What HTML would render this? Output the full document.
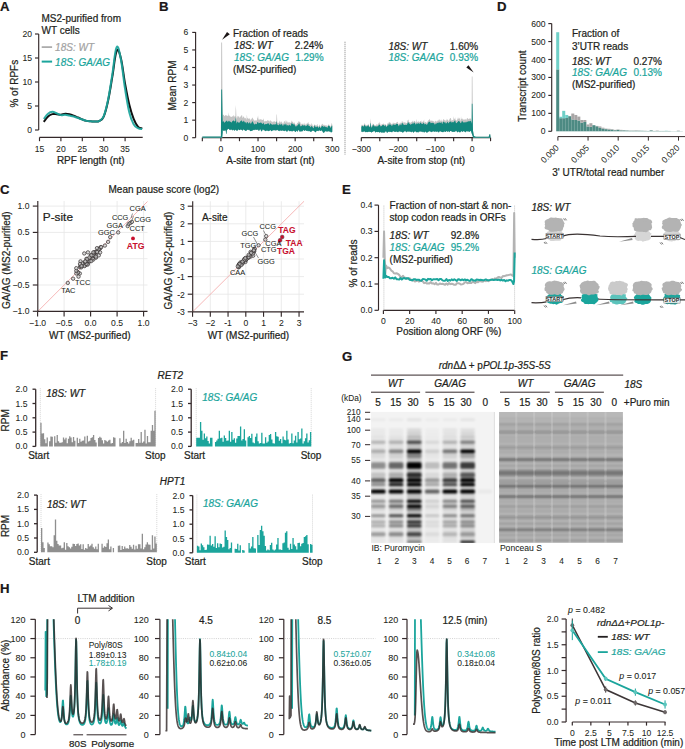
<!DOCTYPE html>
<html><head><meta charset="utf-8"><style>
html,body{margin:0;padding:0;background:#fff;}
svg{display:block;font-family:"Liberation Sans", sans-serif;}
</style></head><body>
<svg width="685" height="749" viewBox="0 0 685 749">
<rect width="685" height="749" fill="#fff"/>
<text x="0" y="10.6" font-size="13.2" fill="#1a1617" stroke="#1a1617" stroke-width="0.22" font-weight="bold">A</text>
<text x="41.5" y="21.8" font-size="10" fill="#231f20" stroke="#231f20" stroke-width="0.22">MS2-purified from</text>
<text x="41.5" y="33.6" font-size="10" fill="#231f20" stroke="#231f20" stroke-width="0.22">WT cells</text>
<line x1="38.7" y1="34" x2="38.7" y2="130" stroke="#34292a" stroke-width="1.15" />
<line x1="35" y1="34" x2="38.7" y2="34" stroke="#34292a" stroke-width="1.15" />
<text x="32" y="37" font-size="8.6" fill="#231f20" stroke="#231f20" stroke-width="0.06" text-anchor="end">20</text>
<line x1="35" y1="58" x2="38.7" y2="58" stroke="#34292a" stroke-width="1.15" />
<text x="32" y="61" font-size="8.6" fill="#231f20" stroke="#231f20" stroke-width="0.06" text-anchor="end">15</text>
<line x1="35" y1="82" x2="38.7" y2="82" stroke="#34292a" stroke-width="1.15" />
<text x="32" y="85" font-size="8.6" fill="#231f20" stroke="#231f20" stroke-width="0.06" text-anchor="end">10</text>
<line x1="35" y1="106" x2="38.7" y2="106" stroke="#34292a" stroke-width="1.15" />
<text x="32" y="109" font-size="8.6" fill="#231f20" stroke="#231f20" stroke-width="0.06" text-anchor="end">5</text>
<line x1="35" y1="130" x2="38.7" y2="130" stroke="#34292a" stroke-width="1.15" />
<text x="32" y="133" font-size="8.6" fill="#231f20" stroke="#231f20" stroke-width="0.06" text-anchor="end">0</text>
<text transform="translate(18.4,83.7) rotate(-90)" font-size="10" fill="#231f20" stroke="#231f20" stroke-width="0.22" text-anchor="middle">% of RPFs</text>
<line x1="39.5" y1="137.4" x2="142.7" y2="137.4" stroke="#34292a" stroke-width="1.15" />
<line x1="39.5" y1="137.4" x2="39.5" y2="141.2" stroke="#34292a" stroke-width="1.15" />
<text x="39.5" y="151.7" font-size="8.6" fill="#231f20" stroke="#231f20" stroke-width="0.06" text-anchor="middle">15</text>
<line x1="60.9" y1="137.4" x2="60.9" y2="141.2" stroke="#34292a" stroke-width="1.15" />
<text x="60.9" y="151.7" font-size="8.6" fill="#231f20" stroke="#231f20" stroke-width="0.06" text-anchor="middle">20</text>
<line x1="82.3" y1="137.4" x2="82.3" y2="141.2" stroke="#34292a" stroke-width="1.15" />
<text x="82.3" y="151.7" font-size="8.6" fill="#231f20" stroke="#231f20" stroke-width="0.06" text-anchor="middle">25</text>
<line x1="103.7" y1="137.4" x2="103.7" y2="141.2" stroke="#34292a" stroke-width="1.15" />
<text x="103.7" y="151.7" font-size="8.6" fill="#231f20" stroke="#231f20" stroke-width="0.06" text-anchor="middle">30</text>
<line x1="125.1" y1="137.4" x2="125.1" y2="141.2" stroke="#34292a" stroke-width="1.15" />
<text x="125.1" y="151.7" font-size="8.6" fill="#231f20" stroke="#231f20" stroke-width="0.06" text-anchor="middle">35</text>
<text x="90.8" y="163.7" font-size="10" fill="#231f20" stroke="#231f20" stroke-width="0.22" text-anchor="middle">RPF length (nt)</text>
<line x1="41.7" y1="47.1" x2="52.1" y2="47.1" stroke="#a3a3a3" stroke-width="1.6" />
<text x="55.1" y="50.8" font-size="10" fill="#a3a3a3" stroke="#a3a3a3" stroke-width="0.22" font-style="italic">18S: WT</text>
<line x1="41.7" y1="61.6" x2="52.1" y2="61.6" stroke="#1ba59c" stroke-width="2" />
<text x="55.1" y="65.5" font-size="10" fill="#1ba59c" stroke="#1ba59c" stroke-width="0.22" font-style="italic">18S: GA/AG</text>
<path d="M43.78,121.84 C44.64,120.78 46.35,118.1 48.06,116.56 C49.77,115.02 50.63,114.64 52.34,114.16 C54.05,113.68 54.91,114.06 56.62,114.16 C58.33,114.26 59.19,114.74 60.9,114.64 C62.61,114.54 63.47,113.78 65.18,113.68 C66.89,113.58 67.75,113.78 69.46,114.16 C71.17,114.54 72.03,114.93 73.74,115.6 C75.45,116.27 76.31,116.75 78.02,117.52 C79.73,118.29 80.59,118.77 82.3,119.44 C84.01,120.11 84.87,120.5 86.58,120.88 C88.29,121.26 89.15,121.22 90.86,121.36 C92.57,121.5 93.43,121.7 95.14,121.6 C96.85,121.5 97.71,121.89 99.42,120.88 C101.13,119.87 101.99,120.5 103.7,116.56 C105.41,112.62 106.27,109.07 107.98,101.2 C109.69,93.33 110.55,87.18 112.26,77.2 C113.97,67.22 114.83,55.12 116.54,51.28 C118.25,47.44 119.11,51.47 120.82,58 C122.53,64.53 123.39,74.51 125.1,83.92 C126.81,93.33 127.67,98.03 129.38,105.04 C131.09,112.05 131.95,114.64 133.66,118.96 C135.37,123.28 136.23,124.72 137.94,126.64 C139.65,128.56 141.36,128.18 142.22,128.56" stroke="#111" stroke-width="2" fill="none" stroke-linejoin="round"/>
<path d="M43.78,118.96 C44.64,117.9 46.35,115.12 48.06,113.68 C49.77,112.24 50.63,111.86 52.34,111.76 C54.05,111.66 54.91,112.53 56.62,113.2 C58.33,113.87 59.19,114.83 60.9,115.12 C62.61,115.41 63.47,114.54 65.18,114.64 C66.89,114.74 67.75,115.22 69.46,115.6 C71.17,115.98 72.03,116.08 73.74,116.56 C75.45,117.04 76.31,117.42 78.02,118 C79.73,118.58 80.59,118.86 82.3,119.44 C84.01,120.02 84.87,120.5 86.58,120.88 C88.29,121.26 89.15,121.22 90.86,121.36 C92.57,121.5 93.43,121.7 95.14,121.6 C96.85,121.5 97.71,121.98 99.42,120.88 C101.13,119.78 101.99,120.21 103.7,116.08 C105.41,111.95 106.27,108.5 107.98,100.24 C109.69,91.98 110.55,85.36 112.26,74.8 C113.97,64.24 114.83,50.61 116.54,47.44 C118.25,44.27 119.11,50.61 120.82,58.96 C122.53,67.31 123.39,78.45 125.1,89.2 C126.81,99.95 127.67,105.71 129.38,112.72 C131.09,119.73 131.95,121.17 133.66,124.24 C135.37,127.31 136.23,127.12 137.94,128.08 C139.65,129.04 141.36,128.85 142.22,129.04" stroke="#1ba59c" stroke-width="2" fill="none" stroke-linejoin="round" opacity="0.92"/>
<text x="159" y="10.6" font-size="13.2" fill="#1a1617" stroke="#1a1617" stroke-width="0.22" font-weight="bold">B</text>
<line x1="195.6" y1="32" x2="195.6" y2="137.7" stroke="#34292a" stroke-width="1.15" />
<line x1="192.2" y1="32.4" x2="195.6" y2="32.4" stroke="#34292a" stroke-width="1.15" />
<text x="188.3" y="35.4" font-size="8.6" fill="#231f20" stroke="#231f20" stroke-width="0.06" text-anchor="end">6</text>
<line x1="192.2" y1="49.95" x2="195.6" y2="49.95" stroke="#34292a" stroke-width="1.15" />
<text x="188.3" y="52.95" font-size="8.6" fill="#231f20" stroke="#231f20" stroke-width="0.06" text-anchor="end">5</text>
<line x1="192.2" y1="67.5" x2="195.6" y2="67.5" stroke="#34292a" stroke-width="1.15" />
<text x="188.3" y="70.5" font-size="8.6" fill="#231f20" stroke="#231f20" stroke-width="0.06" text-anchor="end">4</text>
<line x1="192.2" y1="85.05" x2="195.6" y2="85.05" stroke="#34292a" stroke-width="1.15" />
<text x="188.3" y="88.05" font-size="8.6" fill="#231f20" stroke="#231f20" stroke-width="0.06" text-anchor="end">3</text>
<line x1="192.2" y1="102.6" x2="195.6" y2="102.6" stroke="#34292a" stroke-width="1.15" />
<text x="188.3" y="105.6" font-size="8.6" fill="#231f20" stroke="#231f20" stroke-width="0.06" text-anchor="end">2</text>
<line x1="192.2" y1="120.15" x2="195.6" y2="120.15" stroke="#34292a" stroke-width="1.15" />
<text x="188.3" y="123.15" font-size="8.6" fill="#231f20" stroke="#231f20" stroke-width="0.06" text-anchor="end">1</text>
<line x1="192.2" y1="137.7" x2="195.6" y2="137.7" stroke="#34292a" stroke-width="1.15" />
<text x="188.3" y="140.7" font-size="8.6" fill="#231f20" stroke="#231f20" stroke-width="0.06" text-anchor="end">0</text>
<text transform="translate(176.3,85.5) rotate(-90)" font-size="10" fill="#231f20" stroke="#231f20" stroke-width="0.22" text-anchor="middle">Mean RPM</text>
<line x1="202.34" y1="137.6" x2="332.29" y2="137.6" stroke="#34292a" stroke-width="1.15" />
<line x1="202.34" y1="137.6" x2="202.34" y2="141.2" stroke="#34292a" stroke-width="1.15" />
<line x1="220.9" y1="137.6" x2="220.9" y2="141.2" stroke="#34292a" stroke-width="1.15" />
<text x="220.9" y="151.5" font-size="8.6" fill="#231f20" stroke="#231f20" stroke-width="0.06" text-anchor="middle">0</text>
<line x1="239.47" y1="137.6" x2="239.47" y2="141.2" stroke="#34292a" stroke-width="1.15" />
<line x1="258.03" y1="137.6" x2="258.03" y2="141.2" stroke="#34292a" stroke-width="1.15" />
<text x="258.03" y="151.5" font-size="8.6" fill="#231f20" stroke="#231f20" stroke-width="0.06" text-anchor="middle">100</text>
<line x1="276.6" y1="137.6" x2="276.6" y2="141.2" stroke="#34292a" stroke-width="1.15" />
<line x1="295.16" y1="137.6" x2="295.16" y2="141.2" stroke="#34292a" stroke-width="1.15" />
<text x="295.16" y="151.5" font-size="8.6" fill="#231f20" stroke="#231f20" stroke-width="0.06" text-anchor="middle">200</text>
<line x1="313.73" y1="137.6" x2="313.73" y2="141.2" stroke="#34292a" stroke-width="1.15" />
<line x1="332.29" y1="137.6" x2="332.29" y2="141.2" stroke="#34292a" stroke-width="1.15" />
<text x="332.29" y="151.5" font-size="8.6" fill="#231f20" stroke="#231f20" stroke-width="0.06" text-anchor="middle">300</text>
<text x="270.5" y="163.7" font-size="10" fill="#231f20" stroke="#231f20" stroke-width="0.22" text-anchor="middle">A-site from start (nt)</text>
<line x1="361.31" y1="137.6" x2="490.56" y2="137.6" stroke="#34292a" stroke-width="1.15" />
<line x1="361.31" y1="137.6" x2="361.31" y2="141.2" stroke="#34292a" stroke-width="1.15" />
<text x="361.31" y="151.5" font-size="8.6" fill="#231f20" stroke="#231f20" stroke-width="0.06" text-anchor="middle">−300</text>
<line x1="379.78" y1="137.6" x2="379.78" y2="141.2" stroke="#34292a" stroke-width="1.15" />
<line x1="398.24" y1="137.6" x2="398.24" y2="141.2" stroke="#34292a" stroke-width="1.15" />
<text x="398.24" y="151.5" font-size="8.6" fill="#231f20" stroke="#231f20" stroke-width="0.06" text-anchor="middle">−200</text>
<line x1="416.71" y1="137.6" x2="416.71" y2="141.2" stroke="#34292a" stroke-width="1.15" />
<line x1="435.17" y1="137.6" x2="435.17" y2="141.2" stroke="#34292a" stroke-width="1.15" />
<text x="435.17" y="151.5" font-size="8.6" fill="#231f20" stroke="#231f20" stroke-width="0.06" text-anchor="middle">−100</text>
<line x1="453.64" y1="137.6" x2="453.64" y2="141.2" stroke="#34292a" stroke-width="1.15" />
<line x1="472.1" y1="137.6" x2="472.1" y2="141.2" stroke="#34292a" stroke-width="1.15" />
<text x="472.1" y="151.5" font-size="8.6" fill="#231f20" stroke="#231f20" stroke-width="0.06" text-anchor="middle">0</text>
<line x1="490.56" y1="137.6" x2="490.56" y2="141.2" stroke="#34292a" stroke-width="1.15" />
<text x="421.3" y="163.7" font-size="10" fill="#231f20" stroke="#231f20" stroke-width="0.22" text-anchor="middle">A-site from stop (nt)</text>
<line x1="345" y1="41.8" x2="345" y2="154.5" stroke="#8a8a8a" stroke-width="1.1" stroke-dasharray="1,1"/>
<path d="M202.34,136.65 L220.9,136.65 L221.2,42.58 L222.09,42.58 L222.57,113.13 L222.76,115.67 L223.13,115.03 L223.5,114.7 L223.87,114.76 L224.24,115.8 L224.61,116.27 L224.98,115.91 L225.36,115.33 L225.73,115.04 L226.1,115.32 L226.47,115.3 L226.84,115.75 L227.21,115.5 L227.58,116.19 L227.95,115.92 L228.33,112.14 L228.7,115.65 L229.07,115.63 L229.44,115.18 L229.81,115.91 L230.18,116.81 L230.55,116.78 L230.93,116.35 L231.3,116.66 L231.67,116.89 L232.04,116.9 L232.41,116.04 L232.78,116.51 L233.15,115.04 L233.52,115.56 L233.9,116.73 L234.27,115.5 L234.64,117.21 L235.01,116.28 L235.38,116.06 L235.75,105.04 L236.12,110.03 L236.49,119.31 L236.87,117.05 L237.24,117.73 L237.61,115.72 L237.98,116.04 L238.35,116.25 L238.72,116.71 L239.09,116.6 L239.47,117.33 L239.84,118.13 L240.21,116.99 L240.58,116.33 L240.95,116.51 L241.32,115.62 L241.69,115.23 L242.06,114.93 L242.44,117.44 L242.81,117.99 L243.18,116.97 L243.55,116.1 L243.92,117 L244.29,117.41 L244.66,118.46 L245.03,118.1 L245.41,118.54 L245.78,117.59 L246.15,119.88 L246.52,118.86 L246.89,114.48 L247.26,117.88 L247.63,118.34 L248,118.25 L248.38,118.5 L248.75,119.07 L249.12,119.31 L249.49,118.37 L249.86,118.34 L250.23,119.34 L250.6,120.89 L250.98,119.76 L251.35,119.35 L251.72,118.39 L252.09,118.55 L252.46,117.4 L252.83,117.8 L253.2,119.17 L253.57,119.28 L253.95,120.54 L254.32,120.27 L254.69,120.63 L255.06,121.08 L255.43,119.89 L255.8,120.62 L256.17,120.51 L256.54,120.39 L256.92,120.33 L257.29,117.75 L257.66,117.69 L258.03,115.31 L258.4,118.79 L258.77,119.7 L259.14,119.49 L259.52,119.97 L259.89,118.83 L260.26,119.02 L260.63,119.47 L261,119.65 L261.37,119.86 L261.74,119.28 L262.11,119.73 L262.49,120.12 L262.86,119.95 L263.23,119.45 L263.6,118.24 L263.97,120.58 L264.34,121.7 L264.71,121.45 L265.08,120.78 L265.46,121.12 L265.83,121.42 L266.2,121.11 L266.57,121.05 L266.94,121.42 L267.31,120.34 L267.68,120.22 L268.06,120.27 L268.43,120.91 L268.8,120.51 L269.17,120.87 L269.54,122.09 L269.91,120.43 L270.28,120.05 L270.65,120.69 L271.03,121.5 L271.4,121 L271.77,121.59 L272.14,122.55 L272.51,121.37 L272.88,122.21 L273.25,122.02 L273.62,121.33 L274,121.19 L274.37,121.25 L274.74,121.46 L275.11,121.83 L275.48,121.75 L275.85,121.97 L276.22,122.28 L276.6,113.78 L276.97,115.32 L277.34,123.18 L277.71,122.53 L278.08,122.32 L278.45,122.65 L278.82,123.3 L279.19,121.9 L279.57,121.33 L279.94,120.47 L280.31,121.98 L280.68,122.6 L281.05,122.86 L281.42,121.53 L281.79,121.59 L282.16,122.59 L282.54,123.41 L282.91,123.76 L283.28,123.65 L283.65,122.39 L284.02,121.25 L284.39,121.1 L284.76,121.57 L285.13,123.09 L285.51,122.12 L285.88,120.07 L286.25,120.78 L286.62,121.87 L286.99,122.68 L287.36,122.71 L287.73,121.08 L288.11,122.75 L288.48,122.8 L288.85,121.68 L289.22,122.39 L289.59,121.79 L289.96,123.18 L290.33,123.03 L290.7,122.78 L291.08,121.79 L291.45,120.27 L291.82,122.1 L292.19,121.68 L292.56,121.45 L292.93,122.03 L293.3,123 L293.67,123.16 L294.05,122.02 L294.42,122.82 L294.79,123.16 L295.16,124.39 L295.53,124.24 L295.9,125.36 L296.27,124.45 L296.65,124.47 L297.02,123.11 L297.39,123.3 L297.76,122.5 L298.13,122.68 L298.5,120.99 L298.87,121.62 L299.24,121.96 L299.62,121.19 L299.99,122.34 L300.36,122.34 L300.73,124.06 L301.1,124.69 L301.47,123.9 L301.84,123.49 L302.21,123.94 L302.59,123.79 L302.96,123.6 L303.33,123.45 L303.7,125.06 L304.07,124.5 L304.44,124.24 L304.81,122.5 L305.19,123.66 L305.56,124.73 L305.93,125.18 L306.3,123.94 L306.67,123.82 L307.04,122.95 L307.41,123.69 L307.78,122.71 L308.16,121.87 L308.53,122.88 L308.9,124.23 L309.27,124.89 L309.64,123.74 L310.01,124.34 L310.38,124.5 L310.75,125.32 L311.13,125.09 L311.5,123.14 L311.87,123.42 L312.24,124.41 L312.61,125.21 L312.98,126.52 L313.35,125.93 L313.73,126.37 L314.1,124.46 L314.47,124.45 L314.84,124.63 L315.21,125.47 L315.58,125.13 L315.95,124.79 L316.32,125.69 L316.7,125.44 L317.07,124.19 L317.44,123.89 L317.81,125.41 L318.18,126.14 L318.55,126.48 L318.92,126.18 L319.29,124.92 L319.67,124.39 L320.04,125.62 L320.41,126.94 L320.78,126.4 L321.15,124.64 L321.52,124.26 L321.89,125.31 L322.26,123.5 L322.64,124.09 L323.01,124.42 L323.38,125.13 L323.75,124.78 L324.12,124.45 L324.49,125.26 L324.86,125.45 L325.24,125.27 L325.61,125.2 L325.98,125.76 L326.35,125.57 L326.72,125.27 L327.09,125.94 L327.46,126.85 L327.83,125.35 L328.21,124.81 L328.58,124.74 L328.95,123.89 L329.32,125.24 L329.69,125.45 L330.06,125.46 L330.43,127.04 L330.8,126.08 L331.18,125.25 L331.55,123.1 L331.92,123.56 L332.29,124.92 L332.29,131.68 L331.92,131.96 L331.55,132.11 L331.18,132.74 L330.8,132.29 L330.43,131.7 L330.06,131.53 L329.69,131.78 L329.32,131.56 L328.95,130.96 L328.58,131.16 L328.21,131.51 L327.83,131.67 L327.46,131.34 L327.09,131.44 L326.72,131.56 L326.35,131.6 L325.98,131.33 L325.61,131.27 L325.24,131.18 L324.86,131.6 L324.49,132.15 L324.12,132.62 L323.75,132.74 L323.38,132.84 L323.01,132.38 L322.64,131.57 L322.26,131.2 L321.89,130.77 L321.52,130.56 L321.15,130.14 L320.78,130.72 L320.41,130.93 L320.04,131.03 L319.67,130.36 L319.29,130.51 L318.92,130.35 L318.55,131.23 L318.18,131.12 L317.81,131.1 L317.44,130.88 L317.07,130.61 L316.7,130.98 L316.32,131.25 L315.95,132.03 L315.58,132.22 L315.21,132.25 L314.84,131.8 L314.47,131.31 L314.1,131.21 L313.73,130.9 L313.35,130.71 L312.98,130.22 L312.61,130.72 L312.24,131.06 L311.87,131.13 L311.5,131.58 L311.13,131.7 L310.75,132.04 L310.38,131.56 L310.01,131.56 L309.64,131.22 L309.27,130.99 L308.9,130.71 L308.53,131.25 L308.16,131.17 L307.78,131.36 L307.41,130.81 L307.04,130.65 L306.67,130.99 L306.3,130.75 L305.93,130.62 L305.56,130.23 L305.19,130.34 L304.81,130.81 L304.44,131.09 L304.07,130.67 L303.7,130.29 L303.33,129.81 L302.96,130.84 L302.59,130.95 L302.21,131.57 L301.84,131.37 L301.47,131.6 L301.1,131.28 L300.73,131.29 L300.36,131.47 L299.99,131.9 L299.62,131.44 L299.24,131.04 L298.87,130.28 L298.5,130.11 L298.13,130.48 L297.76,131.17 L297.39,131.79 L297.02,131.44 L296.65,130.77 L296.27,130.85 L295.9,131.55 L295.53,132.11 L295.16,132.11 L294.79,131.26 L294.42,131.16 L294.05,130.42 L293.67,130.75 L293.3,130.69 L292.93,131.18 L292.56,131.38 L292.19,130.96 L291.82,131.05 L291.45,130.88 L291.08,131.69 L290.7,130.98 L290.33,131.11 L289.96,130.85 L289.59,131.43 L289.22,131.02 L288.85,130.7 L288.48,130.25 L288.11,130.27 L287.73,130.8 L287.36,131.44 L286.99,131.89 L286.62,131.45 L286.25,130.91 L285.88,130.63 L285.51,130.47 L285.13,130.38 L284.76,130.63 L284.39,131.13 L284.02,130.89 L283.65,131.12 L283.28,130.54 L282.91,130.58 L282.54,130.51 L282.16,130.53 L281.79,130.8 L281.42,130.79 L281.05,130.86 L280.68,130.81 L280.31,130.2 L279.94,130.44 L279.57,130.64 L279.19,131.31 L278.82,131.1 L278.45,130.89 L278.08,129.94 L277.71,129.69 L277.34,130.14 L276.97,130.31 L276.6,130.41 L276.22,129.94 L275.85,130.51 L275.48,130.39 L275.11,130.28 L274.74,130.18 L274.37,129.97 L274,130.72 L273.62,130.12 L273.25,130.17 L272.88,130.15 L272.51,130.41 L272.14,131.1 L271.77,131.08 L271.4,131.21 L271.03,131.08 L270.65,130.13 L270.28,130.08 L269.91,130.28 L269.54,130.8 L269.17,130.96 L268.8,130.81 L268.43,131.35 L268.06,131.07 L267.68,130.79 L267.31,130.39 L266.94,130.82 L266.57,130.52 L266.2,130.81 L265.83,131.04 L265.46,131.15 L265.08,130.77 L264.71,130.51 L264.34,130.35 L263.97,130.54 L263.6,129.87 L263.23,129.87 L262.86,129.36 L262.49,130.16 L262.11,130.83 L261.74,131.4 L261.37,131.33 L261,130.66 L260.63,129.79 L260.26,129.29 L259.89,129.44 L259.52,130.25 L259.14,130.74 L258.77,131.02 L258.4,130.2 L258.03,129.62 L257.66,129.69 L257.29,129.8 L256.92,129.81 L256.54,129.72 L256.17,130.05 L255.8,129.93 L255.43,129.52 L255.06,129.62 L254.69,129.86 L254.32,130.26 L253.95,129.66 L253.57,130.17 L253.2,129.83 L252.83,130.58 L252.46,130.33 L252.09,131 L251.72,130.92 L251.35,130.78 L250.98,130.94 L250.6,131.12 L250.23,131.36 L249.86,130.72 L249.49,130 L249.12,129.83 L248.75,129.69 L248.38,130.31 L248,129.7 L247.63,129.71 L247.26,129.77 L246.89,130.48 L246.52,130.6 L246.15,130.63 L245.78,130.67 L245.41,131.12 L245.03,130.53 L244.66,130.32 L244.29,129.95 L243.92,129.72 L243.55,129.37 L243.18,129.84 L242.81,130.69 L242.44,130.52 L242.06,129.9 L241.69,129.52 L241.32,129.94 L240.95,129.9 L240.58,129.59 L240.21,129.38 L239.84,129.96 L239.47,129.96 L239.09,130.27 L238.72,129.35 L238.35,129.62 L237.98,129.98 L237.61,130.6 L237.24,130.76 L236.87,130.4 L236.49,130.46 L236.12,130.4 L235.75,129.99 L235.38,129.71 L235.01,129.86 L234.64,130.5 L234.27,130.92 L233.9,130.26 L233.52,129.82 L233.15,129.73 L232.78,130.58 L232.41,130.16 L232.04,129.68 L231.67,129.62 L231.3,129.86 L230.93,130.12 L230.55,129.37 L230.18,130.13 L229.81,129.8 L229.44,130.01 L229.07,128.97 L228.7,128.92 L228.33,128.81 L227.95,128.93 L227.58,129.72 L227.21,129.53 L226.84,130.44 L226.47,133.88 L226.1,133.83 L225.73,130.23 L225.36,130.33 L224.98,131.26 L224.61,130.49 L224.24,130.43 L223.87,130.47 L223.5,130.67 L223.13,130.71 L222.76,130.08 L222.57,128.92 L222.2,137.7 L202.34,137.7 Z" stroke="none" stroke-width="1" fill="#c4c4c4" />
<path d="M202.34,136.47 L220.9,136.47 L221.27,89.44 L222.09,89.44 L222.57,116.64 L222.76,121.96 L223.13,121.37 L223.5,121.25 L223.87,121.78 L224.24,122.8 L224.61,122.46 L224.98,122.15 L225.36,121.8 L225.73,121.55 L226.1,121.22 L226.47,120.22 L226.84,121.12 L227.21,120.85 L227.58,122.03 L227.95,121.78 L228.33,121.41 L228.7,120.81 L229.07,120.65 L229.44,121 L229.81,121.79 L230.18,121.78 L230.55,121.94 L230.93,121.56 L231.3,122.8 L231.67,122.36 L232.04,122.09 L232.41,120.95 L232.78,120.95 L233.15,120.56 L233.52,120.24 L233.9,121.07 L234.27,120.95 L234.64,121.77 L235.01,120.88 L235.38,120.77 L235.75,116.98 L236.12,120.11 L236.49,123.87 L236.87,122.43 L237.24,121.94 L237.61,121.27 L237.98,122.41 L238.35,122.31 L238.72,122.74 L239.09,122.67 L239.47,122.56 L239.84,122.25 L240.21,121.33 L240.58,121.19 L240.95,120.63 L241.32,120.73 L241.69,120.23 L242.06,120.68 L242.44,121.87 L242.81,122.11 L243.18,121.64 L243.55,120.41 L243.92,120.92 L244.29,121.36 L244.66,122.55 L245.03,122.12 L245.41,122.38 L245.78,122.28 L246.15,123.59 L246.52,123.14 L246.89,121.97 L247.26,121.95 L247.63,122.06 L248,123.05 L248.38,122.97 L248.75,123.84 L249.12,123.26 L249.49,122.06 L249.86,122.5 L250.23,122.78 L250.6,124.19 L250.98,123.08 L251.35,123.57 L251.72,122.18 L252.09,121.76 L252.46,121.49 L252.83,121.31 L253.2,122.46 L253.57,123.2 L253.95,123.89 L254.32,124.38 L254.69,124.2 L255.06,124.54 L255.43,123.58 L255.8,123.67 L256.17,124.31 L256.54,123.9 L256.92,123.65 L257.29,122.13 L257.66,122.1 L258.03,122.01 L258.4,122.87 L258.77,123.52 L259.14,123.09 L259.52,122.88 L259.89,122.84 L260.26,122.9 L260.63,122.34 L261,122.44 L261.37,122.78 L261.74,123.17 L262.11,123.65 L262.49,123.89 L262.86,123.47 L263.23,123.01 L263.6,122.62 L263.97,124.26 L264.34,124.46 L264.71,124.43 L265.08,124.43 L265.46,124.11 L265.83,124.05 L266.2,124 L266.57,124 L266.94,124.3 L267.31,123.27 L267.68,123.76 L268.06,123.37 L268.43,123.29 L268.8,123.87 L269.17,124.98 L269.54,125.1 L269.91,123.53 L270.28,123.23 L270.65,123.62 L271.03,124.27 L271.4,124.17 L271.77,124.35 L272.14,124.84 L272.51,124.77 L272.88,124.4 L273.25,124.44 L273.62,124.45 L274,124.17 L274.37,124.65 L274.74,124.35 L275.11,124.43 L275.48,123.97 L275.85,124.58 L276.22,124.48 L276.6,121.11 L276.97,122.07 L277.34,125.34 L277.71,124.59 L278.08,124.75 L278.45,124.96 L278.82,125.59 L279.19,124.38 L279.57,124.2 L279.94,123.34 L280.31,124.48 L280.68,124.67 L281.05,125.04 L281.42,123.85 L281.79,123.68 L282.16,124.42 L282.54,125.72 L282.91,125.61 L283.28,125.69 L283.65,124.55 L284.02,124.05 L284.39,124.08 L284.76,124.99 L285.13,125.07 L285.51,124.31 L285.88,123.44 L286.25,124.24 L286.62,125.12 L286.99,126.01 L287.36,125.27 L287.73,125.06 L288.11,124.98 L288.48,125.64 L288.85,125.41 L289.22,125.32 L289.59,124.49 L289.96,124.96 L290.33,125.66 L290.7,125.64 L291.08,124.44 L291.45,122.8 L291.82,123.68 L292.19,123.58 L292.56,123.7 L292.93,124.08 L293.3,124.44 L293.67,124.62 L294.05,123.89 L294.42,124.29 L294.79,125.24 L295.16,125.8 L295.53,126.31 L295.9,126.7 L296.27,126.3 L296.65,126.22 L297.02,124.99 L297.39,125.93 L297.76,124.91 L298.13,125.12 L298.5,123.66 L298.87,123.69 L299.24,123.37 L299.62,123.97 L299.99,125.48 L300.36,125.76 L300.73,126.46 L301.1,126 L301.47,126.16 L301.84,125.58 L302.21,125.41 L302.59,124.96 L302.96,124.84 L303.33,124.98 L303.7,126.15 L304.07,125.75 L304.44,125.54 L304.81,124.67 L305.19,125.55 L305.56,126.04 L305.93,126.48 L306.3,125.71 L306.67,125.78 L307.04,125.36 L307.41,125.21 L307.78,124.16 L308.16,124.12 L308.53,125.68 L308.9,126 L309.27,125.96 L309.64,125.9 L310.01,126.52 L310.38,127.55 L310.75,126.76 L311.13,126.52 L311.5,126.2 L311.87,125.8 L312.24,126.53 L312.61,127.25 L312.98,127.59 L313.35,128.07 L313.73,128.18 L314.1,126.77 L314.47,125.56 L314.84,125.55 L315.21,126.36 L315.58,127.29 L315.95,126.93 L316.32,127.2 L316.7,126.66 L317.07,126.22 L317.44,126.23 L317.81,127.01 L318.18,127.47 L318.55,127.89 L318.92,127.29 L319.29,126.66 L319.67,126.25 L320.04,127.07 L320.41,127.99 L320.78,128.02 L321.15,127.16 L321.52,126.16 L321.89,126.17 L322.26,125.86 L322.64,126.15 L323.01,126.08 L323.38,126.82 L323.75,127.06 L324.12,126.62 L324.49,126.56 L324.86,126.24 L325.24,126.67 L325.61,126.99 L325.98,127.27 L326.35,126.9 L326.72,127.21 L327.09,127.41 L327.46,127.89 L327.83,126.55 L328.21,125.7 L328.58,125.81 L328.95,125.8 L329.32,126.06 L329.69,126.27 L330.06,127.02 L330.43,128.17 L330.8,127.26 L331.18,126.94 L331.55,125.68 L331.92,125.73 L332.29,125.74 L332.29,131.68 L331.92,131.96 L331.55,132.11 L331.18,132.74 L330.8,132.29 L330.43,131.7 L330.06,131.53 L329.69,131.78 L329.32,131.56 L328.95,130.96 L328.58,131.16 L328.21,131.51 L327.83,131.67 L327.46,131.34 L327.09,131.44 L326.72,131.56 L326.35,131.6 L325.98,131.33 L325.61,131.27 L325.24,131.18 L324.86,131.6 L324.49,132.15 L324.12,132.62 L323.75,132.74 L323.38,132.84 L323.01,132.38 L322.64,131.57 L322.26,131.2 L321.89,130.77 L321.52,130.56 L321.15,130.14 L320.78,130.72 L320.41,130.93 L320.04,131.03 L319.67,130.36 L319.29,130.51 L318.92,130.35 L318.55,131.23 L318.18,131.12 L317.81,131.1 L317.44,130.88 L317.07,130.61 L316.7,130.98 L316.32,131.25 L315.95,132.03 L315.58,132.22 L315.21,132.25 L314.84,131.8 L314.47,131.31 L314.1,131.21 L313.73,130.9 L313.35,130.71 L312.98,130.22 L312.61,130.72 L312.24,131.06 L311.87,131.13 L311.5,131.58 L311.13,131.7 L310.75,132.04 L310.38,131.56 L310.01,131.56 L309.64,131.22 L309.27,130.99 L308.9,130.71 L308.53,131.25 L308.16,131.17 L307.78,131.36 L307.41,130.81 L307.04,130.65 L306.67,130.99 L306.3,130.75 L305.93,130.62 L305.56,130.23 L305.19,130.34 L304.81,130.81 L304.44,131.09 L304.07,130.67 L303.7,130.29 L303.33,129.81 L302.96,130.84 L302.59,130.95 L302.21,131.57 L301.84,131.37 L301.47,131.6 L301.1,131.28 L300.73,131.29 L300.36,131.47 L299.99,131.9 L299.62,131.44 L299.24,131.04 L298.87,130.28 L298.5,130.11 L298.13,130.48 L297.76,131.17 L297.39,131.79 L297.02,131.44 L296.65,130.77 L296.27,130.85 L295.9,131.55 L295.53,132.11 L295.16,132.11 L294.79,131.26 L294.42,131.16 L294.05,130.42 L293.67,130.75 L293.3,130.69 L292.93,131.18 L292.56,131.38 L292.19,130.96 L291.82,131.05 L291.45,130.88 L291.08,131.69 L290.7,130.98 L290.33,131.11 L289.96,130.85 L289.59,131.43 L289.22,131.02 L288.85,130.7 L288.48,130.25 L288.11,130.27 L287.73,130.8 L287.36,131.44 L286.99,131.89 L286.62,131.45 L286.25,130.91 L285.88,130.63 L285.51,130.47 L285.13,130.38 L284.76,130.63 L284.39,131.13 L284.02,130.89 L283.65,131.12 L283.28,130.54 L282.91,130.58 L282.54,130.51 L282.16,130.53 L281.79,130.8 L281.42,130.79 L281.05,130.86 L280.68,130.81 L280.31,130.2 L279.94,130.44 L279.57,130.64 L279.19,131.31 L278.82,131.1 L278.45,130.89 L278.08,129.94 L277.71,129.69 L277.34,130.14 L276.97,130.31 L276.6,130.41 L276.22,129.94 L275.85,130.51 L275.48,130.39 L275.11,130.28 L274.74,130.18 L274.37,129.97 L274,130.72 L273.62,130.12 L273.25,130.17 L272.88,130.15 L272.51,130.41 L272.14,131.1 L271.77,131.08 L271.4,131.21 L271.03,131.08 L270.65,130.13 L270.28,130.08 L269.91,130.28 L269.54,130.8 L269.17,130.96 L268.8,130.81 L268.43,131.35 L268.06,131.07 L267.68,130.79 L267.31,130.39 L266.94,130.82 L266.57,130.52 L266.2,130.81 L265.83,131.04 L265.46,131.15 L265.08,130.77 L264.71,130.51 L264.34,130.35 L263.97,130.54 L263.6,129.87 L263.23,129.87 L262.86,129.36 L262.49,130.16 L262.11,130.83 L261.74,131.4 L261.37,131.33 L261,130.66 L260.63,129.79 L260.26,129.29 L259.89,129.44 L259.52,130.25 L259.14,130.74 L258.77,131.02 L258.4,130.2 L258.03,129.62 L257.66,129.69 L257.29,129.8 L256.92,129.81 L256.54,129.72 L256.17,130.05 L255.8,129.93 L255.43,129.52 L255.06,129.62 L254.69,129.86 L254.32,130.26 L253.95,129.66 L253.57,130.17 L253.2,129.83 L252.83,130.58 L252.46,130.33 L252.09,131 L251.72,130.92 L251.35,130.78 L250.98,130.94 L250.6,131.12 L250.23,131.36 L249.86,130.72 L249.49,130 L249.12,129.83 L248.75,129.69 L248.38,130.31 L248,129.7 L247.63,129.71 L247.26,129.77 L246.89,130.48 L246.52,130.6 L246.15,130.63 L245.78,130.67 L245.41,131.12 L245.03,130.53 L244.66,130.32 L244.29,129.95 L243.92,129.72 L243.55,129.37 L243.18,129.84 L242.81,130.69 L242.44,130.52 L242.06,129.9 L241.69,129.52 L241.32,129.94 L240.95,129.9 L240.58,129.59 L240.21,129.38 L239.84,129.96 L239.47,129.96 L239.09,130.27 L238.72,129.35 L238.35,129.62 L237.98,129.98 L237.61,130.6 L237.24,130.76 L236.87,130.4 L236.49,130.46 L236.12,130.4 L235.75,129.99 L235.38,129.71 L235.01,129.86 L234.64,130.5 L234.27,130.92 L233.9,130.26 L233.52,129.82 L233.15,129.73 L232.78,130.58 L232.41,130.16 L232.04,129.68 L231.67,129.62 L231.3,129.86 L230.93,130.12 L230.55,129.37 L230.18,130.13 L229.81,129.8 L229.44,130.01 L229.07,128.97 L228.7,128.92 L228.33,128.81 L227.95,128.93 L227.58,129.72 L227.21,129.53 L226.84,130.44 L226.47,133.88 L226.1,133.83 L225.73,130.23 L225.36,130.33 L224.98,131.26 L224.61,130.49 L224.24,130.43 L223.87,130.47 L223.5,130.67 L223.13,130.71 L222.76,130.08 L222.76,132.44 L222.2,137.7 L202.34,137.7 Z" stroke="none" stroke-width="1" fill="#12877e" />
<path d="M361.31,124.55 L361.68,125.28 L362.05,124.53 L362.42,124.89 L362.79,124.96 L363.16,126.02 L363.53,125.3 L363.9,124.69 L364.26,123.39 L364.63,123.24 L365,124.05 L365.37,125.11 L365.74,124.75 L366.11,125.03 L366.48,125.56 L366.85,125.29 L367.22,125.06 L367.59,125.05 L367.96,124.18 L368.33,123.83 L368.7,124.67 L369.07,125.73 L369.43,126.09 L369.8,126.24 L370.17,125.22 L370.54,118.24 L370.91,122.5 L371.28,126.22 L371.65,126.4 L372.02,126.01 L372.39,125.15 L372.76,123.31 L373.13,123.93 L373.5,123.79 L373.87,124.1 L374.24,124.92 L374.6,125.06 L374.97,125.22 L375.34,125.17 L375.71,125.47 L376.08,125.38 L376.45,124.3 L376.82,124.25 L377.19,124.3 L377.56,124.95 L377.93,124.46 L378.3,122.52 L378.67,123.79 L379.04,123.57 L379.41,123.36 L379.78,121.5 L380.14,123.37 L380.51,125.45 L380.88,124.8 L381.25,123.97 L381.62,124.93 L381.99,124.57 L382.36,123.85 L382.73,124.1 L383.1,123.77 L383.47,123.5 L383.84,123.74 L384.21,124.49 L384.58,124.66 L384.95,124.1 L385.31,123.93 L385.68,124.23 L386.05,125.53 L386.42,125.75 L386.79,125.53 L387.16,123.56 L387.53,123.59 L387.9,123.47 L388.27,124.53 L388.64,122.78 L389.01,121.79 L389.38,122 L389.75,122.59 L390.12,122.83 L390.48,122.78 L390.85,122.67 L391.22,123.63 L391.59,123.92 L391.96,124.55 L392.33,124.38 L392.7,123 L393.07,122.22 L393.44,123.07 L393.81,123.5 L394.18,122.77 L394.55,123.19 L394.92,123.26 L395.29,123.29 L395.65,123.31 L396.02,122.96 L396.39,121.97 L396.76,122.8 L397.13,122.26 L397.5,121.71 L397.87,121.98 L398.24,123.17 L398.61,124.77 L398.98,124.84 L399.35,123.74 L399.72,123.32 L400.09,122.09 L400.46,122.98 L400.83,123.79 L401.19,123.41 L401.56,122.55 L401.93,121.07 L402.3,121.42 L402.67,121.66 L403.04,121.59 L403.41,123.33 L403.78,122.26 L404.15,122.22 L404.52,121.9 L404.89,122.98 L405.26,123.62 L405.63,121.75 L406,123.12 L406.36,123.21 L406.73,123.01 L407.1,122.59 L407.47,120.75 L407.84,119.97 L408.21,119.43 L408.58,120.3 L408.95,122.15 L409.32,121.93 L409.69,122.13 L410.06,122.36 L410.43,122.96 L410.8,122.53 L411.17,122.22 L411.53,121.6 L411.9,122.15 L412.27,121.27 L412.64,121.55 L413.01,119.93 L413.38,122.65 L413.75,121.77 L414.12,120.69 L414.49,120.97 L414.86,120.99 L415.23,121.42 L415.6,122.16 L415.97,123 L416.34,121.78 L416.71,118.7 L417.07,121.81 L417.44,121.74 L417.81,122.23 L418.18,120.39 L418.55,121.86 L418.92,122.06 L419.29,122.34 L419.66,121.81 L420.03,121.41 L420.4,121.11 L420.77,121.15 L421.14,120.15 L421.51,121.65 L421.88,122.41 L422.24,121.29 L422.61,122.08 L422.98,122.14 L423.35,121.07 L423.72,120.84 L424.09,119.53 L424.46,122.71 L424.83,122.84 L425.2,122.22 L425.57,121.87 L425.94,122.34 L426.31,122.73 L426.68,122.72 L427.05,122.73 L427.41,121.61 L427.78,121.41 L428.15,120.29 L428.52,120.21 L428.89,120.61 L429.26,119.17 L429.63,118.76 L430,119.9 L430.37,120.5 L430.74,121.32 L431.11,120.57 L431.48,120.86 L431.85,120.74 L432.22,120.77 L432.58,120.65 L432.95,121.3 L433.32,121.5 L433.69,121.2 L434.06,120.83 L434.43,122.49 L434.8,122.4 L435.17,120.52 L435.54,121.08 L435.91,121.54 L436.28,121.4 L436.65,121.43 L437.02,121.46 L437.39,121.19 L437.76,120.54 L438.12,119.43 L438.49,119.94 L438.86,121.18 L439.23,120.48 L439.6,119.51 L439.97,118.94 L440.34,121.15 L440.71,121.12 L441.08,119.19 L441.45,120.16 L441.82,121.51 L442.19,121.89 L442.56,120.76 L442.93,120.35 L443.29,119.25 L443.66,119.09 L444.03,119.85 L444.4,120.72 L444.77,119.61 L445.14,120.29 L445.51,120.3 L445.88,121.86 L446.25,118.24 L446.62,121.05 L446.99,119.86 L447.36,120.24 L447.73,118.87 L448.1,120.17 L448.46,120.62 L448.83,121.46 L449.2,119.97 L449.57,118.96 L449.94,118.46 L450.31,117.97 L450.68,117.9 L451.05,118.73 L451.42,120.43 L451.79,120.73 L452.16,120.36 L452.53,120.37 L452.9,119.98 L453.27,120.44 L453.64,115.97 L454,119.07 L454.37,119.13 L454.74,118.44 L455.11,117.34 L455.48,119.46 L455.85,120.14 L456.22,120.08 L456.59,120.96 L456.96,120.3 L457.33,117.17 L457.7,119.79 L458.07,119.02 L458.44,118.69 L458.81,117.5 L459.17,117.68 L459.54,118.8 L459.91,118.57 L460.28,120.28 L460.65,121.27 L461.02,116.17 L461.39,119.23 L461.76,118.73 L462.13,118.17 L462.5,119.07 L462.87,119.53 L463.24,119.79 L463.61,119.56 L463.98,119.33 L464.34,119.55 L464.71,119.83 L465.08,119.26 L465.45,118.75 L465.82,120.02 L466.19,120.45 L466.56,119.08 L466.93,118.55 L467.3,117.76 L467.67,118.53 L468.04,118.45 L468.41,119.19 L468.78,119.15 L469.15,118.32 L469.51,118.83 L469.88,118.85 L470.25,118.88 L470.62,118.29 L470.99,118.53 L471.66,123.66 L471.8,76.45 L472.47,76.45 L473.02,130.68 L473.95,135.94 L475.79,136.82 L488.72,136.82 L489.46,134.19 L490.2,134.19 L490.56,136.82 L490.56,137.7 L473.21,137.7 L471.36,132.44 L470.99,131.08 L470.62,130.66 L470.25,131.15 L469.88,131.63 L469.51,131.84 L469.15,131.74 L468.78,131.57 L468.41,131.53 L468.04,131.29 L467.67,131.55 L467.3,131.32 L466.93,131.43 L466.56,130.97 L466.19,131.47 L465.82,131.86 L465.45,132.22 L465.08,132.15 L464.71,131.69 L464.34,131.56 L463.98,131.11 L463.61,131.11 L463.24,131.41 L462.87,131.71 L462.5,132.08 L462.13,131.59 L461.76,131.17 L461.39,131.25 L461.02,131.32 L460.65,131.98 L460.28,132.13 L459.91,132.43 L459.54,132.37 L459.17,131.9 L458.81,131.52 L458.44,131.53 L458.07,132.04 L457.7,132.28 L457.33,132.32 L456.96,131.93 L456.59,131.35 L456.22,130.84 L455.85,130.68 L455.48,131.25 L455.11,131.71 L454.74,131.87 L454.37,131.97 L454,131.52 L453.64,131.68 L453.27,131.9 L452.9,132.03 L452.53,131.88 L452.16,131.54 L451.79,131.58 L451.42,131.36 L451.05,131.33 L450.68,130.99 L450.31,131.03 L449.94,131.36 L449.57,132.22 L449.2,131.96 L448.83,131.54 L448.46,130.92 L448.1,131.75 L447.73,131.64 L447.36,131.8 L446.99,131.16 L446.62,131.25 L446.25,131.03 L445.88,131.68 L445.51,132 L445.14,131.79 L444.77,131.83 L444.4,131.11 L444.03,131.93 L443.66,131.39 L443.29,132.17 L442.93,131.97 L442.56,132.28 L442.19,131.96 L441.82,131.97 L441.45,131.62 L441.08,132.02 L440.71,131.46 L440.34,131.28 L439.97,130.66 L439.6,131.51 L439.23,131.88 L438.86,132.53 L438.49,132.15 L438.12,131.73 L437.76,131.52 L437.39,131.46 L437.02,131.86 L436.65,131.98 L436.28,131.49 L435.91,131.62 L435.54,131.58 L435.17,131.58 L434.8,131.81 L434.43,131.56 L434.06,131.91 L433.69,131.49 L433.32,131.03 L432.95,131.53 L432.58,131.6 L432.22,131.73 L431.85,131.77 L431.48,131.95 L431.11,132.3 L430.74,131.87 L430.37,131.47 L430,131.25 L429.63,131.18 L429.26,131.16 L428.89,131.53 L428.52,131.57 L428.15,132.1 L427.78,132.03 L427.41,132.54 L427.05,132.7 L426.68,132.75 L426.31,132.22 L425.94,131.73 L425.57,131.47 L425.2,131.74 L424.83,132.16 L424.46,132.31 L424.09,132.39 L423.72,132.16 L423.35,131.8 L422.98,131.6 L422.61,131.71 L422.24,132.16 L421.88,131.96 L421.51,131.76 L421.14,131.31 L420.77,131.57 L420.4,131.24 L420.03,131.9 L419.66,131.36 L419.29,131.81 L418.92,131.42 L418.55,132.3 L418.18,132.45 L417.81,132.28 L417.44,132.05 L417.07,132.21 L416.71,132.21 L416.34,132.23 L415.97,131.66 L415.6,131.39 L415.23,131.22 L414.86,131.42 L414.49,131.62 L414.12,131.97 L413.75,132.33 L413.38,132.94 L413.01,132.19 L412.64,131.62 L412.27,131.62 L411.9,132.3 L411.53,132.32 L411.17,131.83 L410.8,131.47 L410.43,131.9 L410.06,131.84 L409.69,131.89 L409.32,131.34 L408.95,131.12 L408.58,131.43 L408.21,131.93 L407.84,131.99 L407.47,131.44 L407.1,131.11 L406.73,131.94 L406.36,132.29 L406,132.13 L405.63,131.38 L405.26,130.84 L404.89,131.05 L404.52,131.14 L404.15,131.83 L403.78,131.71 L403.41,132.26 L403.04,132.42 L402.67,132.66 L402.3,132.27 L401.93,131.81 L401.56,131.93 L401.19,131.73 L400.83,131.84 L400.46,131.44 L400.09,131.73 L399.72,131.43 L399.35,131.26 L398.98,131.39 L398.61,131.61 L398.24,132.18 L397.87,131.9 L397.5,132.23 L397.13,131.77 L396.76,132.09 L396.39,131.33 L396.02,131.62 L395.65,131.72 L395.29,131.93 L394.92,131.7 L394.55,131.82 L394.18,131.68 L393.81,131.66 L393.44,131.01 L393.07,130.94 L392.7,131.42 L392.33,131.97 L391.96,132.42 L391.59,132.1 L391.22,132.11 L390.85,131.69 L390.48,131.98 L390.12,131.75 L389.75,132.21 L389.38,131.57 L389.01,131.87 L388.64,131.44 L388.27,132.03 L387.9,131.88 L387.53,132.71 L387.16,132.63 L386.79,132.41 L386.42,131.66 L386.05,131.17 L385.68,131.15 L385.31,131.87 L384.95,132.58 L384.58,132.62 L384.21,132.52 L383.84,132.23 L383.47,132.66 L383.1,132.75 L382.73,132.66 L382.36,132.33 L381.99,132.25 L381.62,132.42 L381.25,132.65 L380.88,132.15 L380.51,132.23 L380.14,131.87 L379.78,132.45 L379.41,132.39 L379.04,132.38 L378.67,131.84 L378.3,131.97 L377.93,131.96 L377.56,132.17 L377.19,132.08 L376.82,131.92 L376.45,131.74 L376.08,132.06 L375.71,132.48 L375.34,132.42 L374.97,131.65 L374.6,131 L374.24,131.19 L373.87,131.15 L373.5,131.24 L373.13,131.47 L372.76,131.78 L372.39,131.9 L372.02,132.1 L371.65,132.43 L371.28,132.38 L370.91,131.92 L370.54,131.65 L370.17,132.01 L369.8,131.75 L369.43,131.71 L369.07,131.68 L368.7,131.69 L368.33,131.71 L367.96,132.05 L367.59,132.31 L367.22,132.12 L366.85,131.9 L366.48,131.78 L366.11,132.3 L365.74,132.17 L365.37,131.91 L365,131.76 L364.63,131.29 L364.26,131.46 L363.9,131.58 L363.53,131.86 L363.16,131.79 L362.79,131.74 L362.42,131.85 L362.05,132.23 L361.68,131.68 L361.31,131.49 Z" stroke="none" stroke-width="1" fill="#c4c4c4" />
<path d="M361.31,126.74 L361.68,126.49 L362.05,125.83 L362.42,126.08 L362.79,126.12 L363.16,126.92 L363.53,126.28 L363.9,125.92 L364.26,125.02 L364.63,124.81 L365,125.84 L365.37,125.89 L365.74,126.56 L366.11,126.26 L366.48,126.38 L366.85,126.16 L367.22,126.31 L367.59,126.11 L367.96,125.15 L368.33,125.07 L368.7,125.88 L369.07,126.86 L369.43,127.12 L369.8,127.31 L370.17,126.25 L370.54,122.8 L370.91,123.69 L371.28,127.48 L371.65,127.46 L372.02,127 L372.39,126.16 L372.76,125.01 L373.13,124.84 L373.5,124.71 L373.87,125.94 L374.24,126.44 L374.6,126.21 L374.97,126.09 L375.34,126.1 L375.71,126.8 L376.08,126.48 L376.45,126.05 L376.82,126.68 L377.19,126.71 L377.56,126.08 L377.93,125.92 L378.3,124.9 L378.67,126.05 L379.04,124.76 L379.41,125.09 L379.78,124.37 L380.14,125.62 L380.51,126.53 L380.88,126.35 L381.25,126.28 L381.62,126.06 L381.99,125.95 L382.36,124.88 L382.73,125.07 L383.1,124.85 L383.47,125.34 L383.84,124.82 L384.21,126.09 L384.58,126.28 L384.95,125.36 L385.31,125.08 L385.68,125.45 L386.05,126.7 L386.42,126.91 L386.79,126.56 L387.16,125.39 L387.53,125.45 L387.9,125.67 L388.27,125.62 L388.64,124.22 L389.01,123.02 L389.38,124.04 L389.75,124.99 L390.12,125.01 L390.48,124.64 L390.85,124.1 L391.22,125.03 L391.59,125.71 L391.96,126.23 L392.33,125.56 L392.7,124.4 L393.07,124.05 L393.44,124.46 L393.81,124.81 L394.18,124.98 L394.55,124.86 L394.92,124.4 L395.29,124.74 L395.65,124.63 L396.02,124.47 L396.39,123.48 L396.76,124.08 L397.13,124.02 L397.5,124.01 L397.87,124.01 L398.24,125.04 L398.61,125.98 L398.98,126.13 L399.35,125.05 L399.72,124.72 L400.09,123.47 L400.46,124.75 L400.83,125.32 L401.19,125.31 L401.56,124.28 L401.93,122.79 L402.3,123.05 L402.67,123.44 L403.04,123.76 L403.41,124.63 L403.78,124.59 L404.15,125.06 L404.52,124.96 L404.89,124.85 L405.26,125.01 L405.63,124.45 L406,124.77 L406.36,124.76 L406.73,124.97 L407.1,124.61 L407.47,123.6 L407.84,122.72 L408.21,122.31 L408.58,122.51 L408.95,123.46 L409.32,123.27 L409.69,124.1 L410.06,124.33 L410.43,125.03 L410.8,124.32 L411.17,123.97 L411.53,123.74 L411.9,124.39 L412.27,123.44 L412.64,123.71 L413.01,121.64 L413.38,124.03 L413.75,123.38 L414.12,122.6 L414.49,122.59 L414.86,123.22 L415.23,123.76 L415.6,124.43 L415.97,124.43 L416.34,124.07 L416.71,122.99 L417.07,123.52 L417.44,123.5 L417.81,124.07 L418.18,122.67 L418.55,123.38 L418.92,123.62 L419.29,124.25 L419.66,123.46 L420.03,123.11 L420.4,122.62 L420.77,122.86 L421.14,122.95 L421.51,123.78 L421.88,124.07 L422.24,123.99 L422.61,123.87 L422.98,123.63 L423.35,122.9 L423.72,122.57 L424.09,123.31 L424.46,124.27 L424.83,124.57 L425.2,123.85 L425.57,123.96 L425.94,124.37 L426.31,124.79 L426.68,124.56 L427.05,124.62 L427.41,124.28 L427.78,123.3 L428.15,122.53 L428.52,122.21 L428.89,122.34 L429.26,121.86 L429.63,121.58 L430,122.15 L430.37,122.36 L430.74,123.53 L431.11,122.85 L431.48,123.29 L431.85,122.74 L432.22,122.71 L432.58,122.83 L432.95,123.24 L433.32,123.32 L433.69,122.84 L434.06,122.98 L434.43,124.15 L434.8,124.5 L435.17,124.6 L435.54,123.38 L435.91,123.61 L436.28,123.2 L436.65,123.84 L437.02,123.33 L437.39,123.08 L437.76,122.7 L438.12,122.46 L438.49,122.44 L438.86,123.22 L439.23,122.72 L439.6,122.32 L439.97,122.32 L440.34,123.11 L440.71,123 L441.08,121.62 L441.45,122.17 L441.82,123.26 L442.19,124.01 L442.56,123.46 L442.93,122.12 L443.29,121.58 L443.66,121.7 L444.03,122.4 L444.4,122.74 L444.77,121.9 L445.14,122.2 L445.51,122.47 L445.88,123.65 L446.25,122.97 L446.62,123.5 L446.99,122.21 L447.36,122.37 L447.73,121.54 L448.1,122.79 L448.46,123.21 L448.83,123.35 L449.2,122.18 L449.57,121.7 L449.94,121.96 L450.31,121.75 L450.68,121.55 L451.05,121.17 L451.42,122.32 L451.79,122.84 L452.16,122.27 L452.53,122.36 L452.9,121.99 L453.27,122.39 L453.64,122.04 L454,121.67 L454.37,121.22 L454.74,120.45 L455.11,120.47 L455.48,121.51 L455.85,122.69 L456.22,123.13 L456.59,122.95 L456.96,122.73 L457.33,122.06 L457.7,122.18 L458.07,121.22 L458.44,121.11 L458.81,121.23 L459.17,121.08 L459.54,121.87 L459.91,121.72 L460.28,122.79 L460.65,123.31 L461.02,122.86 L461.39,122.55 L461.76,121.31 L462.13,120.79 L462.5,121.27 L462.87,121.92 L463.24,122.57 L463.61,122.37 L463.98,122.58 L464.34,122.75 L464.71,121.96 L465.08,121.81 L465.45,122.02 L465.82,122.71 L466.19,122.54 L466.56,121.84 L466.93,121.79 L467.3,121.38 L467.67,121.89 L468.04,121.23 L468.41,121.35 L468.78,121.39 L469.15,121.25 L469.51,121.56 L469.88,121 L470.25,121.21 L470.62,120.84 L470.99,120.97 L471.66,123.66 L471.8,103.83 L472.47,103.83 L473.02,130.68 L473.95,135.94 L475.79,136.82 L488.72,136.82 L489.46,134.19 L490.2,134.19 L490.56,136.82 L490.56,137.7 L473.21,137.7 L471.36,132.44 L470.99,131.08 L470.62,130.66 L470.25,131.15 L469.88,131.63 L469.51,131.84 L469.15,131.74 L468.78,131.57 L468.41,131.53 L468.04,131.29 L467.67,131.55 L467.3,131.32 L466.93,131.43 L466.56,130.97 L466.19,131.47 L465.82,131.86 L465.45,132.22 L465.08,132.15 L464.71,131.69 L464.34,131.56 L463.98,131.11 L463.61,131.11 L463.24,131.41 L462.87,131.71 L462.5,132.08 L462.13,131.59 L461.76,131.17 L461.39,131.25 L461.02,131.32 L460.65,131.98 L460.28,132.13 L459.91,132.43 L459.54,132.37 L459.17,131.9 L458.81,131.52 L458.44,131.53 L458.07,132.04 L457.7,132.28 L457.33,132.32 L456.96,131.93 L456.59,131.35 L456.22,130.84 L455.85,130.68 L455.48,131.25 L455.11,131.71 L454.74,131.87 L454.37,131.97 L454,131.52 L453.64,131.68 L453.27,131.9 L452.9,132.03 L452.53,131.88 L452.16,131.54 L451.79,131.58 L451.42,131.36 L451.05,131.33 L450.68,130.99 L450.31,131.03 L449.94,131.36 L449.57,132.22 L449.2,131.96 L448.83,131.54 L448.46,130.92 L448.1,131.75 L447.73,131.64 L447.36,131.8 L446.99,131.16 L446.62,131.25 L446.25,131.03 L445.88,131.68 L445.51,132 L445.14,131.79 L444.77,131.83 L444.4,131.11 L444.03,131.93 L443.66,131.39 L443.29,132.17 L442.93,131.97 L442.56,132.28 L442.19,131.96 L441.82,131.97 L441.45,131.62 L441.08,132.02 L440.71,131.46 L440.34,131.28 L439.97,130.66 L439.6,131.51 L439.23,131.88 L438.86,132.53 L438.49,132.15 L438.12,131.73 L437.76,131.52 L437.39,131.46 L437.02,131.86 L436.65,131.98 L436.28,131.49 L435.91,131.62 L435.54,131.58 L435.17,131.58 L434.8,131.81 L434.43,131.56 L434.06,131.91 L433.69,131.49 L433.32,131.03 L432.95,131.53 L432.58,131.6 L432.22,131.73 L431.85,131.77 L431.48,131.95 L431.11,132.3 L430.74,131.87 L430.37,131.47 L430,131.25 L429.63,131.18 L429.26,131.16 L428.89,131.53 L428.52,131.57 L428.15,132.1 L427.78,132.03 L427.41,132.54 L427.05,132.7 L426.68,132.75 L426.31,132.22 L425.94,131.73 L425.57,131.47 L425.2,131.74 L424.83,132.16 L424.46,132.31 L424.09,132.39 L423.72,132.16 L423.35,131.8 L422.98,131.6 L422.61,131.71 L422.24,132.16 L421.88,131.96 L421.51,131.76 L421.14,131.31 L420.77,131.57 L420.4,131.24 L420.03,131.9 L419.66,131.36 L419.29,131.81 L418.92,131.42 L418.55,132.3 L418.18,132.45 L417.81,132.28 L417.44,132.05 L417.07,132.21 L416.71,132.21 L416.34,132.23 L415.97,131.66 L415.6,131.39 L415.23,131.22 L414.86,131.42 L414.49,131.62 L414.12,131.97 L413.75,132.33 L413.38,132.94 L413.01,132.19 L412.64,131.62 L412.27,131.62 L411.9,132.3 L411.53,132.32 L411.17,131.83 L410.8,131.47 L410.43,131.9 L410.06,131.84 L409.69,131.89 L409.32,131.34 L408.95,131.12 L408.58,131.43 L408.21,131.93 L407.84,131.99 L407.47,131.44 L407.1,131.11 L406.73,131.94 L406.36,132.29 L406,132.13 L405.63,131.38 L405.26,130.84 L404.89,131.05 L404.52,131.14 L404.15,131.83 L403.78,131.71 L403.41,132.26 L403.04,132.42 L402.67,132.66 L402.3,132.27 L401.93,131.81 L401.56,131.93 L401.19,131.73 L400.83,131.84 L400.46,131.44 L400.09,131.73 L399.72,131.43 L399.35,131.26 L398.98,131.39 L398.61,131.61 L398.24,132.18 L397.87,131.9 L397.5,132.23 L397.13,131.77 L396.76,132.09 L396.39,131.33 L396.02,131.62 L395.65,131.72 L395.29,131.93 L394.92,131.7 L394.55,131.82 L394.18,131.68 L393.81,131.66 L393.44,131.01 L393.07,130.94 L392.7,131.42 L392.33,131.97 L391.96,132.42 L391.59,132.1 L391.22,132.11 L390.85,131.69 L390.48,131.98 L390.12,131.75 L389.75,132.21 L389.38,131.57 L389.01,131.87 L388.64,131.44 L388.27,132.03 L387.9,131.88 L387.53,132.71 L387.16,132.63 L386.79,132.41 L386.42,131.66 L386.05,131.17 L385.68,131.15 L385.31,131.87 L384.95,132.58 L384.58,132.62 L384.21,132.52 L383.84,132.23 L383.47,132.66 L383.1,132.75 L382.73,132.66 L382.36,132.33 L381.99,132.25 L381.62,132.42 L381.25,132.65 L380.88,132.15 L380.51,132.23 L380.14,131.87 L379.78,132.45 L379.41,132.39 L379.04,132.38 L378.67,131.84 L378.3,131.97 L377.93,131.96 L377.56,132.17 L377.19,132.08 L376.82,131.92 L376.45,131.74 L376.08,132.06 L375.71,132.48 L375.34,132.42 L374.97,131.65 L374.6,131 L374.24,131.19 L373.87,131.15 L373.5,131.24 L373.13,131.47 L372.76,131.78 L372.39,131.9 L372.02,132.1 L371.65,132.43 L371.28,132.38 L370.91,131.92 L370.54,131.65 L370.17,132.01 L369.8,131.75 L369.43,131.71 L369.07,131.68 L368.7,131.69 L368.33,131.71 L367.96,132.05 L367.59,132.31 L367.22,132.12 L366.85,131.9 L366.48,131.78 L366.11,132.3 L365.74,132.17 L365.37,131.91 L365,131.76 L364.63,131.29 L364.26,131.46 L363.9,131.58 L363.53,131.86 L363.16,131.79 L362.79,131.74 L362.42,131.85 L362.05,132.23 L361.68,131.68 L361.31,131.49 Z" stroke="none" stroke-width="1" fill="#12877e" />
<text x="233" y="36.6" font-size="10" fill="#231f20" stroke="#231f20" stroke-width="0.22">Fraction of reads</text>
<text x="233.9" y="49.4" font-size="10" fill="#231f20" stroke="#231f20" stroke-width="0.22" font-style="italic">18S: WT</text>
<text x="294.8" y="49.4" font-size="10" fill="#231f20" stroke="#231f20" stroke-width="0.22">2.24%</text>
<text x="233.9" y="61.1" font-size="10" fill="#1ba59c" stroke="#1ba59c" stroke-width="0.22" font-style="italic">18S: GA/AG</text>
<text x="295.2" y="61.1" font-size="10" fill="#1ba59c" stroke="#1ba59c" stroke-width="0.22">1.29%</text>
<text x="233" y="72.6" font-size="10" fill="#231f20" stroke="#231f20" stroke-width="0.22">(MS2-purified)</text>
<text x="388.4" y="49.9" font-size="10" fill="#231f20" stroke="#231f20" stroke-width="0.22" font-style="italic">18S: WT</text>
<text x="449.8" y="49.9" font-size="10" fill="#231f20" stroke="#231f20" stroke-width="0.22">1.60%</text>
<text x="388.4" y="61.1" font-size="10" fill="#1ba59c" stroke="#1ba59c" stroke-width="0.22" font-style="italic">18S: GA/AG</text>
<text x="449.8" y="61.1" font-size="10" fill="#1ba59c" stroke="#1ba59c" stroke-width="0.22">0.93%</text>
<path d="M227,31.9 L229.8,34.3 L222.1,39.8 Z" stroke="none" stroke-width="1" fill="#1a1415" />
<path d="M466.3,67.4 L468.5,65.3 L473.7,72.6 Z" stroke="none" stroke-width="1" fill="#1a1415" />
<text x="496.9" y="10.6" font-size="13.2" fill="#1a1617" stroke="#1a1617" stroke-width="0.22" font-weight="bold">D</text>
<line x1="551.7" y1="23.6" x2="551.7" y2="131.3" stroke="#34292a" stroke-width="1.15" />
<line x1="548.3" y1="23.6" x2="551.7" y2="23.6" stroke="#34292a" stroke-width="1.15" />
<text x="545.6" y="26.6" font-size="8.6" fill="#231f20" stroke="#231f20" stroke-width="0.06" text-anchor="end">600</text>
<line x1="548.3" y1="41.55" x2="551.7" y2="41.55" stroke="#34292a" stroke-width="1.15" />
<text x="545.6" y="44.55" font-size="8.6" fill="#231f20" stroke="#231f20" stroke-width="0.06" text-anchor="end">500</text>
<line x1="548.3" y1="59.5" x2="551.7" y2="59.5" stroke="#34292a" stroke-width="1.15" />
<text x="545.6" y="62.5" font-size="8.6" fill="#231f20" stroke="#231f20" stroke-width="0.06" text-anchor="end">400</text>
<line x1="548.3" y1="77.45" x2="551.7" y2="77.45" stroke="#34292a" stroke-width="1.15" />
<text x="545.6" y="80.45" font-size="8.6" fill="#231f20" stroke="#231f20" stroke-width="0.06" text-anchor="end">300</text>
<line x1="548.3" y1="95.4" x2="551.7" y2="95.4" stroke="#34292a" stroke-width="1.15" />
<text x="545.6" y="98.4" font-size="8.6" fill="#231f20" stroke="#231f20" stroke-width="0.06" text-anchor="end">200</text>
<line x1="548.3" y1="113.35" x2="551.7" y2="113.35" stroke="#34292a" stroke-width="1.15" />
<text x="545.6" y="116.35" font-size="8.6" fill="#231f20" stroke="#231f20" stroke-width="0.06" text-anchor="end">100</text>
<line x1="548.3" y1="131.3" x2="551.7" y2="131.3" stroke="#34292a" stroke-width="1.15" />
<text x="545.6" y="134.3" font-size="8.6" fill="#231f20" stroke="#231f20" stroke-width="0.06" text-anchor="end">0</text>
<text transform="translate(526.4,86.2) rotate(-90)" font-size="10" fill="#231f20" stroke="#231f20" stroke-width="0.22" text-anchor="middle">Transcript count</text>
<line x1="557.9" y1="136.6" x2="685" y2="136.6" stroke="#34292a" stroke-width="1" />
<line x1="557.9" y1="136.6" x2="557.9" y2="140.6" stroke="#34292a" stroke-width="1" />
<text transform="translate(559.5,148.4) rotate(-45)" font-size="8.6" fill="#231f20" text-anchor="end">0.000</text>
<line x1="588.05" y1="136.6" x2="588.05" y2="140.6" stroke="#34292a" stroke-width="1" />
<text transform="translate(589.65,148.4) rotate(-45)" font-size="8.6" fill="#231f20" text-anchor="end">0.005</text>
<line x1="618.2" y1="136.6" x2="618.2" y2="140.6" stroke="#34292a" stroke-width="1" />
<text transform="translate(619.8,148.4) rotate(-45)" font-size="8.6" fill="#231f20" text-anchor="end">0.010</text>
<line x1="648.35" y1="136.6" x2="648.35" y2="140.6" stroke="#34292a" stroke-width="1" />
<text transform="translate(649.95,148.4) rotate(-45)" font-size="8.6" fill="#231f20" text-anchor="end">0.015</text>
<line x1="678.5" y1="136.6" x2="678.5" y2="140.6" stroke="#34292a" stroke-width="1" />
<text transform="translate(680.1,148.4) rotate(-45)" font-size="8.6" fill="#231f20" text-anchor="end">0.020</text>
<text x="552.3" y="176" font-size="10" fill="#231f20" stroke="#231f20" stroke-width="0.22">3' UTR/total read number</text>
<rect x="556.2" y="69.37" width="3.02" height="61.93" fill="#4d8a83"/>
<rect x="556.2" y="32.22" width="3.02" height="37.16" fill="#6fcfc7"/>
<rect x="559.22" y="118.2" width="3.02" height="13.1" fill="#4d8a83"/>
<rect x="559.22" y="116.76" width="3.02" height="1.44" fill="#6fcfc7"/>
<rect x="562.23" y="118.2" width="3.02" height="13.1" fill="#4d8a83"/>
<rect x="562.23" y="110.84" width="3.02" height="7.36" fill="#6fcfc7"/>
<rect x="565.25" y="118.02" width="3.02" height="13.28" fill="#4d8a83"/>
<rect x="565.25" y="114.97" width="3.02" height="3.05" fill="#6fcfc7"/>
<rect x="568.26" y="116.22" width="3.02" height="15.08" fill="#4d8a83"/>
<rect x="571.28" y="119.45" width="3.02" height="11.85" fill="#4d8a83"/>
<rect x="571.28" y="113.53" width="3.02" height="5.92" fill="#a9a6a6"/>
<rect x="574.29" y="119.99" width="3.02" height="11.31" fill="#4d8a83"/>
<rect x="574.29" y="114.97" width="3.02" height="5.03" fill="#a9a6a6"/>
<rect x="577.31" y="120.53" width="3.02" height="10.77" fill="#4d8a83"/>
<rect x="577.31" y="116.58" width="3.02" height="3.95" fill="#a9a6a6"/>
<rect x="580.32" y="122.68" width="3.02" height="8.62" fill="#4d8a83"/>
<rect x="580.32" y="119.99" width="3.02" height="2.69" fill="#a9a6a6"/>
<rect x="583.34" y="121.97" width="3.02" height="9.33" fill="#4d8a83"/>
<rect x="583.34" y="119.99" width="3.02" height="1.97" fill="#a9a6a6"/>
<rect x="586.35" y="126.45" width="3.02" height="4.85" fill="#4d8a83"/>
<rect x="586.35" y="124.48" width="3.02" height="1.97" fill="#a9a6a6"/>
<rect x="589.37" y="126.81" width="3.02" height="4.49" fill="#4d8a83"/>
<rect x="589.37" y="123.22" width="3.02" height="3.59" fill="#a9a6a6"/>
<rect x="592.38" y="125.2" width="3.02" height="6.1" fill="#4d8a83"/>
<rect x="595.4" y="126.27" width="3.02" height="5.03" fill="#4d8a83"/>
<rect x="595.4" y="125.92" width="3.02" height="0.36" fill="#a9a6a6"/>
<rect x="598.41" y="127.71" width="3.02" height="3.59" fill="#4d8a83"/>
<rect x="598.41" y="126.45" width="3.02" height="1.26" fill="#a9a6a6"/>
<rect x="601.43" y="128.61" width="3.02" height="2.69" fill="#4d8a83"/>
<rect x="601.43" y="127.71" width="3.02" height="0.9" fill="#a9a6a6"/>
<rect x="604.44" y="129.15" width="3.02" height="2.15" fill="#4d8a83"/>
<rect x="604.44" y="128.61" width="3.02" height="0.54" fill="#a9a6a6"/>
<rect x="607.46" y="129.51" width="3.02" height="1.79" fill="#4d8a83"/>
<rect x="607.46" y="128.79" width="3.02" height="0.72" fill="#a9a6a6"/>
<rect x="610.47" y="129.68" width="3.02" height="1.62" fill="#4d8a83"/>
<rect x="610.47" y="129.15" width="3.02" height="0.54" fill="#a9a6a6"/>
<rect x="613.49" y="130.22" width="3.02" height="1.08" fill="#4d8a83"/>
<rect x="613.49" y="129.86" width="3.02" height="0.36" fill="#a9a6a6"/>
<rect x="616.5" y="129.86" width="3.02" height="1.44" fill="#4d8a83"/>
<rect x="616.5" y="129.51" width="3.02" height="0.36" fill="#a9a6a6"/>
<rect x="619.52" y="130.4" width="3.02" height="0.9" fill="#4d8a83"/>
<rect x="619.52" y="129.86" width="3.02" height="0.54" fill="#a9a6a6"/>
<rect x="622.53" y="130.4" width="3.02" height="0.9" fill="#4d8a83"/>
<rect x="622.53" y="130.22" width="3.02" height="0.18" fill="#a9a6a6"/>
<rect x="625.55" y="130.58" width="3.02" height="0.72" fill="#4d8a83"/>
<rect x="625.55" y="130.4" width="3.02" height="0.18" fill="#a9a6a6"/>
<rect x="628.56" y="130.76" width="3.02" height="0.54" fill="#4d8a83"/>
<rect x="628.56" y="130.58" width="3.02" height="0.18" fill="#a9a6a6"/>
<rect x="631.58" y="130.76" width="3.02" height="0.54" fill="#4d8a83"/>
<rect x="631.58" y="130.58" width="3.02" height="0.18" fill="#a9a6a6"/>
<rect x="634.59" y="130.76" width="3.02" height="0.54" fill="#4d8a83"/>
<rect x="634.59" y="130.4" width="3.02" height="0.36" fill="#a9a6a6"/>
<rect x="637.61" y="130.76" width="3.02" height="0.54" fill="#4d8a83"/>
<rect x="637.61" y="130.58" width="3.02" height="0.18" fill="#a9a6a6"/>
<rect x="640.62" y="130.76" width="3.02" height="0.54" fill="#4d8a83"/>
<rect x="643.63" y="130.94" width="3.02" height="0.36" fill="#4d8a83"/>
<rect x="643.63" y="130.76" width="3.02" height="0.18" fill="#a9a6a6"/>
<rect x="646.65" y="130.94" width="3.02" height="0.36" fill="#4d8a83"/>
<rect x="649.67" y="130.4" width="3.02" height="0.9" fill="#4d8a83"/>
<rect x="649.67" y="130.22" width="3.02" height="0.18" fill="#a9a6a6"/>
<rect x="652.68" y="130.94" width="3.02" height="0.36" fill="#4d8a83"/>
<rect x="655.7" y="130.94" width="3.02" height="0.36" fill="#4d8a83"/>
<rect x="655.7" y="130.58" width="3.02" height="0.36" fill="#a9a6a6"/>
<rect x="658.71" y="130.94" width="3.02" height="0.36" fill="#4d8a83"/>
<rect x="661.73" y="130.94" width="3.02" height="0.36" fill="#4d8a83"/>
<rect x="664.74" y="130.94" width="3.02" height="0.36" fill="#4d8a83"/>
<rect x="664.74" y="130.76" width="3.02" height="0.18" fill="#6fcfc7"/>
<rect x="667.76" y="130.94" width="3.02" height="0.36" fill="#4d8a83"/>
<rect x="670.77" y="131.12" width="3.02" height="0.18" fill="#4d8a83"/>
<rect x="673.79" y="131.12" width="3.02" height="0.18" fill="#4d8a83"/>
<rect x="676.8" y="130.94" width="3.02" height="0.36" fill="#4d8a83"/>
<rect x="676.8" y="130.58" width="3.02" height="0.36" fill="#a9a6a6"/>
<rect x="679.82" y="131.12" width="3.02" height="0.18" fill="#4d8a83"/>
<text x="572" y="37.4" font-size="10" fill="#231f20" stroke="#231f20" stroke-width="0.22">Fraction of</text>
<text x="572" y="49.5" font-size="10" fill="#231f20" stroke="#231f20" stroke-width="0.22">3’UTR reads</text>
<text x="572" y="64.9" font-size="10" fill="#231f20" stroke="#231f20" stroke-width="0.22" font-style="italic">18S: WT</text>
<text x="633.5" y="64.9" font-size="10" fill="#231f20" stroke="#231f20" stroke-width="0.22">0.27%</text>
<text x="572" y="76.4" font-size="10" fill="#1ba59c" stroke="#1ba59c" stroke-width="0.22" font-style="italic">18S: GA/AG</text>
<text x="633.5" y="76.4" font-size="10" fill="#1ba59c" stroke="#1ba59c" stroke-width="0.22">0.13%</text>
<text x="572" y="88.3" font-size="10" fill="#231f20" stroke="#231f20" stroke-width="0.22">(MS2-purified)</text>
<text x="0" y="194.2" font-size="13.2" fill="#1a1617" stroke="#1a1617" stroke-width="0.22" font-weight="bold">C</text>
<text x="163.8" y="193" font-size="10" fill="#231f20" stroke="#231f20" stroke-width="0.22" text-anchor="middle">Mean pause score (log2)</text>
<line x1="64.1" y1="201" x2="64.1" y2="311.4" stroke="#e6e6e6" stroke-width="0.8" />
<line x1="90.6" y1="201" x2="90.6" y2="311.4" stroke="#e6e6e6" stroke-width="0.8" />
<line x1="117.1" y1="201" x2="117.1" y2="311.4" stroke="#e6e6e6" stroke-width="0.8" />
<line x1="143.6" y1="201" x2="143.6" y2="311.4" stroke="#e6e6e6" stroke-width="0.8" />
<line x1="37.8" y1="285" x2="147.5" y2="285" stroke="#e6e6e6" stroke-width="0.8" />
<line x1="37.8" y1="258.7" x2="147.5" y2="258.7" stroke="#e6e6e6" stroke-width="0.8" />
<line x1="37.8" y1="232.4" x2="147.5" y2="232.4" stroke="#e6e6e6" stroke-width="0.8" />
<line x1="37.8" y1="206.1" x2="147.5" y2="206.1" stroke="#e6e6e6" stroke-width="0.8" />
<line x1="37.8" y1="311.4" x2="147.5" y2="201.5" stroke="#f4a6a6" stroke-width="0.8" />
<line x1="37.8" y1="201" x2="37.8" y2="311.4" stroke="#34292a" stroke-width="1.15" />
<line x1="32.8" y1="206.1" x2="37.8" y2="206.1" stroke="#34292a" stroke-width="1.15" />
<text x="29.5" y="209.1" font-size="8.6" fill="#231f20" stroke="#231f20" stroke-width="0.06" text-anchor="end">1.0</text>
<line x1="32.8" y1="232.4" x2="37.8" y2="232.4" stroke="#34292a" stroke-width="1.15" />
<text x="29.5" y="235.4" font-size="8.6" fill="#231f20" stroke="#231f20" stroke-width="0.06" text-anchor="end">0.5</text>
<line x1="32.8" y1="258.7" x2="37.8" y2="258.7" stroke="#34292a" stroke-width="1.15" />
<text x="29.5" y="261.7" font-size="8.6" fill="#231f20" stroke="#231f20" stroke-width="0.06" text-anchor="end">0.0</text>
<line x1="32.8" y1="285" x2="37.8" y2="285" stroke="#34292a" stroke-width="1.15" />
<text x="29.5" y="288" font-size="8.6" fill="#231f20" stroke="#231f20" stroke-width="0.06" text-anchor="end">−0.5</text>
<line x1="32.8" y1="311.3" x2="37.8" y2="311.3" stroke="#34292a" stroke-width="1.15" />
<text x="29.5" y="314.3" font-size="8.6" fill="#231f20" stroke="#231f20" stroke-width="0.06" text-anchor="end">−1.0</text>
<line x1="37.8" y1="311.4" x2="147.5" y2="311.4" stroke="#34292a" stroke-width="1.15" />
<line x1="37.6" y1="311.4" x2="37.6" y2="316.4" stroke="#34292a" stroke-width="1.15" />
<text x="37.6" y="326.3" font-size="8.6" fill="#231f20" stroke="#231f20" stroke-width="0.06" text-anchor="middle">−1.0</text>
<line x1="64.1" y1="311.4" x2="64.1" y2="316.4" stroke="#34292a" stroke-width="1.15" />
<text x="64.1" y="326.3" font-size="8.6" fill="#231f20" stroke="#231f20" stroke-width="0.06" text-anchor="middle">−0.5</text>
<line x1="90.6" y1="311.4" x2="90.6" y2="316.4" stroke="#34292a" stroke-width="1.15" />
<text x="90.6" y="326.3" font-size="8.6" fill="#231f20" stroke="#231f20" stroke-width="0.06" text-anchor="middle">0.0</text>
<line x1="117.1" y1="311.4" x2="117.1" y2="316.4" stroke="#34292a" stroke-width="1.15" />
<text x="117.1" y="326.3" font-size="8.6" fill="#231f20" stroke="#231f20" stroke-width="0.06" text-anchor="middle">0.5</text>
<line x1="143.6" y1="311.4" x2="143.6" y2="316.4" stroke="#34292a" stroke-width="1.15" />
<text x="143.6" y="326.3" font-size="8.6" fill="#231f20" stroke="#231f20" stroke-width="0.06" text-anchor="middle">1.0</text>
<text transform="translate(9.5,260.2) rotate(-90)" font-size="10" fill="#231f20" stroke="#231f20" stroke-width="0.22" text-anchor="middle">GA/AG (MS2-purified)</text>
<text x="89.8" y="339.3" font-size="10" fill="#231f20" stroke="#231f20" stroke-width="0.22" text-anchor="middle">WT (MS2-purified)</text>
<text x="42.8" y="221.1" font-size="11.8" fill="#231f20" stroke="#231f20" stroke-width="0.22">P-site</text>
<circle cx="88.97" cy="259.1" r="1.7" fill="#c8c8c8" stroke="#3d3838" stroke-width="0.75" fill-opacity="0.7"/>
<circle cx="89.16" cy="260.87" r="1.7" fill="#c8c8c8" stroke="#3d3838" stroke-width="0.75" fill-opacity="0.7"/>
<circle cx="84.69" cy="265.08" r="1.7" fill="#c8c8c8" stroke="#3d3838" stroke-width="0.75" fill-opacity="0.7"/>
<circle cx="97.67" cy="250.68" r="1.7" fill="#c8c8c8" stroke="#3d3838" stroke-width="0.75" fill-opacity="0.7"/>
<circle cx="97.19" cy="251.57" r="1.7" fill="#c8c8c8" stroke="#3d3838" stroke-width="0.75" fill-opacity="0.7"/>
<circle cx="93.11" cy="255.77" r="1.7" fill="#c8c8c8" stroke="#3d3838" stroke-width="0.75" fill-opacity="0.7"/>
<circle cx="80" cy="267.19" r="1.7" fill="#c8c8c8" stroke="#3d3838" stroke-width="0.75" fill-opacity="0.7"/>
<circle cx="93.82" cy="254.32" r="1.7" fill="#c8c8c8" stroke="#3d3838" stroke-width="0.75" fill-opacity="0.7"/>
<circle cx="79.84" cy="273.5" r="1.7" fill="#c8c8c8" stroke="#3d3838" stroke-width="0.75" fill-opacity="0.7"/>
<circle cx="84.94" cy="265.42" r="1.7" fill="#c8c8c8" stroke="#3d3838" stroke-width="0.75" fill-opacity="0.7"/>
<circle cx="92.54" cy="256.88" r="1.7" fill="#c8c8c8" stroke="#3d3838" stroke-width="0.75" fill-opacity="0.7"/>
<circle cx="93.91" cy="256.93" r="1.7" fill="#c8c8c8" stroke="#3d3838" stroke-width="0.75" fill-opacity="0.7"/>
<circle cx="92.56" cy="255.82" r="1.7" fill="#c8c8c8" stroke="#3d3838" stroke-width="0.75" fill-opacity="0.7"/>
<circle cx="86.4" cy="258.81" r="1.7" fill="#c8c8c8" stroke="#3d3838" stroke-width="0.75" fill-opacity="0.7"/>
<circle cx="94.14" cy="252.35" r="1.7" fill="#c8c8c8" stroke="#3d3838" stroke-width="0.75" fill-opacity="0.7"/>
<circle cx="86.65" cy="264.37" r="1.7" fill="#c8c8c8" stroke="#3d3838" stroke-width="0.75" fill-opacity="0.7"/>
<circle cx="88.41" cy="261.12" r="1.7" fill="#c8c8c8" stroke="#3d3838" stroke-width="0.75" fill-opacity="0.7"/>
<circle cx="94.62" cy="254.12" r="1.7" fill="#c8c8c8" stroke="#3d3838" stroke-width="0.75" fill-opacity="0.7"/>
<circle cx="87.75" cy="263.79" r="1.7" fill="#c8c8c8" stroke="#3d3838" stroke-width="0.75" fill-opacity="0.7"/>
<circle cx="87.29" cy="259.1" r="1.7" fill="#c8c8c8" stroke="#3d3838" stroke-width="0.75" fill-opacity="0.7"/>
<circle cx="85.46" cy="263.22" r="1.7" fill="#c8c8c8" stroke="#3d3838" stroke-width="0.75" fill-opacity="0.7"/>
<circle cx="93.31" cy="259.53" r="1.7" fill="#c8c8c8" stroke="#3d3838" stroke-width="0.75" fill-opacity="0.7"/>
<circle cx="90.91" cy="255.3" r="1.7" fill="#c8c8c8" stroke="#3d3838" stroke-width="0.75" fill-opacity="0.7"/>
<circle cx="77.79" cy="272.18" r="1.7" fill="#c8c8c8" stroke="#3d3838" stroke-width="0.75" fill-opacity="0.7"/>
<circle cx="89.92" cy="261.3" r="1.7" fill="#c8c8c8" stroke="#3d3838" stroke-width="0.75" fill-opacity="0.7"/>
<circle cx="93.76" cy="255.71" r="1.7" fill="#c8c8c8" stroke="#3d3838" stroke-width="0.75" fill-opacity="0.7"/>
<circle cx="81.28" cy="265.99" r="1.7" fill="#c8c8c8" stroke="#3d3838" stroke-width="0.75" fill-opacity="0.7"/>
<circle cx="94.86" cy="252.24" r="1.7" fill="#c8c8c8" stroke="#3d3838" stroke-width="0.75" fill-opacity="0.7"/>
<circle cx="99.76" cy="248.75" r="1.7" fill="#c8c8c8" stroke="#3d3838" stroke-width="0.75" fill-opacity="0.7"/>
<circle cx="91.36" cy="261.02" r="1.7" fill="#c8c8c8" stroke="#3d3838" stroke-width="0.75" fill-opacity="0.7"/>
<circle cx="94.51" cy="256.26" r="1.7" fill="#c8c8c8" stroke="#3d3838" stroke-width="0.75" fill-opacity="0.7"/>
<circle cx="87.72" cy="264.55" r="1.7" fill="#c8c8c8" stroke="#3d3838" stroke-width="0.75" fill-opacity="0.7"/>
<circle cx="84.45" cy="266.06" r="1.7" fill="#c8c8c8" stroke="#3d3838" stroke-width="0.75" fill-opacity="0.7"/>
<circle cx="98.8" cy="255.37" r="1.7" fill="#c8c8c8" stroke="#3d3838" stroke-width="0.75" fill-opacity="0.7"/>
<circle cx="81.33" cy="267.33" r="1.7" fill="#c8c8c8" stroke="#3d3838" stroke-width="0.75" fill-opacity="0.7"/>
<circle cx="99.78" cy="248.22" r="1.7" fill="#c8c8c8" stroke="#3d3838" stroke-width="0.75" fill-opacity="0.7"/>
<circle cx="78.52" cy="276.65" r="1.7" fill="#c8c8c8" stroke="#3d3838" stroke-width="0.75" fill-opacity="0.7"/>
<circle cx="92.87" cy="258.19" r="1.7" fill="#c8c8c8" stroke="#3d3838" stroke-width="0.75" fill-opacity="0.7"/>
<circle cx="83.48" cy="263.45" r="1.7" fill="#c8c8c8" stroke="#3d3838" stroke-width="0.75" fill-opacity="0.7"/>
<circle cx="97.61" cy="251.37" r="1.7" fill="#c8c8c8" stroke="#3d3838" stroke-width="0.75" fill-opacity="0.7"/>
<circle cx="92.16" cy="256.12" r="1.7" fill="#c8c8c8" stroke="#3d3838" stroke-width="0.75" fill-opacity="0.7"/>
<circle cx="100.74" cy="247.17" r="1.7" fill="#c8c8c8" stroke="#3d3838" stroke-width="0.75" fill-opacity="0.7"/>
<circle cx="93.9" cy="254.13" r="1.7" fill="#c8c8c8" stroke="#3d3838" stroke-width="0.75" fill-opacity="0.7"/>
<circle cx="80.63" cy="265.57" r="1.7" fill="#c8c8c8" stroke="#3d3838" stroke-width="0.75" fill-opacity="0.7"/>
<circle cx="96.67" cy="251.42" r="1.7" fill="#c8c8c8" stroke="#3d3838" stroke-width="0.75" fill-opacity="0.7"/>
<circle cx="78.05" cy="272.66" r="1.7" fill="#c8c8c8" stroke="#3d3838" stroke-width="0.75" fill-opacity="0.7"/>
<circle cx="95.96" cy="257.67" r="1.7" fill="#c8c8c8" stroke="#3d3838" stroke-width="0.75" fill-opacity="0.7"/>
<circle cx="89.43" cy="257.45" r="1.7" fill="#c8c8c8" stroke="#3d3838" stroke-width="0.75" fill-opacity="0.7"/>
<circle cx="82.26" cy="263.17" r="1.7" fill="#c8c8c8" stroke="#3d3838" stroke-width="0.75" fill-opacity="0.7"/>
<circle cx="94.11" cy="255.57" r="1.7" fill="#c8c8c8" stroke="#3d3838" stroke-width="0.75" fill-opacity="0.7"/>
<circle cx="92.67" cy="255.11" r="1.7" fill="#c8c8c8" stroke="#3d3838" stroke-width="0.75" fill-opacity="0.7"/>
<circle cx="91.37" cy="255.23" r="1.7" fill="#c8c8c8" stroke="#3d3838" stroke-width="0.75" fill-opacity="0.7"/>
<circle cx="86.39" cy="263.86" r="1.7" fill="#c8c8c8" stroke="#3d3838" stroke-width="0.75" fill-opacity="0.7"/>
<circle cx="97.23" cy="252.06" r="1.7" fill="#c8c8c8" stroke="#3d3838" stroke-width="0.75" fill-opacity="0.7"/>
<circle cx="85" cy="262.02" r="1.7" fill="#c8c8c8" stroke="#3d3838" stroke-width="0.75" fill-opacity="0.7"/>
<circle cx="80.53" cy="261.33" r="1.7" fill="#c8c8c8" stroke="#3d3838" stroke-width="0.75" fill-opacity="0.7"/>
<circle cx="87.95" cy="252.39" r="1.7" fill="#c8c8c8" stroke="#3d3838" stroke-width="0.75" fill-opacity="0.7"/>
<circle cx="84.24" cy="253.44" r="1.7" fill="#c8c8c8" stroke="#3d3838" stroke-width="0.75" fill-opacity="0.7"/>
<circle cx="67.81" cy="282.9" r="1.7" fill="#c8c8c8" stroke="#3d3838" stroke-width="0.75" fill-opacity="0.7"/>
<circle cx="73.11" cy="278.69" r="1.7" fill="#c8c8c8" stroke="#3d3838" stroke-width="0.75" fill-opacity="0.7"/>
<circle cx="76.29" cy="273.43" r="1.7" fill="#c8c8c8" stroke="#3d3838" stroke-width="0.75" fill-opacity="0.7"/>
<circle cx="76.29" cy="270.8" r="1.7" fill="#c8c8c8" stroke="#3d3838" stroke-width="0.75" fill-opacity="0.7"/>
<circle cx="76.29" cy="268.17" r="1.7" fill="#c8c8c8" stroke="#3d3838" stroke-width="0.75" fill-opacity="0.7"/>
<circle cx="104.91" cy="245.55" r="1.7" fill="#c8c8c8" stroke="#3d3838" stroke-width="0.75" fill-opacity="0.7"/>
<circle cx="108.09" cy="241.87" r="1.7" fill="#c8c8c8" stroke="#3d3838" stroke-width="0.75" fill-opacity="0.7"/>
<circle cx="110.21" cy="237.13" r="1.7" fill="#c8c8c8" stroke="#3d3838" stroke-width="0.75" fill-opacity="0.7"/>
<circle cx="101.2" cy="247.13" r="1.7" fill="#c8c8c8" stroke="#3d3838" stroke-width="0.75" fill-opacity="0.7"/>
<circle cx="98.55" cy="249.23" r="1.7" fill="#c8c8c8" stroke="#3d3838" stroke-width="0.75" fill-opacity="0.7"/>
<circle cx="96.96" cy="248.18" r="1.7" fill="#c8c8c8" stroke="#3d3838" stroke-width="0.75" fill-opacity="0.7"/>
<circle cx="118.16" cy="232.4" r="1.7" fill="#c8c8c8" stroke="#3d3838" stroke-width="0.75" fill-opacity="0.7"/>
<circle cx="127.7" cy="226.09" r="1.7" fill="#c8c8c8" stroke="#3d3838" stroke-width="0.75" fill-opacity="0.7"/>
<circle cx="128.76" cy="223.98" r="1.7" fill="#c8c8c8" stroke="#3d3838" stroke-width="0.75" fill-opacity="0.7"/>
<circle cx="130.35" cy="222.93" r="1.7" fill="#c8c8c8" stroke="#3d3838" stroke-width="0.75" fill-opacity="0.7"/>
<circle cx="131.94" cy="221.88" r="1.7" fill="#c8c8c8" stroke="#3d3838" stroke-width="0.75" fill-opacity="0.7"/>
<circle cx="95.9" cy="256.6" r="1.7" fill="#c8c8c8" stroke="#3d3838" stroke-width="0.75" fill-opacity="0.7"/>
<circle cx="85.3" cy="261.33" r="1.7" fill="#c8c8c8" stroke="#3d3838" stroke-width="0.75" fill-opacity="0.7"/>
<circle cx="80" cy="263.96" r="1.7" fill="#c8c8c8" stroke="#3d3838" stroke-width="0.75" fill-opacity="0.7"/>
<circle cx="81.59" cy="266.06" r="1.7" fill="#c8c8c8" stroke="#3d3838" stroke-width="0.75" fill-opacity="0.7"/>
<circle cx="93.25" cy="252.39" r="1.7" fill="#c8c8c8" stroke="#3d3838" stroke-width="0.75" fill-opacity="0.7"/>
<circle cx="100.14" cy="252.39" r="1.7" fill="#c8c8c8" stroke="#3d3838" stroke-width="0.75" fill-opacity="0.7"/>
<circle cx="133" cy="238.4" r="1.9" fill="#c8102e"/>
<text x="129.6" y="210.5" font-size="7.4" fill="#231f20" stroke="#231f20" stroke-width="0.06">CGA</text>
<text x="111.9" y="220" font-size="7.4" fill="#231f20" stroke="#231f20" stroke-width="0.06">CCG</text>
<text x="134.2" y="221.8" font-size="7.4" fill="#231f20" stroke="#231f20" stroke-width="0.06">CGG</text>
<text x="106.6" y="228" font-size="7.4" fill="#231f20" stroke="#231f20" stroke-width="0.06">GGA</text>
<text x="129.6" y="230.6" font-size="7.4" fill="#231f20" stroke="#231f20" stroke-width="0.06">CCT</text>
<text x="98.1" y="234.5" font-size="7.4" fill="#231f20" stroke="#231f20" stroke-width="0.06">GGC</text>
<text x="126.8" y="248.6" font-size="8.7" fill="#c8102e" stroke="#c8102e" stroke-width="0.06" font-weight="bold">ATG</text>
<text x="75.1" y="285.4" font-size="7.4" fill="#231f20" stroke="#231f20" stroke-width="0.06">TCC</text>
<text x="61.2" y="292.5" font-size="7.4" fill="#231f20" stroke="#231f20" stroke-width="0.06">TAC</text>
<line x1="132.5" y1="213.5" x2="131" y2="218" stroke="#444" stroke-width="0.6" />
<line x1="133.5" y1="216.2" x2="131" y2="222.5" stroke="#444" stroke-width="0.6" />
<line x1="210.3" y1="201.3" x2="210.3" y2="311.8" stroke="#e6e6e6" stroke-width="0.8" />
<line x1="192.7" y1="294.2" x2="304" y2="294.2" stroke="#e6e6e6" stroke-width="0.8" />
<line x1="228.05" y1="201.3" x2="228.05" y2="311.8" stroke="#e6e6e6" stroke-width="0.8" />
<line x1="192.7" y1="276.6" x2="304" y2="276.6" stroke="#e6e6e6" stroke-width="0.8" />
<line x1="245.8" y1="201.3" x2="245.8" y2="311.8" stroke="#e6e6e6" stroke-width="0.8" />
<line x1="192.7" y1="259" x2="304" y2="259" stroke="#e6e6e6" stroke-width="0.8" />
<line x1="263.55" y1="201.3" x2="263.55" y2="311.8" stroke="#e6e6e6" stroke-width="0.8" />
<line x1="192.7" y1="241.4" x2="304" y2="241.4" stroke="#e6e6e6" stroke-width="0.8" />
<line x1="281.3" y1="201.3" x2="281.3" y2="311.8" stroke="#e6e6e6" stroke-width="0.8" />
<line x1="192.7" y1="223.8" x2="304" y2="223.8" stroke="#e6e6e6" stroke-width="0.8" />
<line x1="299.05" y1="201.3" x2="299.05" y2="311.8" stroke="#e6e6e6" stroke-width="0.8" />
<line x1="192.7" y1="206.2" x2="304" y2="206.2" stroke="#e6e6e6" stroke-width="0.8" />
<line x1="192.7" y1="311.8" x2="304" y2="201.3" stroke="#f4a6a6" stroke-width="0.8" />
<line x1="192.7" y1="201.3" x2="192.7" y2="311.8" stroke="#34292a" stroke-width="1.15" />
<line x1="187.7" y1="206.2" x2="192.7" y2="206.2" stroke="#34292a" stroke-width="1.15" />
<text x="184.8" y="209.8" font-size="8.6" fill="#231f20" stroke="#231f20" stroke-width="0.06" text-anchor="end">3</text>
<line x1="187.7" y1="223.8" x2="192.7" y2="223.8" stroke="#34292a" stroke-width="1.15" />
<text x="184.8" y="227.4" font-size="8.6" fill="#231f20" stroke="#231f20" stroke-width="0.06" text-anchor="end">2</text>
<line x1="187.7" y1="241.4" x2="192.7" y2="241.4" stroke="#34292a" stroke-width="1.15" />
<text x="184.8" y="245" font-size="8.6" fill="#231f20" stroke="#231f20" stroke-width="0.06" text-anchor="end">1</text>
<line x1="187.7" y1="259" x2="192.7" y2="259" stroke="#34292a" stroke-width="1.15" />
<text x="184.8" y="262.6" font-size="8.6" fill="#231f20" stroke="#231f20" stroke-width="0.06" text-anchor="end">0</text>
<line x1="187.7" y1="276.6" x2="192.7" y2="276.6" stroke="#34292a" stroke-width="1.15" />
<text x="184.8" y="280.2" font-size="8.6" fill="#231f20" stroke="#231f20" stroke-width="0.06" text-anchor="end">-1</text>
<line x1="187.7" y1="294.2" x2="192.7" y2="294.2" stroke="#34292a" stroke-width="1.15" />
<text x="184.8" y="297.8" font-size="8.6" fill="#231f20" stroke="#231f20" stroke-width="0.06" text-anchor="end">-2</text>
<line x1="187.7" y1="311.8" x2="192.7" y2="311.8" stroke="#34292a" stroke-width="1.15" />
<text x="184.8" y="315.4" font-size="8.6" fill="#231f20" stroke="#231f20" stroke-width="0.06" text-anchor="end">-3</text>
<line x1="192.7" y1="311.8" x2="304" y2="311.8" stroke="#34292a" stroke-width="1.15" />
<line x1="192.55" y1="311.8" x2="192.55" y2="316.8" stroke="#34292a" stroke-width="1.15" />
<text x="192.55" y="326.3" font-size="8.6" fill="#231f20" stroke="#231f20" stroke-width="0.06" text-anchor="middle">−3</text>
<line x1="210.3" y1="311.8" x2="210.3" y2="316.8" stroke="#34292a" stroke-width="1.15" />
<text x="210.3" y="326.3" font-size="8.6" fill="#231f20" stroke="#231f20" stroke-width="0.06" text-anchor="middle">−2</text>
<line x1="228.05" y1="311.8" x2="228.05" y2="316.8" stroke="#34292a" stroke-width="1.15" />
<text x="228.05" y="326.3" font-size="8.6" fill="#231f20" stroke="#231f20" stroke-width="0.06" text-anchor="middle">-1</text>
<line x1="245.8" y1="311.8" x2="245.8" y2="316.8" stroke="#34292a" stroke-width="1.15" />
<text x="245.8" y="326.3" font-size="8.6" fill="#231f20" stroke="#231f20" stroke-width="0.06" text-anchor="middle">0</text>
<line x1="263.55" y1="311.8" x2="263.55" y2="316.8" stroke="#34292a" stroke-width="1.15" />
<text x="263.55" y="326.3" font-size="8.6" fill="#231f20" stroke="#231f20" stroke-width="0.06" text-anchor="middle">1</text>
<line x1="281.3" y1="311.8" x2="281.3" y2="316.8" stroke="#34292a" stroke-width="1.15" />
<text x="281.3" y="326.3" font-size="8.6" fill="#231f20" stroke="#231f20" stroke-width="0.06" text-anchor="middle">2</text>
<line x1="299.05" y1="311.8" x2="299.05" y2="316.8" stroke="#34292a" stroke-width="1.15" />
<text x="299.05" y="326.3" font-size="8.6" fill="#231f20" stroke="#231f20" stroke-width="0.06" text-anchor="middle">3</text>
<text transform="translate(172.1,260.5) rotate(-90)" font-size="10" fill="#231f20" stroke="#231f20" stroke-width="0.22" text-anchor="middle">GA/AG (MS2-purified)</text>
<text x="248.4" y="338.9" font-size="10" fill="#231f20" stroke="#231f20" stroke-width="0.22" text-anchor="middle">WT (MS2-purified)</text>
<text x="201.9" y="220.6" font-size="10" fill="#231f20" stroke="#231f20" stroke-width="0.22">A-site</text>
<circle cx="245.44" cy="261.93" r="1.7" fill="#c8c8c8" stroke="#3d3838" stroke-width="0.75" fill-opacity="0.7"/>
<circle cx="245.66" cy="260.15" r="1.7" fill="#c8c8c8" stroke="#3d3838" stroke-width="0.75" fill-opacity="0.7"/>
<circle cx="246.38" cy="259.15" r="1.7" fill="#c8c8c8" stroke="#3d3838" stroke-width="0.75" fill-opacity="0.7"/>
<circle cx="246.44" cy="258.82" r="1.7" fill="#c8c8c8" stroke="#3d3838" stroke-width="0.75" fill-opacity="0.7"/>
<circle cx="248.43" cy="256.45" r="1.7" fill="#c8c8c8" stroke="#3d3838" stroke-width="0.75" fill-opacity="0.7"/>
<circle cx="242.93" cy="262.15" r="1.7" fill="#c8c8c8" stroke="#3d3838" stroke-width="0.75" fill-opacity="0.7"/>
<circle cx="239.34" cy="264.2" r="1.7" fill="#c8c8c8" stroke="#3d3838" stroke-width="0.75" fill-opacity="0.7"/>
<circle cx="238.52" cy="267.41" r="1.7" fill="#c8c8c8" stroke="#3d3838" stroke-width="0.75" fill-opacity="0.7"/>
<circle cx="254.37" cy="249.43" r="1.7" fill="#c8c8c8" stroke="#3d3838" stroke-width="0.75" fill-opacity="0.7"/>
<circle cx="248.19" cy="257.21" r="1.7" fill="#c8c8c8" stroke="#3d3838" stroke-width="0.75" fill-opacity="0.7"/>
<circle cx="240.47" cy="262.36" r="1.7" fill="#c8c8c8" stroke="#3d3838" stroke-width="0.75" fill-opacity="0.7"/>
<circle cx="238.82" cy="265.23" r="1.7" fill="#c8c8c8" stroke="#3d3838" stroke-width="0.75" fill-opacity="0.7"/>
<circle cx="241.02" cy="263.35" r="1.7" fill="#c8c8c8" stroke="#3d3838" stroke-width="0.75" fill-opacity="0.7"/>
<circle cx="245.64" cy="258.85" r="1.7" fill="#c8c8c8" stroke="#3d3838" stroke-width="0.75" fill-opacity="0.7"/>
<circle cx="245.24" cy="258.69" r="1.7" fill="#c8c8c8" stroke="#3d3838" stroke-width="0.75" fill-opacity="0.7"/>
<circle cx="248.61" cy="257.68" r="1.7" fill="#c8c8c8" stroke="#3d3838" stroke-width="0.75" fill-opacity="0.7"/>
<circle cx="246.24" cy="259.31" r="1.7" fill="#c8c8c8" stroke="#3d3838" stroke-width="0.75" fill-opacity="0.7"/>
<circle cx="242.5" cy="263.17" r="1.7" fill="#c8c8c8" stroke="#3d3838" stroke-width="0.75" fill-opacity="0.7"/>
<circle cx="254.64" cy="248.58" r="1.7" fill="#c8c8c8" stroke="#3d3838" stroke-width="0.75" fill-opacity="0.7"/>
<circle cx="249.75" cy="255.46" r="1.7" fill="#c8c8c8" stroke="#3d3838" stroke-width="0.75" fill-opacity="0.7"/>
<circle cx="243.13" cy="261.31" r="1.7" fill="#c8c8c8" stroke="#3d3838" stroke-width="0.75" fill-opacity="0.7"/>
<circle cx="239" cy="264.2" r="1.7" fill="#c8c8c8" stroke="#3d3838" stroke-width="0.75" fill-opacity="0.7"/>
<circle cx="250.73" cy="256.43" r="1.7" fill="#c8c8c8" stroke="#3d3838" stroke-width="0.75" fill-opacity="0.7"/>
<circle cx="244.33" cy="258.94" r="1.7" fill="#c8c8c8" stroke="#3d3838" stroke-width="0.75" fill-opacity="0.7"/>
<circle cx="253.97" cy="251.53" r="1.7" fill="#c8c8c8" stroke="#3d3838" stroke-width="0.75" fill-opacity="0.7"/>
<circle cx="241.35" cy="263.09" r="1.7" fill="#c8c8c8" stroke="#3d3838" stroke-width="0.75" fill-opacity="0.7"/>
<circle cx="253.16" cy="255.68" r="1.7" fill="#c8c8c8" stroke="#3d3838" stroke-width="0.75" fill-opacity="0.7"/>
<circle cx="244.51" cy="259.53" r="1.7" fill="#c8c8c8" stroke="#3d3838" stroke-width="0.75" fill-opacity="0.7"/>
<circle cx="239.04" cy="266.63" r="1.7" fill="#c8c8c8" stroke="#3d3838" stroke-width="0.75" fill-opacity="0.7"/>
<circle cx="242.36" cy="263.69" r="1.7" fill="#c8c8c8" stroke="#3d3838" stroke-width="0.75" fill-opacity="0.7"/>
<circle cx="239.28" cy="266.52" r="1.7" fill="#c8c8c8" stroke="#3d3838" stroke-width="0.75" fill-opacity="0.7"/>
<circle cx="250.59" cy="251.87" r="1.7" fill="#c8c8c8" stroke="#3d3838" stroke-width="0.75" fill-opacity="0.7"/>
<circle cx="239.8" cy="264.46" r="1.7" fill="#c8c8c8" stroke="#3d3838" stroke-width="0.75" fill-opacity="0.7"/>
<circle cx="238.82" cy="264.8" r="1.7" fill="#c8c8c8" stroke="#3d3838" stroke-width="0.75" fill-opacity="0.7"/>
<circle cx="251.25" cy="253.33" r="1.7" fill="#c8c8c8" stroke="#3d3838" stroke-width="0.75" fill-opacity="0.7"/>
<circle cx="245.36" cy="257.99" r="1.7" fill="#c8c8c8" stroke="#3d3838" stroke-width="0.75" fill-opacity="0.7"/>
<circle cx="241.03" cy="263.43" r="1.7" fill="#c8c8c8" stroke="#3d3838" stroke-width="0.75" fill-opacity="0.7"/>
<circle cx="248.67" cy="257.03" r="1.7" fill="#c8c8c8" stroke="#3d3838" stroke-width="0.75" fill-opacity="0.7"/>
<circle cx="239.78" cy="265.24" r="1.7" fill="#c8c8c8" stroke="#3d3838" stroke-width="0.75" fill-opacity="0.7"/>
<circle cx="242.36" cy="261.73" r="1.7" fill="#c8c8c8" stroke="#3d3838" stroke-width="0.75" fill-opacity="0.7"/>
<circle cx="254.18" cy="251.01" r="1.7" fill="#c8c8c8" stroke="#3d3838" stroke-width="0.75" fill-opacity="0.7"/>
<circle cx="252.73" cy="253.67" r="1.7" fill="#c8c8c8" stroke="#3d3838" stroke-width="0.75" fill-opacity="0.7"/>
<circle cx="241.37" cy="264.95" r="1.7" fill="#c8c8c8" stroke="#3d3838" stroke-width="0.75" fill-opacity="0.7"/>
<circle cx="248.64" cy="254.92" r="1.7" fill="#c8c8c8" stroke="#3d3838" stroke-width="0.75" fill-opacity="0.7"/>
<circle cx="239.5" cy="263.89" r="1.7" fill="#c8c8c8" stroke="#3d3838" stroke-width="0.75" fill-opacity="0.7"/>
<circle cx="237.81" cy="266.39" r="1.7" fill="#c8c8c8" stroke="#3d3838" stroke-width="0.75" fill-opacity="0.7"/>
<circle cx="258.58" cy="245.27" r="1.7" fill="#c8c8c8" stroke="#3d3838" stroke-width="0.75" fill-opacity="0.7"/>
<circle cx="266.21" cy="236.12" r="1.7" fill="#c8c8c8" stroke="#3d3838" stroke-width="0.75" fill-opacity="0.7"/>
<circle cx="265.32" cy="239.64" r="1.7" fill="#c8c8c8" stroke="#3d3838" stroke-width="0.75" fill-opacity="0.7"/>
<circle cx="253.79" cy="250.2" r="1.7" fill="#c8c8c8" stroke="#3d3838" stroke-width="0.75" fill-opacity="0.7"/>
<circle cx="251.12" cy="252.84" r="1.7" fill="#c8c8c8" stroke="#3d3838" stroke-width="0.75" fill-opacity="0.7"/>
<circle cx="282.2" cy="237" r="1.9" fill="#c8102e" stroke="#555" stroke-width="0.5"/>
<circle cx="280.1" cy="240.2" r="1.9" fill="#c8102e" stroke="#555" stroke-width="0.5"/>
<circle cx="279.5" cy="241" r="1.6" fill="#c8102e"/>
<text x="259.5" y="229.3" font-size="7.4" fill="#231f20" stroke="#231f20" stroke-width="0.06">CCG</text>
<text x="241.4" y="235.5" font-size="7.4" fill="#231f20" stroke="#231f20" stroke-width="0.06">GCG</text>
<text x="240.2" y="247.8" font-size="7.4" fill="#231f20" stroke="#231f20" stroke-width="0.06">TGG</text>
<text x="265.3" y="245.7" font-size="7.4" fill="#231f20" stroke="#231f20" stroke-width="0.06">CGA</text>
<text x="261" y="251.9" font-size="7.4" fill="#231f20" stroke="#231f20" stroke-width="0.06">CTG</text>
<text x="257.5" y="263.5" font-size="7.4" fill="#231f20" stroke="#231f20" stroke-width="0.06">GGG</text>
<text x="229.9" y="274.7" font-size="7.4" fill="#231f20" stroke="#231f20" stroke-width="0.06">CAA</text>
<text x="278.2" y="233.4" font-size="8.5" fill="#c8102e" stroke="#c8102e" stroke-width="0.06" font-weight="bold">TAG</text>
<text x="285.7" y="245.5" font-size="8.5" fill="#c8102e" stroke="#c8102e" stroke-width="0.06" font-weight="bold">TAA</text>
<text x="277" y="253.5" font-size="8.5" fill="#c8102e" stroke="#c8102e" stroke-width="0.06" font-weight="bold">TGA</text>
<line x1="263.5" y1="230.5" x2="265.5" y2="234.5" stroke="#444" stroke-width="0.6" />
<line x1="253.5" y1="237" x2="257.5" y2="244.5" stroke="#444" stroke-width="0.6" />
<line x1="254.5" y1="251.5" x2="258.5" y2="258" stroke="#444" stroke-width="0.6" />
<line x1="279" y1="243" x2="281" y2="245" stroke="#444" stroke-width="0.6" />
<text x="342.1" y="193.9" font-size="13.2" fill="#1a1617" stroke="#1a1617" stroke-width="0.22" font-weight="bold">E</text>
<line x1="378.5" y1="205.1" x2="378.5" y2="310.3" stroke="#34292a" stroke-width="1.15" />
<line x1="374.5" y1="205.1" x2="378.5" y2="205.1" stroke="#34292a" stroke-width="1.15" />
<text x="372.5" y="208.1" font-size="8.6" fill="#231f20" stroke="#231f20" stroke-width="0.06" text-anchor="end">0.4</text>
<line x1="374.5" y1="231.4" x2="378.5" y2="231.4" stroke="#34292a" stroke-width="1.15" />
<text x="372.5" y="234.4" font-size="8.6" fill="#231f20" stroke="#231f20" stroke-width="0.06" text-anchor="end">0.3</text>
<line x1="374.5" y1="257.7" x2="378.5" y2="257.7" stroke="#34292a" stroke-width="1.15" />
<text x="372.5" y="260.7" font-size="8.6" fill="#231f20" stroke="#231f20" stroke-width="0.06" text-anchor="end">0.2</text>
<line x1="374.5" y1="284" x2="378.5" y2="284" stroke="#34292a" stroke-width="1.15" />
<text x="372.5" y="287" font-size="8.6" fill="#231f20" stroke="#231f20" stroke-width="0.06" text-anchor="end">0.1</text>
<line x1="374.5" y1="310.3" x2="378.5" y2="310.3" stroke="#34292a" stroke-width="1.15" />
<text x="372.5" y="313.3" font-size="8.6" fill="#231f20" stroke="#231f20" stroke-width="0.06" text-anchor="end">0.0</text>
<line x1="383.4" y1="310.3" x2="514.7" y2="310.3" stroke="#34292a" stroke-width="1.15" />
<line x1="383.4" y1="310.3" x2="383.4" y2="313.9" stroke="#34292a" stroke-width="1.15" />
<text x="383.4" y="324.1" font-size="8.6" fill="#231f20" stroke="#231f20" stroke-width="0.06" text-anchor="middle">0</text>
<line x1="409.66" y1="310.3" x2="409.66" y2="313.9" stroke="#34292a" stroke-width="1.15" />
<text x="409.66" y="324.1" font-size="8.6" fill="#231f20" stroke="#231f20" stroke-width="0.06" text-anchor="middle">20</text>
<line x1="435.92" y1="310.3" x2="435.92" y2="313.9" stroke="#34292a" stroke-width="1.15" />
<text x="435.92" y="324.1" font-size="8.6" fill="#231f20" stroke="#231f20" stroke-width="0.06" text-anchor="middle">40</text>
<line x1="462.18" y1="310.3" x2="462.18" y2="313.9" stroke="#34292a" stroke-width="1.15" />
<text x="462.18" y="324.1" font-size="8.6" fill="#231f20" stroke="#231f20" stroke-width="0.06" text-anchor="middle">60</text>
<line x1="488.44" y1="310.3" x2="488.44" y2="313.9" stroke="#34292a" stroke-width="1.15" />
<text x="488.44" y="324.1" font-size="8.6" fill="#231f20" stroke="#231f20" stroke-width="0.06" text-anchor="middle">80</text>
<line x1="514.7" y1="310.3" x2="514.7" y2="313.9" stroke="#34292a" stroke-width="1.15" />
<text x="514.7" y="324.1" font-size="8.6" fill="#231f20" stroke="#231f20" stroke-width="0.06" text-anchor="middle">100</text>
<text transform="translate(356.8,263.5) rotate(-90)" font-size="10" fill="#231f20" stroke="#231f20" stroke-width="0.22" text-anchor="middle">% of reads</text>
<text x="448.8" y="335" font-size="10" fill="#231f20" stroke="#231f20" stroke-width="0.22" text-anchor="middle">Position along ORF (%)</text>
<line x1="383.9" y1="205.6" x2="383.9" y2="311" stroke="#999" stroke-width="0.6" stroke-dasharray="1,1"/>
<line x1="514.6" y1="205.6" x2="514.6" y2="311" stroke="#999" stroke-width="0.6" stroke-dasharray="1,1"/>
<path d="M383.4,257.7 L384.06,231.4 L384.71,257.7 L385.37,273.48 L386.03,265.38 L387.34,268.16 L388.65,267.42 L389.96,268.6 L391.28,270.52 L392.59,271.29 L393.9,273.28 L395.22,273.52 L396.53,273.25 L397.84,273.88 L399.16,274.9 L400.47,276.81 L401.78,276.94 L403.09,275.84 L404.41,277.8 L405.72,277.74 L407.03,278.89 L408.35,278.28 L409.66,278.24 L410.97,279.73 L412.29,280.53 L413.6,280.53 L414.91,281.47 L416.22,281.06 L417.54,280.32 L418.85,281.64 L420.16,281.06 L421.48,280.73 L422.79,281.42 L424.1,283.16 L425.42,282.62 L426.73,283.55 L428.04,283.35 L429.35,283.48 L430.67,282.08 L431.98,283.44 L433.29,283.19 L434.61,284.18 L435.92,282.83 L437.23,284.52 L438.55,284.49 L439.86,283.47 L441.17,284.11 L442.48,283.73 L443.8,284.25 L445.11,284.79 L446.42,283.53 L447.74,284.66 L449.05,282.94 L450.36,284.16 L451.68,283.75 L452.99,284.03 L454.3,284.84 L455.62,284.85 L456.93,283.12 L458.24,283.29 L459.55,283.44 L460.87,284.47 L462.18,284.3 L463.49,283.91 L464.81,282.33 L466.12,282.28 L467.43,283.19 L468.75,283.09 L470.06,283.12 L471.37,283.04 L472.68,281.66 L474,282.48 L475.31,283.18 L476.62,281.55 L477.94,282.25 L479.25,281.19 L480.56,281.23 L481.88,281.65 L483.19,281.61 L484.5,280.36 L485.81,281.13 L487.13,280.14 L488.44,281.24 L489.75,280.48 L491.07,279.77 L492.38,279.11 L493.69,279.45 L495,278.34 L496.32,278.86 L497.63,277.46 L498.94,276.92 L500.26,277.56 L501.57,277.97 L502.88,276.01 L504.2,276.17 L505.51,275.73 L506.82,275.26 L508.13,275.13 L509.45,274.84 L510.76,274.42 L512.07,275.3 L513.39,276.11 L514.17,212.99 L514.7,257.7" stroke="#b3b3b3" stroke-width="2.0" fill="none" stroke-linejoin="round"/>
<path d="M383.4,278.74 L384.06,260.33 L384.71,270.85 L385.37,277.43 L386.03,275.71 L387.34,276.99 L388.65,276.9 L389.96,278.28 L391.28,278.23 L392.59,277.76 L393.9,278.7 L395.22,277.39 L396.53,279.14 L397.84,279.32 L399.16,279.47 L400.47,278.02 L401.78,279.5 L403.09,278.21 L404.41,278.1 L405.72,278.78 L407.03,278.29 L408.35,278.3 L409.66,279.76 L410.97,280.1 L412.29,280.36 L413.6,279.27 L414.91,279.15 L416.22,279.96 L417.54,279.64 L418.85,279.67 L420.16,280.59 L421.48,280.69 L422.79,278.99 L424.1,279.13 L425.42,279.6 L426.73,280.74 L428.04,278.84 L429.35,279.28 L430.67,278.91 L431.98,280.16 L433.29,279.29 L434.61,279.37 L435.92,279.15 L437.23,278.98 L438.55,280.27 L439.86,279.07 L441.17,279.07 L442.48,280.37 L443.8,280.67 L445.11,280.74 L446.42,278.97 L447.74,280.98 L449.05,279.97 L450.36,280.61 L451.68,279.38 L452.99,280.24 L454.3,279.21 L455.62,280.11 L456.93,280.89 L458.24,279.18 L459.55,279.53 L460.87,280.28 L462.18,279.43 L463.49,280.27 L464.81,279.44 L466.12,280.29 L467.43,279.72 L468.75,280.65 L470.06,280.96 L471.37,279.2 L472.68,279.98 L474,280.59 L475.31,280.74 L476.62,279.5 L477.94,279.68 L479.25,279.89 L480.56,279.76 L481.88,279.89 L483.19,280.36 L484.5,279.94 L485.81,279.41 L487.13,280.19 L488.44,280.27 L489.75,280.02 L491.07,279.72 L492.38,279.78 L493.69,280.11 L495,279.73 L496.32,279.71 L497.63,280.05 L498.94,279.49 L500.26,280.4 L501.57,279.77 L502.88,280.53 L504.2,280.03 L505.51,281.2 L506.82,280.35 L508.13,280.69 L509.45,279.96 L510.76,280.09 L512.07,281.28 L513.39,284 L514.04,281.37 L514.7,252.44" stroke="#1ba59c" stroke-width="2.0" fill="none" stroke-linejoin="round"/>
<text x="389.6" y="209.1" font-size="10" fill="#231f20" stroke="#231f20" stroke-width="0.22">Fraction of non-start &amp; non-</text>
<text x="389.6" y="221.2" font-size="10" fill="#231f20" stroke="#231f20" stroke-width="0.22">stop codon reads in ORFs</text>
<text x="389.6" y="239.3" font-size="10" fill="#231f20" stroke="#231f20" stroke-width="0.22" font-style="italic">18S: WT</text>
<text x="450.8" y="239.3" font-size="10" fill="#231f20" stroke="#231f20" stroke-width="0.22">92.8%</text>
<text x="389.6" y="251.2" font-size="10" fill="#1ba59c" stroke="#1ba59c" stroke-width="0.22" font-style="italic">18S: GA/AG</text>
<text x="450.8" y="251.2" font-size="10" fill="#1ba59c" stroke="#1ba59c" stroke-width="0.22">95.2%</text>
<text x="389.6" y="263.4" font-size="10" fill="#231f20" stroke="#231f20" stroke-width="0.22">(MS2-purified)</text>
<text x="531.4" y="211.4" font-size="10" fill="#231f20" stroke="#231f20" stroke-width="0.22" font-style="italic">18S: WT</text>
<path d="M562.92,235.4 C562.99,235.73 563.43,236.08 563.48,236.42 C563.53,236.76 563.43,237.14 563.23,237.44 C563.02,237.75 562.55,237.99 562.24,238.26 C561.93,238.53 561.57,238.73 561.36,239.07 C561.15,239.41 561.31,240.04 560.99,240.32 C560.66,240.59 559.93,240.62 559.39,240.7 C558.86,240.79 558.29,240.82 557.77,240.84 C557.24,240.85 556.73,240.84 556.23,240.82 C555.74,240.8 555.29,240.66 554.8,240.71 C554.31,240.76 553.8,241.07 553.29,241.11 C552.78,241.16 552.27,241.05 551.75,240.99 C551.23,240.93 550.58,240.95 550.16,240.75 C549.75,240.55 549.66,240.03 549.28,239.78 C548.91,239.53 548.27,239.49 547.92,239.25 C547.56,239.01 547.42,238.65 547.14,238.35 C546.86,238.05 546.35,237.8 546.24,237.48 C546.13,237.15 546.43,236.73 546.47,236.38 C546.5,236.03 546.37,235.72 546.43,235.4 C546.48,235.08 546.71,234.78 546.8,234.46 C546.89,234.14 546.95,233.85 546.95,233.49 C546.94,233.14 546.65,232.65 546.78,232.31 C546.91,231.97 547.29,231.65 547.72,231.44 C548.15,231.23 548.92,231.27 549.36,231.08 C549.8,230.88 549.95,230.47 550.36,230.27 C550.76,230.07 551.29,229.97 551.78,229.87 C552.27,229.76 552.77,229.67 553.27,229.63 C553.78,229.59 554.3,229.6 554.8,229.63 C555.3,229.65 555.8,229.72 556.29,229.78 C556.78,229.84 557.28,229.89 557.75,230.01 C558.21,230.12 558.55,230.37 559.08,230.46 C559.61,230.55 560.45,230.38 560.92,230.53 C561.4,230.69 561.66,231.1 561.92,231.41 C562.19,231.73 562.41,232.08 562.5,232.44 C562.59,232.79 562.36,233.21 562.46,233.54 C562.55,233.87 562.99,234.12 563.07,234.43 C563.14,234.74 562.86,235.07 562.92,235.4 Z" stroke="none" stroke-width="1" fill="#d6d6d6" />
<path d="M563.9,224.7 C563.82,225.12 564.21,225.53 564.16,225.92 C564.11,226.32 563.78,226.69 563.6,227.08 C563.43,227.47 563.26,227.84 563.11,228.27 C562.96,228.7 562.96,229.23 562.72,229.66 C562.49,230.09 562.18,230.59 561.7,230.86 C561.21,231.14 560.46,231.26 559.79,231.29 C559.13,231.32 558.33,231.04 557.72,231.06 C557.12,231.09 556.69,231.35 556.15,231.44 C555.62,231.53 555.07,231.54 554.5,231.61 C553.93,231.67 553.33,231.84 552.75,231.85 C552.16,231.85 551.55,231.76 550.98,231.64 C550.42,231.52 549.81,231.38 549.34,231.13 C548.87,230.87 548.66,230.38 548.17,230.12 C547.68,229.87 546.92,229.84 546.38,229.6 C545.84,229.36 545.21,229.06 544.91,228.68 C544.61,228.29 544.53,227.76 544.58,227.29 C544.63,226.83 545.19,226.31 545.21,225.88 C545.23,225.45 544.72,225.1 544.69,224.7 C544.66,224.3 545.02,223.93 545.01,223.5 C545,223.07 544.65,222.58 544.65,222.12 C544.65,221.67 544.72,221.15 544.99,220.76 C545.27,220.36 545.8,220.03 546.28,219.74 C546.76,219.46 547.39,219.29 547.9,219.05 C548.41,218.8 548.84,218.53 549.34,218.27 C549.83,218.01 550.27,217.58 550.85,217.49 C551.42,217.4 552.18,217.66 552.79,217.72 C553.4,217.78 553.94,217.81 554.5,217.86 C555.06,217.91 555.58,217.96 556.15,217.99 C556.71,218.02 557.3,217.98 557.87,218.04 C558.45,218.1 558.95,218.28 559.6,218.36 C560.24,218.43 561.2,218.28 561.74,218.5 C562.27,218.72 562.54,219.27 562.81,219.69 C563.08,220.11 563.18,220.6 563.36,221.02 C563.54,221.45 563.69,221.84 563.9,222.24 C564.12,222.64 564.64,223 564.64,223.41 C564.64,223.82 563.98,224.28 563.9,224.7 Z" stroke="none" stroke-width="1" fill="#b3b3b3" />
<path d="M559.52,219.6 C559.57,219.71 559.68,219.83 559.65,219.93 C559.63,220.04 559.47,220.13 559.36,220.23 C559.26,220.33 559.16,220.42 559.05,220.5 C558.93,220.59 558.79,220.67 558.67,220.75 C558.55,220.84 558.47,220.95 558.31,221.02 C558.15,221.08 557.88,221.06 557.71,221.12 C557.54,221.19 557.46,221.36 557.28,221.4 C557.09,221.45 556.83,221.44 556.62,221.4 C556.41,221.37 556.2,221.23 556,221.21 C555.8,221.2 555.61,221.31 555.41,221.33 C555.2,221.35 554.99,221.34 554.78,221.33 C554.57,221.32 554.32,221.31 554.15,221.25 C553.97,221.2 553.88,221.07 553.73,220.99 C553.57,220.92 553.31,220.89 553.23,220.79 C553.16,220.7 553.39,220.5 553.27,220.41 C553.15,220.32 552.66,220.33 552.51,220.25 C552.36,220.17 552.36,220.04 552.35,219.93 C552.34,219.82 552.37,219.7 552.46,219.6 C552.55,219.5 552.86,219.42 552.9,219.32 C552.95,219.22 552.69,219.08 552.71,218.98 C552.73,218.88 552.96,218.82 553.04,218.72 C553.13,218.62 553.1,218.48 553.22,218.4 C553.33,218.32 553.58,218.28 553.74,218.22 C553.91,218.16 554.05,218.07 554.24,218.03 C554.42,217.99 554.66,218.02 554.86,217.98 C555.05,217.95 555.2,217.86 555.39,217.81 C555.58,217.75 555.79,217.67 556,217.66 C556.21,217.65 556.43,217.72 556.63,217.76 C556.83,217.81 557.01,217.86 557.19,217.92 C557.37,217.97 557.5,218.05 557.7,218.09 C557.89,218.13 558.23,218.08 558.37,218.15 C558.52,218.21 558.42,218.41 558.56,218.5 C558.69,218.58 559.08,218.57 559.18,218.66 C559.27,218.74 559.08,218.91 559.12,219.02 C559.15,219.12 559.3,219.2 559.37,219.29 C559.43,219.39 559.47,219.49 559.52,219.6 Z" stroke="none" stroke-width="1" fill="#b3b3b3" />
<path d="M650.33,235.6 C650.3,235.93 650.93,236.25 651.04,236.58 C651.15,236.92 651.05,237.26 650.98,237.61 C650.92,237.96 650.85,238.34 650.64,238.66 C650.43,238.98 650.07,239.26 649.71,239.52 C649.36,239.79 648.98,240.05 648.53,240.23 C648.07,240.4 647.48,240.44 647,240.57 C646.53,240.71 646.14,240.93 645.67,241.04 C645.2,241.15 644.69,241.15 644.19,241.25 C643.7,241.35 643.18,241.71 642.7,241.64 C642.22,241.57 641.8,240.96 641.32,240.82 C640.84,240.69 640.37,240.83 639.84,240.84 C639.31,240.85 638.66,240.95 638.13,240.88 C637.59,240.81 637.07,240.63 636.63,240.42 C636.2,240.21 635.83,239.91 635.52,239.62 C635.21,239.32 634.89,239 634.76,238.66 C634.63,238.31 634.71,237.89 634.73,237.53 C634.74,237.18 635.06,236.85 634.85,236.52 C634.65,236.2 633.64,235.92 633.51,235.6 C633.37,235.28 633.84,234.9 634.06,234.58 C634.28,234.27 634.66,234.01 634.84,233.69 C635.03,233.38 635.03,233.04 635.18,232.71 C635.33,232.38 635.45,231.99 635.74,231.7 C636.03,231.42 636.56,231.28 636.92,231 C637.28,230.73 637.43,230.2 637.9,230.06 C638.37,229.91 639.14,230.08 639.71,230.13 C640.29,230.19 640.83,230.36 641.32,230.39 C641.82,230.43 642.21,230.44 642.7,230.33 C643.19,230.21 643.75,229.77 644.26,229.71 C644.77,229.66 645.26,229.9 645.76,230 C646.26,230.1 646.82,230.15 647.28,230.31 C647.74,230.48 648.13,230.74 648.51,230.98 C648.89,231.23 649.28,231.48 649.55,231.77 C649.82,232.06 649.83,232.45 650.14,232.74 C650.46,233.02 651.27,233.17 651.45,233.48 C651.62,233.79 651.38,234.25 651.19,234.6 C651.01,234.96 650.35,235.27 650.33,235.6 Z" stroke="none" stroke-width="1" fill="#d6d6d6" />
<path d="M651.81,224.9 C651.89,225.29 651.79,225.67 651.85,226.1 C651.91,226.52 652.21,227.02 652.16,227.45 C652.11,227.89 651.76,228.27 651.54,228.69 C651.32,229.11 651.28,229.7 650.84,229.99 C650.39,230.28 649.38,230.19 648.85,230.42 C648.31,230.66 648.09,231.11 647.62,231.4 C647.16,231.69 646.65,232.04 646.07,232.15 C645.49,232.26 644.77,232.12 644.16,232.06 C643.54,231.99 642.98,231.79 642.4,231.75 C641.82,231.71 641.27,231.83 640.7,231.81 C640.13,231.79 639.58,231.7 638.98,231.65 C638.38,231.6 637.74,231.59 637.11,231.49 C636.47,231.39 635.71,231.33 635.19,231.07 C634.68,230.82 634.25,230.39 634.03,229.95 C633.8,229.51 633.92,228.91 633.82,228.46 C633.72,228.01 633.69,227.62 633.44,227.24 C633.2,226.86 632.48,226.56 632.35,226.17 C632.22,225.78 632.68,225.33 632.67,224.9 C632.66,224.47 632.2,224.02 632.29,223.62 C632.38,223.22 632.99,222.89 633.19,222.49 C633.39,222.09 633.28,221.6 633.5,221.21 C633.72,220.82 634.29,220.61 634.52,220.15 C634.75,219.69 634.42,218.73 634.86,218.45 C635.31,218.16 636.48,218.43 637.19,218.41 C637.89,218.4 638.5,218.4 639.09,218.37 C639.69,218.34 640.21,218.27 640.77,218.24 C641.32,218.2 641.85,218.19 642.4,218.17 C642.95,218.14 643.48,218.13 644.07,218.09 C644.66,218.05 645.33,217.89 645.94,217.92 C646.54,217.95 647.22,218.05 647.72,218.28 C648.22,218.51 648.41,219.05 648.93,219.3 C649.45,219.56 650.37,219.53 650.84,219.81 C651.31,220.1 651.5,220.61 651.75,221.02 C652,221.44 652.39,221.85 652.33,222.3 C652.27,222.76 651.49,223.33 651.41,223.76 C651.32,224.19 651.74,224.51 651.81,224.9 Z" stroke="none" stroke-width="1" fill="#b3b3b3" />
<path d="M647.45,219.8 C647.5,219.91 647.65,220.04 647.58,220.13 C647.51,220.23 647.17,220.3 647.03,220.39 C646.89,220.47 646.84,220.55 646.76,220.65 C646.68,220.74 646.65,220.85 646.55,220.95 C646.46,221.04 646.33,221.13 646.19,221.2 C646.04,221.28 645.87,221.34 645.69,221.39 C645.51,221.44 645.31,221.49 645.1,221.5 C644.9,221.5 644.66,221.45 644.46,221.43 C644.26,221.42 644.1,221.38 643.9,221.41 C643.7,221.45 643.48,221.61 643.27,221.64 C643.06,221.68 642.81,221.65 642.62,221.6 C642.44,221.55 642.32,221.42 642.16,221.35 C642,221.28 641.8,221.25 641.66,221.17 C641.51,221.1 641.42,221 641.3,220.92 C641.17,220.84 641.07,220.76 640.91,220.69 C640.76,220.61 640.47,220.55 640.37,220.46 C640.26,220.37 640.25,220.24 640.27,220.13 C640.29,220.02 640.43,219.9 640.51,219.8 C640.59,219.7 640.76,219.62 640.76,219.52 C640.77,219.41 640.55,219.28 640.54,219.17 C640.54,219.06 640.6,218.94 640.72,218.86 C640.85,218.77 641.13,218.74 641.29,218.68 C641.46,218.61 641.56,218.52 641.71,218.46 C641.87,218.4 642.03,218.34 642.2,218.29 C642.37,218.23 642.55,218.19 642.72,218.14 C642.9,218.09 643.08,218.04 643.28,217.99 C643.47,217.94 643.7,217.83 643.9,217.85 C644.1,217.87 644.29,218.04 644.48,218.1 C644.67,218.15 644.86,218.15 645.04,218.19 C645.23,218.22 645.39,218.27 645.58,218.3 C645.78,218.33 646.08,218.31 646.23,218.37 C646.38,218.43 646.37,218.59 646.51,218.67 C646.64,218.76 646.99,218.77 647.04,218.87 C647.1,218.96 646.78,219.15 646.82,219.25 C646.86,219.36 647.18,219.4 647.29,219.49 C647.39,219.58 647.4,219.69 647.45,219.8 Z" stroke="none" stroke-width="1" fill="#b3b3b3" />
<path d="M680.6,235.6 C680.59,235.93 680.54,236.27 680.39,236.59 C680.24,236.9 679.84,237.15 679.71,237.47 C679.57,237.79 679.62,238.13 679.58,238.52 C679.54,238.9 679.7,239.45 679.45,239.77 C679.2,240.09 678.65,240.35 678.08,240.43 C677.5,240.51 676.53,240.12 676.02,240.24 C675.5,240.35 675.43,240.96 675,241.1 C674.58,241.24 673.96,241.04 673.45,241.1 C672.95,241.16 672.49,241.45 672,241.46 C671.51,241.48 671.03,241.22 670.53,241.17 C670.02,241.12 669.43,241.27 668.96,241.17 C668.49,241.07 668.13,240.75 667.69,240.57 C667.26,240.39 666.84,240.25 666.34,240.1 C665.84,239.95 665.07,239.93 664.69,239.69 C664.32,239.44 664.19,239.01 664.08,238.65 C663.97,238.29 664.04,237.88 664.03,237.53 C664.02,237.18 664.08,236.86 664,236.54 C663.92,236.22 663.65,235.93 663.55,235.6 C663.45,235.27 663.43,234.94 663.39,234.59 C663.36,234.24 663.18,233.82 663.35,233.5 C663.51,233.18 664.08,232.95 664.39,232.67 C664.7,232.39 664.88,232.06 665.2,231.8 C665.52,231.53 665.95,231.35 666.3,231.07 C666.64,230.79 666.84,230.33 667.27,230.14 C667.71,229.96 668.38,229.96 668.93,229.97 C669.47,229.98 670.05,230.12 670.57,230.18 C671.08,230.24 671.52,230.35 672,230.34 C672.48,230.32 672.98,230.09 673.46,230.1 C673.93,230.1 674.3,230.37 674.87,230.35 C675.43,230.33 676.35,229.9 676.85,230 C677.35,230.1 677.54,230.64 677.87,230.93 C678.21,231.23 678.59,231.47 678.87,231.76 C679.15,232.05 679.29,232.39 679.55,232.69 C679.82,232.99 680.32,233.22 680.48,233.54 C680.63,233.86 680.48,234.26 680.5,234.6 C680.52,234.94 680.62,235.27 680.6,235.6 Z" stroke="none" stroke-width="1" fill="#d6d6d6" />
<path d="M681.97,224.9 C681.99,225.3 681.36,225.7 681.19,226.1 C681.02,226.51 681.07,226.91 680.95,227.32 C680.83,227.73 680.69,228.14 680.48,228.54 C680.27,228.95 679.98,229.32 679.7,229.72 C679.42,230.13 679.24,230.67 678.81,230.99 C678.39,231.32 677.75,231.55 677.14,231.67 C676.53,231.79 675.8,231.79 675.15,231.71 C674.5,231.63 673.82,231.21 673.25,231.21 C672.67,231.22 672.25,231.59 671.7,231.72 C671.15,231.84 670.55,231.95 669.97,231.96 C669.39,231.97 668.8,231.86 668.22,231.77 C667.64,231.67 667.07,231.54 666.48,231.4 C665.88,231.26 665.09,231.23 664.66,230.93 C664.23,230.63 664.27,229.97 663.9,229.61 C663.52,229.24 662.76,229.11 662.41,228.76 C662.06,228.4 661.82,227.94 661.77,227.5 C661.72,227.06 661.94,226.55 662.12,226.11 C662.3,225.68 662.88,225.31 662.87,224.9 C662.86,224.49 662.11,224.08 662.04,223.68 C661.97,223.27 662.39,222.92 662.44,222.48 C662.49,222.04 662.15,221.43 662.34,221.02 C662.54,220.61 663.17,220.33 663.61,220.02 C664.05,219.71 664.49,219.39 665.01,219.17 C665.53,218.95 666.18,218.89 666.71,218.69 C667.24,218.48 667.64,218.12 668.17,217.93 C668.7,217.75 669.31,217.54 669.9,217.56 C670.49,217.58 671.12,217.97 671.7,218.06 C672.28,218.15 672.79,218.1 673.37,218.1 C673.95,218.09 674.54,218.04 675.17,218.04 C675.8,218.05 676.58,217.96 677.14,218.13 C677.71,218.29 678.04,218.76 678.56,219.02 C679.08,219.29 680,219.33 680.28,219.72 C680.56,220.11 680.15,220.89 680.23,221.36 C680.31,221.83 680.61,222.14 680.75,222.53 C680.9,222.92 680.88,223.32 681.09,223.71 C681.29,224.11 681.96,224.5 681.97,224.9 Z" stroke="none" stroke-width="1" fill="#b3b3b3" />
<path d="M677.04,219.8 C677,219.9 676.65,220.01 676.53,220.1 C676.4,220.2 676.35,220.28 676.3,220.38 C676.24,220.48 676.25,220.58 676.22,220.7 C676.18,220.81 676.22,220.97 676.09,221.05 C675.97,221.13 675.65,221.13 675.47,221.19 C675.28,221.25 675.17,221.34 674.99,221.39 C674.81,221.44 674.59,221.46 674.39,221.48 C674.19,221.5 673.99,221.48 673.79,221.52 C673.59,221.55 673.4,221.65 673.2,221.67 C673,221.69 672.76,221.67 672.57,221.63 C672.38,221.59 672.21,221.5 672.04,221.43 C671.88,221.37 671.76,221.29 671.58,221.24 C671.4,221.2 671.13,221.23 670.94,221.18 C670.76,221.14 670.63,221.05 670.48,220.98 C670.32,220.9 670.09,220.84 670.02,220.75 C669.94,220.65 670.07,220.5 670.02,220.4 C669.97,220.29 669.68,220.22 669.7,220.12 C669.72,220.02 670.18,219.91 670.15,219.8 C670.11,219.69 669.57,219.57 669.48,219.46 C669.39,219.35 669.49,219.22 669.61,219.13 C669.74,219.04 670.08,219 670.25,218.92 C670.42,218.85 670.52,218.78 670.63,218.69 C670.74,218.6 670.77,218.46 670.91,218.4 C671.05,218.33 671.33,218.34 671.5,218.29 C671.68,218.23 671.78,218.1 671.96,218.05 C672.14,218 672.37,217.98 672.57,217.98 C672.78,217.97 673,218 673.2,218.02 C673.4,218.04 673.57,218.11 673.78,218.11 C673.99,218.11 674.24,218.03 674.45,218.03 C674.66,218.04 674.9,218.08 675.05,218.15 C675.2,218.23 675.21,218.4 675.35,218.48 C675.49,218.56 675.77,218.56 675.9,218.64 C676.03,218.71 676.05,218.83 676.13,218.93 C676.22,219.02 676.29,219.11 676.4,219.2 C676.51,219.29 676.67,219.38 676.78,219.48 C676.88,219.58 677.08,219.7 677.04,219.8 Z" stroke="none" stroke-width="1" fill="#b3b3b3" />
<path d="M531.5,239.3 C538,239.8 543,239.5 546.5,238.5 M562.5,236.3 C570,233 585,234 600,236 C615,237.5 625,236.5 636,236.4 M651,236.4 L664,236.4 M680,237.5 C682,238.5 684,239.3 685,239.5" stroke="#3a3333" stroke-width="1.2" fill="none" />
<path d="M619,241.7 L632,237.9 L632.6,240.1 Z" stroke="none" stroke-width="1" fill="#8e8e8e" />
<rect x="546" y="233.4" width="17.2" height="5" fill="#fff" stroke="#555" stroke-width="0.45" fill-opacity="0.9"/>
<text x="554.6" y="237.65" font-size="5.4" fill="#333" stroke="#333" stroke-width="0.06" text-anchor="middle" font-weight="bold" letter-spacing="0.05">START</text>
<rect x="663.9" y="234.2" width="16.2" height="5.2" fill="#fff" stroke="#555" stroke-width="0.45" fill-opacity="0.9"/>
<text x="672" y="238.65" font-size="5.4" fill="#333" stroke="#333" stroke-width="0.06" text-anchor="middle" font-weight="bold" letter-spacing="0.05">STOP</text>
<path d="M563.5,218.5 l1.5,2 M565,218.2 l1.6,2.1" stroke="#444" stroke-width="0.7" fill="none" />
<path d="M544,242 l1.5,2 M545.5,241.7 l1.6,2.1" stroke="#444" stroke-width="0.7" fill="none" />
<path d="M680.5,219 l1.5,2 M682,218.7 l1.6,2.1" stroke="#444" stroke-width="0.7" fill="none" />
<path d="M660,242.5 l1.5,2 M661.5,242.2 l1.6,2.1" stroke="#444" stroke-width="0.7" fill="none" />
<text x="531.4" y="273.9" font-size="10" fill="#1ba59c" stroke="#1ba59c" stroke-width="0.22" font-style="italic">18S: GA/AG</text>
<path d="M563.11,298.6 C563.1,298.92 563,299.23 563.01,299.57 C563.03,299.91 563.27,300.3 563.21,300.64 C563.14,300.98 562.77,301.25 562.63,301.61 C562.48,301.97 562.71,302.58 562.33,302.81 C561.94,303.04 560.87,302.88 560.31,302.98 C559.75,303.08 559.38,303.21 558.96,303.4 C558.54,303.59 558.23,303.9 557.81,304.11 C557.39,304.33 556.92,304.72 556.42,304.71 C555.91,304.7 555.32,304.13 554.8,304.05 C554.28,303.97 553.78,304.27 553.31,304.23 C552.84,304.18 552.45,303.88 551.97,303.78 C551.49,303.69 550.91,303.76 550.41,303.67 C549.91,303.57 549.48,303.38 548.99,303.21 C548.51,303.05 547.78,302.97 547.5,302.68 C547.22,302.39 547.37,301.85 547.31,301.48 C547.25,301.11 547.31,300.77 547.16,300.45 C547,300.14 546.54,299.9 546.38,299.59 C546.21,299.28 546.2,298.93 546.17,298.6 C546.14,298.27 546.14,297.92 546.19,297.59 C546.24,297.25 546.3,296.89 546.48,296.58 C546.66,296.27 546.95,295.96 547.27,295.7 C547.58,295.44 548.07,295.28 548.36,295 C548.64,294.71 548.68,294.28 548.97,293.97 C549.25,293.66 549.6,293.29 550.07,293.14 C550.54,292.99 551.22,293.01 551.78,293.07 C552.34,293.12 552.94,293.49 553.45,293.49 C553.95,293.48 554.32,293.13 554.8,293.03 C555.28,292.93 555.79,292.91 556.31,292.89 C556.83,292.87 557.41,292.82 557.91,292.9 C558.41,292.99 558.81,293.26 559.29,293.42 C559.76,293.58 560.45,293.59 560.76,293.86 C561.08,294.13 560.88,294.74 561.17,295.03 C561.47,295.33 562.09,295.4 562.52,295.63 C562.95,295.86 563.67,296.09 563.75,296.43 C563.84,296.76 563.15,297.27 563.04,297.63 C562.93,297.99 563.11,298.28 563.11,298.6 Z" stroke="none" stroke-width="1" fill="#1ba59c" />
<path d="M564.2,287.9 C564.37,288.31 564.69,288.77 564.67,289.19 C564.65,289.61 564.29,290.01 564.07,290.4 C563.85,290.8 563.56,291.16 563.34,291.57 C563.13,291.98 563.11,292.53 562.77,292.89 C562.42,293.24 561.79,293.46 561.27,293.7 C560.75,293.94 560.19,294.11 559.66,294.33 C559.13,294.55 558.68,294.94 558.1,295.01 C557.52,295.09 556.79,294.92 556.19,294.79 C555.59,294.65 555.06,294.2 554.5,294.2 C553.94,294.2 553.39,294.7 552.81,294.78 C552.24,294.86 551.65,294.76 551.06,294.69 C550.47,294.63 549.84,294.55 549.3,294.38 C548.75,294.2 548.29,293.9 547.8,293.64 C547.31,293.38 546.66,293.17 546.38,292.8 C546.09,292.43 546.36,291.78 546.07,291.4 C545.78,291.01 544.9,290.85 544.65,290.48 C544.39,290.11 544.58,289.59 544.57,289.16 C544.56,288.73 544.45,288.3 544.57,287.9 C544.7,287.5 545.31,287.16 545.34,286.74 C545.37,286.31 544.77,285.8 544.74,285.35 C544.72,284.9 544.97,284.46 545.18,284.03 C545.4,283.61 545.68,283.17 546.06,282.81 C546.43,282.44 546.92,282.1 547.44,281.85 C547.96,281.6 548.56,281.35 549.19,281.29 C549.82,281.23 550.64,281.5 551.24,281.47 C551.85,281.44 552.29,281.25 552.83,281.1 C553.37,280.95 553.94,280.59 554.5,280.58 C555.06,280.56 555.64,280.89 556.18,281.03 C556.73,281.17 557.23,281.31 557.78,281.42 C558.34,281.52 558.91,281.56 559.51,281.67 C560.1,281.77 560.8,281.83 561.35,282.03 C561.9,282.24 562.31,282.59 562.79,282.9 C563.27,283.21 564.06,283.44 564.22,283.87 C564.39,284.29 563.87,284.99 563.78,285.47 C563.68,285.95 563.58,286.34 563.65,286.74 C563.72,287.15 564.03,287.49 564.2,287.9 Z" stroke="none" stroke-width="1" fill="#b3b3b3" />
<path d="M559.6,282.8 C559.64,282.9 559.63,283.02 559.58,283.12 C559.53,283.23 559.4,283.32 559.32,283.42 C559.23,283.52 559.19,283.63 559.08,283.71 C558.96,283.8 558.78,283.87 558.63,283.93 C558.47,284 558.28,284.03 558.15,284.12 C558.03,284.21 558,284.37 557.86,284.46 C557.72,284.54 557.51,284.62 557.3,284.63 C557.08,284.64 556.81,284.55 556.59,284.53 C556.38,284.51 556.2,284.5 556,284.51 C555.8,284.52 555.58,284.62 555.38,284.61 C555.18,284.61 555.01,284.52 554.8,284.49 C554.6,284.46 554.35,284.48 554.17,284.43 C553.99,284.38 553.87,284.28 553.71,284.2 C553.55,284.13 553.29,284.1 553.22,284 C553.16,283.9 553.4,283.69 553.32,283.6 C553.23,283.5 552.9,283.49 552.71,283.42 C552.52,283.34 552.21,283.25 552.18,283.15 C552.16,283.04 552.44,282.91 552.54,282.8 C552.64,282.69 552.74,282.61 552.78,282.51 C552.82,282.41 552.75,282.3 552.77,282.2 C552.79,282.09 552.81,281.97 552.9,281.88 C552.99,281.79 553.19,281.73 553.32,281.64 C553.44,281.56 553.5,281.42 553.67,281.37 C553.84,281.32 554.14,281.34 554.34,281.32 C554.55,281.3 554.73,281.29 554.91,281.25 C555.09,281.22 555.24,281.2 555.42,281.12 C555.61,281.04 555.8,280.8 556,280.78 C556.2,280.77 556.41,280.97 556.61,281.03 C556.8,281.09 557,281.09 557.17,281.14 C557.34,281.2 557.45,281.3 557.64,281.34 C557.83,281.38 558.12,281.34 558.3,281.39 C558.48,281.44 558.55,281.56 558.72,281.63 C558.89,281.7 559.23,281.72 559.31,281.82 C559.4,281.91 559.21,282.09 559.21,282.2 C559.22,282.31 559.28,282.4 559.35,282.5 C559.41,282.6 559.56,282.7 559.6,282.8 Z" stroke="none" stroke-width="1" fill="#b3b3b3" />
<path d="M598.48,298.6 C598.54,298.92 598.32,299.25 598.29,299.6 C598.27,299.94 598.45,300.34 598.31,300.66 C598.17,300.99 597.72,301.25 597.44,301.54 C597.17,301.84 596.97,302.16 596.66,302.44 C596.35,302.71 595.93,302.91 595.58,303.2 C595.24,303.48 595.08,304.02 594.6,304.14 C594.12,304.26 593.26,303.93 592.7,303.91 C592.14,303.89 591.72,304.01 591.24,304.03 C590.75,304.04 590.28,303.97 589.8,303.99 C589.32,304.01 588.83,304.13 588.34,304.14 C587.84,304.15 587.36,304.07 586.83,304.04 C586.3,304.01 585.62,304.11 585.14,303.98 C584.66,303.85 584.24,303.55 583.95,303.25 C583.66,302.95 583.75,302.44 583.41,302.18 C583.07,301.91 582.3,301.88 581.92,301.63 C581.53,301.39 581.26,301.04 581.1,300.71 C580.93,300.38 580.82,299.99 580.95,299.64 C581.08,299.29 581.84,298.94 581.88,298.6 C581.91,298.26 581.18,297.91 581.17,297.59 C581.16,297.26 581.71,297.01 581.81,296.66 C581.91,296.31 581.67,295.88 581.76,295.5 C581.85,295.13 581.97,294.68 582.35,294.43 C582.73,294.18 583.46,294.1 584.03,294.01 C584.59,293.92 585.27,294.05 585.73,293.9 C586.2,293.76 586.4,293.32 586.82,293.14 C587.24,292.97 587.78,292.86 588.28,292.84 C588.77,292.82 589.31,292.97 589.8,293.02 C590.29,293.07 590.74,293.13 591.24,293.14 C591.74,293.15 592.3,293.06 592.8,293.11 C593.3,293.16 593.78,293.31 594.27,293.44 C594.76,293.57 595.21,293.73 595.74,293.88 C596.27,294.02 597.18,294.02 597.45,294.32 C597.72,294.62 597.34,295.29 597.35,295.69 C597.36,296.09 597.44,296.4 597.53,296.72 C597.62,297.05 597.73,297.34 597.88,297.65 C598.04,297.96 598.41,298.28 598.48,298.6 Z" stroke="none" stroke-width="1" fill="#1ba59c" />
<path d="M599.38,287.9 C599.25,288.31 599.11,288.71 598.92,289.09 C598.73,289.48 598.24,289.73 598.25,290.19 C598.27,290.65 599.03,291.36 598.99,291.84 C598.95,292.31 598.46,292.72 598.02,293.04 C597.58,293.36 596.91,293.56 596.35,293.77 C595.79,293.99 595.24,294.2 594.66,294.33 C594.08,294.45 593.45,294.5 592.86,294.54 C592.27,294.58 591.69,294.45 591.13,294.55 C590.57,294.66 590.06,295.11 589.5,295.16 C588.94,295.22 588.33,295.02 587.79,294.89 C587.24,294.76 586.78,294.49 586.23,294.36 C585.68,294.24 585.13,294.2 584.49,294.14 C583.85,294.07 582.98,294.17 582.39,293.99 C581.8,293.81 581.32,293.42 580.96,293.05 C580.6,292.68 580.4,292.19 580.24,291.74 C580.07,291.3 579.96,290.84 579.99,290.39 C580.02,289.94 580.4,289.47 580.42,289.05 C580.44,288.64 580.22,288.3 580.12,287.9 C580.02,287.5 579.89,287.1 579.8,286.67 C579.71,286.24 579.45,285.72 579.58,285.31 C579.71,284.89 580.31,284.6 580.6,284.21 C580.89,283.82 580.97,283.32 581.33,282.97 C581.69,282.62 582.28,282.4 582.76,282.12 C583.24,281.85 583.66,281.49 584.2,281.3 C584.74,281.11 585.4,281.08 585.99,280.97 C586.58,280.85 587.13,280.58 587.71,280.62 C588.3,280.66 588.93,281.08 589.5,281.21 C590.07,281.33 590.5,281.43 591.11,281.35 C591.71,281.28 592.47,280.8 593.12,280.75 C593.78,280.69 594.51,280.79 595.03,281.02 C595.55,281.25 595.85,281.77 596.24,282.13 C596.64,282.48 597.02,282.8 597.4,283.14 C597.77,283.48 598.28,283.78 598.47,284.18 C598.67,284.58 598.37,285.12 598.57,285.53 C598.78,285.93 599.57,286.21 599.71,286.61 C599.84,287 599.51,287.49 599.38,287.9 Z" stroke="none" stroke-width="1" fill="#b3b3b3" />
<path d="M594.57,282.8 C594.64,282.9 594.71,283.03 594.68,283.13 C594.65,283.24 594.52,283.35 594.4,283.44 C594.28,283.53 594.12,283.61 593.96,283.68 C593.8,283.75 593.56,283.77 593.45,283.86 C593.35,283.95 593.45,284.15 593.32,284.22 C593.2,284.3 592.91,284.29 592.72,284.33 C592.52,284.37 592.37,284.44 592.18,284.47 C591.99,284.5 591.79,284.51 591.59,284.52 C591.39,284.52 591.19,284.52 591,284.5 C590.81,284.49 590.66,284.41 590.44,284.43 C590.23,284.45 589.91,284.63 589.71,284.63 C589.5,284.62 589.38,284.46 589.22,284.38 C589.07,284.3 588.9,284.24 588.79,284.15 C588.68,284.07 588.72,283.92 588.56,283.85 C588.4,283.78 588,283.81 587.83,283.74 C587.66,283.67 587.63,283.55 587.56,283.44 C587.49,283.34 587.41,283.23 587.4,283.13 C587.4,283.02 587.45,282.9 587.54,282.8 C587.62,282.7 587.85,282.62 587.9,282.52 C587.95,282.42 587.82,282.31 587.82,282.21 C587.82,282.1 587.88,282 587.91,281.88 C587.95,281.77 587.89,281.59 588.05,281.53 C588.21,281.46 588.67,281.54 588.86,281.49 C589.05,281.44 589.06,281.27 589.22,281.21 C589.38,281.15 589.63,281.18 589.82,281.13 C590.01,281.08 590.15,280.94 590.35,280.91 C590.55,280.88 590.79,280.96 591,280.97 C591.21,280.99 591.44,280.95 591.62,281.01 C591.79,281.06 591.89,281.24 592.07,281.29 C592.25,281.34 592.48,281.28 592.7,281.28 C592.93,281.29 593.25,281.26 593.42,281.32 C593.58,281.38 593.61,281.53 593.71,281.63 C593.81,281.73 593.93,281.81 594.01,281.91 C594.1,282 594.17,282.1 594.21,282.2 C594.24,282.3 594.17,282.41 594.23,282.51 C594.29,282.61 594.49,282.7 594.57,282.8 Z" stroke="none" stroke-width="1" fill="#b3b3b3" />
<path d="M627.4,298.8 C627.36,299.12 626.62,299.43 626.44,299.76 C626.27,300.08 626.5,300.44 626.38,300.76 C626.26,301.08 625.9,301.33 625.72,301.66 C625.54,301.98 625.56,302.41 625.3,302.71 C625.04,303.01 624.54,303.2 624.16,303.45 C623.77,303.7 623.47,304.08 622.99,304.21 C622.51,304.34 621.82,304.26 621.27,304.24 C620.72,304.22 620.19,304.07 619.7,304.09 C619.2,304.11 618.79,304.28 618.3,304.37 C617.81,304.45 617.27,304.62 616.76,304.62 C616.25,304.62 615.73,304.49 615.26,304.36 C614.79,304.23 614.45,303.96 613.95,303.83 C613.45,303.7 612.58,303.85 612.26,303.6 C611.94,303.34 612.38,302.58 612.03,302.31 C611.69,302.03 610.55,302.17 610.18,301.93 C609.81,301.68 609.91,301.21 609.82,300.86 C609.72,300.51 609.49,300.16 609.61,299.82 C609.73,299.48 610.44,299.13 610.52,298.8 C610.61,298.47 610.16,298.16 610.12,297.84 C610.09,297.52 610.25,297.2 610.33,296.87 C610.41,296.53 610.43,296.16 610.6,295.84 C610.77,295.51 611.01,295.17 611.35,294.91 C611.68,294.65 612.14,294.42 612.61,294.28 C613.08,294.13 613.71,294.17 614.18,294.04 C614.64,293.91 614.97,293.69 615.39,293.47 C615.81,293.26 616.21,292.79 616.7,292.75 C617.18,292.71 617.8,293.1 618.3,293.22 C618.8,293.35 619.24,293.4 619.71,293.47 C620.18,293.55 620.58,293.65 621.11,293.66 C621.63,293.67 622.35,293.45 622.85,293.54 C623.35,293.63 623.59,294.02 624.1,294.19 C624.62,294.35 625.67,294.24 625.93,294.53 C626.19,294.83 625.68,295.56 625.68,295.96 C625.68,296.36 625.76,296.64 625.93,296.95 C626.1,297.26 626.46,297.5 626.7,297.81 C626.95,298.12 627.45,298.48 627.4,298.8 Z" stroke="none" stroke-width="1" fill="#5bc3bb" />
<path d="M627.22,288.1 C627.36,288.5 627.81,288.94 627.8,289.34 C627.79,289.74 627.27,290.07 627.18,290.5 C627.08,290.93 627.38,291.5 627.22,291.92 C627.05,292.35 626.59,292.71 626.19,293.04 C625.78,293.37 625.31,293.69 624.77,293.9 C624.23,294.11 623.47,294.02 622.97,294.28 C622.46,294.54 622.28,295.35 621.73,295.46 C621.18,295.58 620.3,295.05 619.68,294.96 C619.06,294.86 618.56,294.9 618,294.89 C617.44,294.88 616.9,294.92 616.33,294.92 C615.76,294.91 615.15,294.93 614.58,294.85 C614.01,294.77 613.53,294.55 612.9,294.45 C612.27,294.35 611.37,294.46 610.81,294.26 C610.24,294.05 609.73,293.66 609.51,293.22 C609.29,292.78 609.67,292.07 609.5,291.63 C609.34,291.19 608.74,290.96 608.52,290.58 C608.3,290.2 608.27,289.76 608.19,289.34 C608.1,288.93 607.96,288.51 608.01,288.1 C608.06,287.69 608.38,287.3 608.48,286.89 C608.58,286.48 608.43,286.03 608.59,285.64 C608.75,285.25 609.23,284.96 609.44,284.55 C609.65,284.14 609.59,283.59 609.85,283.19 C610.11,282.78 610.53,282.39 611,282.1 C611.47,281.82 612.03,281.52 612.67,281.46 C613.3,281.4 614.19,281.83 614.79,281.77 C615.39,281.7 615.74,281.19 616.28,281.09 C616.81,280.99 617.42,281.21 618,281.17 C618.58,281.13 619.22,280.79 619.78,280.85 C620.34,280.9 620.77,281.37 621.35,281.49 C621.93,281.61 622.7,281.41 623.26,281.55 C623.81,281.7 624.16,282.13 624.68,282.38 C625.19,282.63 625.85,282.78 626.36,283.06 C626.88,283.33 627.52,283.63 627.77,284.05 C628.02,284.46 627.98,285.04 627.84,285.53 C627.71,286.01 627.06,286.54 626.95,286.97 C626.85,287.39 627.08,287.7 627.22,288.1 Z" stroke="none" stroke-width="1" fill="#cacaca" />
<path d="M623.02,283 C622.98,283.11 623.03,283.22 622.97,283.31 C622.91,283.41 622.72,283.49 622.64,283.59 C622.57,283.68 622.58,283.8 622.5,283.89 C622.42,283.99 622.25,284.04 622.16,284.15 C622.08,284.26 622.14,284.45 622.01,284.54 C621.88,284.62 621.6,284.65 621.38,284.67 C621.15,284.69 620.88,284.64 620.66,284.64 C620.44,284.63 620.25,284.6 620.06,284.63 C619.87,284.66 619.7,284.78 619.5,284.82 C619.3,284.87 619.05,284.93 618.85,284.91 C618.65,284.88 618.49,284.75 618.31,284.69 C618.13,284.63 617.92,284.61 617.76,284.55 C617.61,284.48 617.56,284.35 617.39,284.29 C617.22,284.23 616.92,284.25 616.76,284.18 C616.59,284.12 616.52,284.01 616.39,283.92 C616.27,283.83 616,283.76 616.01,283.65 C616.01,283.55 616.44,283.39 616.43,283.28 C616.42,283.17 615.97,283.1 615.92,283 C615.88,282.9 616.11,282.8 616.15,282.7 C616.19,282.59 616.1,282.47 616.16,282.38 C616.23,282.28 616.42,282.21 616.53,282.12 C616.64,282.03 616.65,281.9 616.81,281.84 C616.98,281.78 617.33,281.82 617.51,281.78 C617.69,281.73 617.77,281.66 617.88,281.56 C618,281.46 618.06,281.26 618.22,281.19 C618.39,281.13 618.66,281.16 618.87,281.18 C619.09,281.19 619.3,281.26 619.5,281.28 C619.7,281.3 619.89,281.28 620.09,281.29 C620.29,281.29 620.5,281.29 620.69,281.32 C620.88,281.35 621.05,281.41 621.25,281.44 C621.44,281.48 621.7,281.49 621.86,281.55 C622.02,281.62 622.13,281.73 622.21,281.83 C622.29,281.93 622.29,282.05 622.36,282.15 C622.42,282.25 622.47,282.33 622.61,282.42 C622.75,282.5 623.15,282.57 623.22,282.66 C623.29,282.76 623.06,282.89 623.02,283 Z" stroke="none" stroke-width="1" fill="#cacaca" />
<path d="M651.27,298.8 C651.19,299.13 651.02,299.44 650.95,299.77 C650.89,300.1 650.93,300.44 650.87,300.78 C650.81,301.13 650.77,301.51 650.6,301.84 C650.42,302.17 650.12,302.49 649.81,302.78 C649.49,303.06 649.12,303.35 648.7,303.57 C648.29,303.79 647.83,304.04 647.3,304.11 C646.77,304.18 646.05,303.92 645.53,303.98 C645.01,304.04 644.67,304.36 644.2,304.47 C643.73,304.59 643.2,304.7 642.7,304.68 C642.2,304.67 641.71,304.48 641.22,304.39 C640.74,304.3 640.31,304.18 639.8,304.12 C639.29,304.06 638.62,304.18 638.16,304.04 C637.7,303.9 637.44,303.52 637.04,303.3 C636.63,303.08 636.12,302.94 635.72,302.71 C635.31,302.47 634.84,302.23 634.61,301.91 C634.38,301.6 634.27,301.2 634.36,300.82 C634.45,300.45 635.17,300.02 635.17,299.69 C635.17,299.35 634.58,299.12 634.36,298.8 C634.13,298.48 633.86,298.1 633.84,297.76 C633.83,297.42 634.1,297.08 634.27,296.76 C634.44,296.43 634.62,296.09 634.87,295.79 C635.12,295.48 635.45,295.2 635.79,294.93 C636.12,294.66 636.47,294.39 636.87,294.17 C637.27,293.95 637.74,293.78 638.19,293.59 C638.64,293.41 639.05,293.1 639.56,293.06 C640.08,293.02 640.73,293.25 641.26,293.34 C641.78,293.44 642.21,293.62 642.7,293.6 C643.19,293.59 643.64,293.34 644.17,293.25 C644.69,293.15 645.37,292.94 645.85,293.02 C646.33,293.11 646.59,293.6 647.05,293.78 C647.52,293.95 648.25,293.87 648.64,294.08 C649.02,294.3 649.1,294.77 649.36,295.08 C649.61,295.38 649.94,295.63 650.17,295.92 C650.4,296.22 650.55,296.54 650.76,296.84 C650.97,297.15 651.37,297.45 651.45,297.77 C651.54,298.1 651.35,298.47 651.27,298.8 Z" stroke="none" stroke-width="1" fill="#1ba59c" />
<path d="M652.46,288.1 C652.66,288.51 652.8,289 652.67,289.4 C652.54,289.81 651.91,290.13 651.69,290.53 C651.47,290.93 651.55,291.4 651.37,291.82 C651.19,292.24 650.98,292.71 650.61,293.05 C650.25,293.4 649.62,293.59 649.16,293.89 C648.69,294.19 648.37,294.67 647.83,294.87 C647.3,295.06 646.57,295.1 645.93,295.07 C645.29,295.05 644.61,294.75 644.02,294.72 C643.43,294.68 642.96,294.77 642.4,294.84 C641.84,294.92 641.26,295.11 640.67,295.15 C640.08,295.2 639.46,295.17 638.85,295.11 C638.25,295.04 637.55,295 637.04,294.77 C636.53,294.55 636.29,294.03 635.79,293.76 C635.29,293.49 634.36,293.5 634.02,293.15 C633.68,292.81 634.03,292.09 633.75,291.69 C633.48,291.28 632.54,291.12 632.36,290.73 C632.19,290.33 632.59,289.77 632.7,289.33 C632.8,288.89 632.93,288.5 632.99,288.1 C633.05,287.7 633.11,287.34 633.07,286.92 C633.03,286.5 632.73,286.01 632.74,285.57 C632.76,285.13 632.97,284.7 633.17,284.27 C633.36,283.83 633.53,283.34 633.89,282.97 C634.24,282.59 634.74,282.23 635.31,282.03 C635.88,281.83 636.67,281.82 637.3,281.74 C637.92,281.67 638.53,281.68 639.09,281.56 C639.65,281.44 640.11,281.11 640.66,281.01 C641.21,280.9 641.84,280.82 642.4,280.91 C642.96,281 643.43,281.48 644.01,281.54 C644.59,281.6 645.25,281.28 645.85,281.28 C646.46,281.28 647.09,281.4 647.67,281.54 C648.24,281.69 648.83,281.9 649.32,282.17 C649.81,282.44 650.21,282.81 650.59,283.16 C650.97,283.52 651.45,283.86 651.6,284.28 C651.76,284.71 651.53,285.27 651.52,285.72 C651.5,286.16 651.36,286.55 651.52,286.94 C651.68,287.34 652.27,287.69 652.46,288.1 Z" stroke="none" stroke-width="1" fill="#b3b3b3" />
<path d="M647.17,283 C647.15,283.1 647.29,283.2 647.32,283.31 C647.35,283.42 647.4,283.54 647.32,283.64 C647.25,283.74 647.06,283.82 646.89,283.89 C646.72,283.95 646.46,283.98 646.31,284.04 C646.16,284.1 646.07,284.17 645.98,284.27 C645.89,284.38 645.93,284.61 645.78,284.67 C645.63,284.74 645.28,284.62 645.07,284.65 C644.86,284.67 644.72,284.81 644.52,284.82 C644.33,284.83 644.11,284.73 643.9,284.73 C643.69,284.72 643.48,284.8 643.29,284.78 C643.09,284.77 642.96,284.65 642.73,284.65 C642.51,284.65 642.11,284.8 641.93,284.76 C641.74,284.71 641.72,284.5 641.62,284.4 C641.51,284.29 641.42,284.21 641.3,284.12 C641.18,284.04 641.07,283.96 640.91,283.89 C640.74,283.81 640.38,283.77 640.32,283.67 C640.26,283.57 640.54,283.42 640.54,283.3 C640.54,283.19 640.34,283.1 640.33,283 C640.33,282.9 640.43,282.79 640.52,282.69 C640.62,282.6 640.85,282.54 640.91,282.44 C640.96,282.34 640.85,282.22 640.86,282.1 C640.86,281.98 640.8,281.8 640.93,281.72 C641.06,281.64 641.41,281.64 641.64,281.61 C641.87,281.59 642.15,281.65 642.32,281.59 C642.49,281.53 642.5,281.31 642.67,281.26 C642.84,281.22 643.12,281.32 643.32,281.31 C643.53,281.31 643.7,281.24 643.9,281.21 C644.1,281.17 644.34,281.11 644.54,281.13 C644.75,281.14 644.98,281.19 645.12,281.28 C645.26,281.37 645.23,281.61 645.4,281.66 C645.57,281.72 645.95,281.59 646.16,281.62 C646.37,281.64 646.5,281.74 646.65,281.81 C646.8,281.89 646.99,281.96 647.05,282.07 C647.1,282.17 646.92,282.32 646.99,282.42 C647.05,282.52 647.39,282.58 647.43,282.68 C647.46,282.78 647.19,282.9 647.17,283 Z" stroke="none" stroke-width="1" fill="#b3b3b3" />
<path d="M680.09,298.8 C680.13,299.13 680.61,299.48 680.63,299.81 C680.65,300.15 680.3,300.44 680.2,300.79 C680.09,301.13 680.3,301.61 680.01,301.88 C679.72,302.15 678.83,302.16 678.45,302.41 C678.07,302.65 678.05,303.09 677.72,303.35 C677.39,303.6 676.89,303.75 676.46,303.96 C676.04,304.16 675.67,304.55 675.17,304.6 C674.66,304.64 673.96,304.28 673.43,304.22 C672.91,304.16 672.48,304.24 672,304.24 C671.52,304.24 671.04,304.26 670.56,304.23 C670.08,304.2 669.66,304.08 669.12,304.08 C668.58,304.07 667.89,304.24 667.34,304.18 C666.78,304.13 666.17,303.98 665.79,303.73 C665.42,303.48 665.23,303.04 665.08,302.67 C664.93,302.3 665.21,301.82 664.9,301.53 C664.59,301.24 663.46,301.22 663.23,300.93 C662.99,300.64 663.5,300.16 663.48,299.8 C663.47,299.45 663.13,299.13 663.15,298.8 C663.16,298.47 663.46,298.14 663.59,297.81 C663.71,297.48 663.71,297.13 663.91,296.84 C664.12,296.54 664.75,296.42 664.83,296.04 C664.91,295.66 664.26,294.92 664.41,294.56 C664.57,294.19 665.24,293.99 665.77,293.85 C666.3,293.71 667.02,293.73 667.6,293.72 C668.18,293.71 668.78,293.89 669.26,293.77 C669.73,293.65 670.01,293.12 670.47,293 C670.92,292.88 671.49,293.07 672,293.06 C672.51,293.06 673.02,292.97 673.54,292.97 C674.07,292.96 674.67,292.92 675.14,293.05 C675.62,293.17 675.97,293.52 676.39,293.73 C676.82,293.93 677.24,294.09 677.7,294.27 C678.15,294.45 678.7,294.59 679.13,294.81 C679.55,295.04 680.13,295.28 680.25,295.63 C680.37,295.97 679.81,296.53 679.84,296.9 C679.87,297.26 680.37,297.49 680.41,297.81 C680.46,298.13 680.06,298.47 680.09,298.8 Z" stroke="none" stroke-width="1" fill="#1ba59c" />
<path d="M680.79,288.1 C680.93,288.52 681.93,288.99 682.04,289.41 C682.16,289.84 681.74,290.27 681.46,290.65 C681.18,291.03 680.66,291.33 680.34,291.68 C680.01,292.04 679.75,292.38 679.5,292.8 C679.24,293.22 679.27,293.93 678.82,294.2 C678.37,294.47 677.37,294.26 676.79,294.43 C676.2,294.6 675.86,295.1 675.3,295.2 C674.73,295.31 674,295.13 673.4,295.05 C672.8,294.96 672.26,294.71 671.7,294.69 C671.14,294.68 670.62,294.87 670.02,294.95 C669.42,295.03 668.74,295.2 668.12,295.17 C667.5,295.15 666.81,295.05 666.3,294.82 C665.8,294.58 665.56,294.06 665.08,293.77 C664.59,293.49 663.76,293.44 663.4,293.11 C663.03,292.77 663.08,292.18 662.89,291.76 C662.69,291.34 662.39,290.98 662.23,290.58 C662.06,290.18 661.97,289.76 661.87,289.35 C661.78,288.93 661.49,288.49 661.66,288.1 C661.83,287.71 662.74,287.38 662.89,286.98 C663.05,286.59 662.64,286.17 662.57,285.71 C662.49,285.26 662.3,284.69 662.44,284.26 C662.58,283.82 662.99,283.43 663.39,283.09 C663.78,282.75 664.33,282.49 664.83,282.21 C665.32,281.94 665.77,281.58 666.36,281.45 C666.94,281.32 667.71,281.44 668.33,281.44 C668.94,281.43 669.5,281.53 670.06,281.43 C670.63,281.34 671.13,280.96 671.7,280.87 C672.27,280.77 672.93,280.75 673.47,280.87 C674.02,281 674.42,281.48 674.98,281.61 C675.55,281.75 676.25,281.58 676.87,281.66 C677.49,281.75 678.16,281.88 678.69,282.11 C679.23,282.34 679.7,282.69 680.06,283.06 C680.42,283.43 680.64,283.89 680.83,284.31 C681.01,284.74 681.11,285.19 681.17,285.62 C681.23,286.05 681.25,286.49 681.19,286.9 C681.12,287.31 680.64,287.68 680.79,288.1 Z" stroke="none" stroke-width="1" fill="#b3b3b3" />
<path d="M676.56,283 C676.57,283.1 676.54,283.2 676.55,283.3 C676.56,283.41 676.66,283.54 676.64,283.64 C676.61,283.75 676.52,283.86 676.38,283.95 C676.25,284.03 676,284.07 675.85,284.14 C675.71,284.22 675.69,284.37 675.51,284.41 C675.33,284.46 674.95,284.34 674.77,284.4 C674.6,284.46 674.61,284.69 674.46,284.77 C674.3,284.86 674.06,284.88 673.85,284.89 C673.64,284.9 673.4,284.88 673.2,284.84 C673,284.81 672.83,284.7 672.63,284.67 C672.43,284.65 672.19,284.72 672,284.69 C671.81,284.67 671.68,284.57 671.49,284.52 C671.31,284.47 671.08,284.46 670.91,284.4 C670.74,284.34 670.59,284.26 670.48,284.18 C670.36,284.09 670.25,283.99 670.22,283.88 C670.2,283.78 670.41,283.63 670.32,283.54 C670.23,283.45 669.84,283.41 669.69,283.32 C669.53,283.23 669.35,283.1 669.38,283 C669.41,282.9 669.76,282.8 669.87,282.7 C669.97,282.6 669.91,282.49 670,282.4 C670.08,282.31 670.28,282.25 670.36,282.16 C670.45,282.06 670.4,281.92 670.51,281.84 C670.61,281.75 670.85,281.73 670.99,281.65 C671.13,281.56 671.16,281.39 671.34,281.34 C671.51,281.29 671.83,281.37 672.04,281.36 C672.26,281.36 672.44,281.36 672.63,281.33 C672.82,281.31 672.99,281.25 673.2,281.21 C673.41,281.17 673.66,281.06 673.86,281.08 C674.05,281.1 674.19,281.28 674.37,281.34 C674.56,281.4 674.83,281.35 674.98,281.41 C675.13,281.48 675.16,281.64 675.28,281.72 C675.41,281.81 675.56,281.85 675.71,281.92 C675.87,281.98 676.05,282.03 676.21,282.11 C676.38,282.18 676.67,282.24 676.72,282.34 C676.76,282.44 676.52,282.59 676.49,282.7 C676.46,282.81 676.55,282.9 676.56,283 Z" stroke="none" stroke-width="1" fill="#b3b3b3" />
<path d="M531.5,302.7 C538,303 543,302.6 546.5,301.8 M562.5,299.8 C568,298 575,297.5 581,297.8 M598,299 C602,299.8 606,300 685,299.8" stroke="#3a3333" stroke-width="1.2" fill="none" />
<path d="M563,305.2 L576,301.4 L576.6,303.6 Z" stroke="none" stroke-width="1" fill="#8e8e8e" />
<path d="M596,305.2 L609,301.4 L609.6,303.6 Z" stroke="none" stroke-width="1" fill="#8e8e8e" />
<path d="M620,305.2 L633,301.4 L633.6,303.6 Z" stroke="none" stroke-width="1" fill="#8e8e8e" />
<rect x="546" y="296.6" width="17.2" height="5" fill="#fff" stroke="#555" stroke-width="0.45" fill-opacity="0.9"/>
<text x="554.6" y="300.85" font-size="5.4" fill="#333" stroke="#333" stroke-width="0.06" text-anchor="middle" font-weight="bold" letter-spacing="0.05">START</text>
<rect x="663.9" y="297.9" width="16.2" height="5.2" fill="#fff" stroke="#555" stroke-width="0.45" fill-opacity="0.9"/>
<text x="672" y="302.35" font-size="5.4" fill="#333" stroke="#333" stroke-width="0.06" text-anchor="middle" font-weight="bold" letter-spacing="0.05">STOP</text>
<path d="M563.5,282 l1.5,2 M565,281.7 l1.6,2.1" stroke="#444" stroke-width="0.7" fill="none" />
<path d="M544,305.5 l1.5,2 M545.5,305.2 l1.6,2.1" stroke="#444" stroke-width="0.7" fill="none" />
<path d="M680.5,282 l1.5,2 M682,281.7 l1.6,2.1" stroke="#444" stroke-width="0.7" fill="none" />
<path d="M660,306 l1.5,2 M661.5,305.7 l1.6,2.1" stroke="#444" stroke-width="0.7" fill="none" />
<text x="0" y="360.2" font-size="13.2" fill="#1a1617" stroke="#1a1617" stroke-width="0.22" font-weight="bold">F</text>
<text x="157.5" y="378.5" font-size="10" fill="#231f20" stroke="#231f20" stroke-width="0.22" font-style="italic">RET2</text>
<text x="159.7" y="485.1" font-size="10" fill="#231f20" stroke="#231f20" stroke-width="0.22" font-style="italic">HPT1</text>
<text transform="translate(8.9,420.3) rotate(-90)" font-size="10" fill="#231f20" stroke="#231f20" stroke-width="0.22" text-anchor="middle">RPM</text>
<text transform="translate(8.9,526) rotate(-90)" font-size="10" fill="#231f20" stroke="#231f20" stroke-width="0.22" text-anchor="middle">RPM</text>
<line x1="35.7" y1="389.2" x2="35.7" y2="446.4" stroke="#34292a" stroke-width="1.3" />
<line x1="32.5" y1="389.2" x2="35.7" y2="389.2" stroke="#34292a" stroke-width="1.3" />
<text x="27.5" y="392.2" font-size="8.6" fill="#231f20" stroke="#231f20" stroke-width="0.06" text-anchor="end">2.0</text>
<line x1="32.5" y1="403.5" x2="35.7" y2="403.5" stroke="#34292a" stroke-width="1.3" />
<text x="27.5" y="406.5" font-size="8.6" fill="#231f20" stroke="#231f20" stroke-width="0.06" text-anchor="end">1.5</text>
<line x1="32.5" y1="417.8" x2="35.7" y2="417.8" stroke="#34292a" stroke-width="1.3" />
<text x="27.5" y="420.8" font-size="8.6" fill="#231f20" stroke="#231f20" stroke-width="0.06" text-anchor="end">1.0</text>
<line x1="32.5" y1="432.1" x2="35.7" y2="432.1" stroke="#34292a" stroke-width="1.3" />
<text x="27.5" y="435.1" font-size="8.6" fill="#231f20" stroke="#231f20" stroke-width="0.06" text-anchor="end">0.5</text>
<line x1="32.5" y1="446.4" x2="35.7" y2="446.4" stroke="#34292a" stroke-width="1.3" />
<text x="27.5" y="449.4" font-size="8.6" fill="#231f20" stroke="#231f20" stroke-width="0.06" text-anchor="end">0.0</text>
<line x1="40.3" y1="388.2" x2="40.3" y2="446.4" stroke="#bbb" stroke-width="0.6" stroke-dasharray="1,1"/>
<line x1="155.6" y1="388.2" x2="155.6" y2="446.4" stroke="#bbb" stroke-width="0.6" stroke-dasharray="1,1"/>
<path d="M40.3,446.4h1.3v-23.74h-1.3ZM41.55,446.4h1.3v-12.87h-1.3ZM42.81,446.4h1.3v-13.16h-1.3ZM44.06,446.4h1.3v-7.07h-1.3ZM45.31,446.4h1.3v-3.09h-1.3ZM46.57,446.4h1.3v-8.98h-1.3ZM49.07,446.4h1.3v-5.24h-1.3ZM50.33,446.4h1.3v-10.01h-1.3ZM51.58,446.4h1.3v-9.71h-1.3ZM54.09,446.4h1.3v-10.15h-1.3ZM55.34,446.4h1.3v-3.67h-1.3ZM56.59,446.4h1.3v-11.44h-1.3ZM57.85,446.4h1.3v-5.18h-1.3ZM59.1,446.4h1.3v-3.76h-1.3ZM60.35,446.4h1.3v-3.68h-1.3ZM61.61,446.4h1.3v-4.11h-1.3ZM62.86,446.4h1.3v-9h-1.3ZM64.11,446.4h1.3v-6.98h-1.3ZM65.37,446.4h1.3v-8.58h-1.3ZM66.62,446.4h1.3v-3.2h-1.3ZM67.87,446.4h1.3v-7.77h-1.3ZM69.12,446.4h1.3v-10.12h-1.3ZM70.38,446.4h1.3v-8.92h-1.3ZM71.63,446.4h1.3v-4.2h-1.3ZM72.88,446.4h1.3v-9.5h-1.3ZM74.14,446.4h1.3v-5.74h-1.3ZM76.64,446.4h1.3v-8.56h-1.3ZM77.9,446.4h1.3v-3.44h-1.3ZM79.15,446.4h1.3v-7.58h-1.3ZM80.4,446.4h1.3v-4.7h-1.3ZM81.66,446.4h1.3v-5.76h-1.3ZM82.91,446.4h1.3v-5.87h-1.3ZM84.16,446.4h1.3v-10.01h-1.3ZM85.42,446.4h1.3v-2.93h-1.3ZM86.67,446.4h1.3v-10.67h-1.3ZM87.92,446.4h1.3v-4.84h-1.3ZM89.18,446.4h1.3v-5.71h-1.3ZM90.43,446.4h1.3v-8.28h-1.3ZM91.68,446.4h1.3v-9.25h-1.3ZM92.94,446.4h1.3v-11.44h-1.3ZM94.19,446.4h1.3v-6.38h-1.3ZM95.44,446.4h1.3v-3.98h-1.3ZM97.95,446.4h1.3v-8.42h-1.3ZM99.2,446.4h1.3v-9.54h-1.3ZM100.46,446.4h1.3v-8.69h-1.3ZM101.71,446.4h1.3v-6.23h-1.3ZM102.96,446.4h1.3v-2.97h-1.3ZM104.22,446.4h1.3v-6.31h-1.3ZM105.47,446.4h1.3v-5.73h-1.3ZM106.72,446.4h1.3v-4.57h-1.3ZM107.98,446.4h1.3v-6.02h-1.3ZM109.23,446.4h1.3v-6.7h-1.3ZM110.48,446.4h1.3v-2.9h-1.3ZM111.74,446.4h1.3v-3.46h-1.3ZM112.99,446.4h1.3v-9.26h-1.3ZM114.24,446.4h1.3v-8.56h-1.3ZM119.26,446.4h1.3v-8.12h-1.3ZM120.51,446.4h1.3v-3.15h-1.3ZM121.76,446.4h1.3v-4.48h-1.3ZM123.02,446.4h1.3v-15.73h-1.3ZM124.27,446.4h1.3v-3.41h-1.3ZM125.52,446.4h1.3v-7.67h-1.3ZM126.78,446.4h1.3v-4.32h-1.3ZM128.03,446.4h1.3v-2.89h-1.3ZM129.28,446.4h1.3v-5.05h-1.3ZM130.53,446.4h1.3v-8.58h-1.3ZM131.79,446.4h1.3v-5.78h-1.3ZM133.04,446.4h1.3v-6.63h-1.3ZM135.55,446.4h1.3v-3.31h-1.3ZM136.8,446.4h1.3v-3.37h-1.3ZM138.05,446.4h1.3v-7.33h-1.3ZM139.31,446.4h1.3v-3.69h-1.3ZM140.56,446.4h1.3v-14.3h-1.3ZM141.81,446.4h1.3v-3.7h-1.3ZM143.07,446.4h1.3v-4.85h-1.3ZM144.32,446.4h1.3v-16.59h-1.3ZM145.57,446.4h1.3v-2.97h-1.3ZM146.83,446.4h1.3v-10.49h-1.3ZM148.08,446.4h1.3v-4.22h-1.3ZM149.33,446.4h1.3v-4.24h-1.3ZM150.59,446.4h1.3v-15.73h-1.3ZM151.84,446.4h1.3v-21.45h-1.3ZM153.09,446.4h1.3v-15.73h-1.3ZM154.35,446.4h1.3v-35.75h-1.3Z" stroke="none" stroke-width="1" fill="#8f8f8f" />
<text x="46.3" y="396.6" font-size="10" fill="#231f20" stroke="#231f20" stroke-width="0.22" font-style="italic">18S: WT</text>
<text x="38.7" y="458.9" font-size="10" fill="#231f20" stroke="#231f20" stroke-width="0.22" text-anchor="middle">Start</text>
<text x="155.4" y="458.9" font-size="10" fill="#231f20" stroke="#231f20" stroke-width="0.22" text-anchor="middle">Stop</text>
<line x1="191.2" y1="389.2" x2="191.2" y2="446.4" stroke="#34292a" stroke-width="1.3" />
<line x1="188" y1="389.2" x2="191.2" y2="389.2" stroke="#34292a" stroke-width="1.3" />
<text x="183" y="392.2" font-size="8.6" fill="#231f20" stroke="#231f20" stroke-width="0.06" text-anchor="end">2.0</text>
<line x1="188" y1="403.5" x2="191.2" y2="403.5" stroke="#34292a" stroke-width="1.3" />
<text x="183" y="406.5" font-size="8.6" fill="#231f20" stroke="#231f20" stroke-width="0.06" text-anchor="end">1.5</text>
<line x1="188" y1="417.8" x2="191.2" y2="417.8" stroke="#34292a" stroke-width="1.3" />
<text x="183" y="420.8" font-size="8.6" fill="#231f20" stroke="#231f20" stroke-width="0.06" text-anchor="end">1.0</text>
<line x1="188" y1="432.1" x2="191.2" y2="432.1" stroke="#34292a" stroke-width="1.3" />
<text x="183" y="435.1" font-size="8.6" fill="#231f20" stroke="#231f20" stroke-width="0.06" text-anchor="end">0.5</text>
<line x1="188" y1="446.4" x2="191.2" y2="446.4" stroke="#34292a" stroke-width="1.3" />
<text x="183" y="449.4" font-size="8.6" fill="#231f20" stroke="#231f20" stroke-width="0.06" text-anchor="end">0.0</text>
<line x1="196.2" y1="388.2" x2="196.2" y2="446.4" stroke="#bbb" stroke-width="0.6" stroke-dasharray="1,1"/>
<line x1="311.2" y1="388.2" x2="311.2" y2="446.4" stroke="#bbb" stroke-width="0.6" stroke-dasharray="1,1"/>
<path d="M196.2,446.4h1.3v-8.58h-1.3ZM197.45,446.4h1.3v-8.58h-1.3ZM198.7,446.4h1.3v-8.58h-1.3ZM199.95,446.4h1.3v-24.31h-1.3ZM201.2,446.4h1.3v-15.73h-1.3ZM202.45,446.4h1.3v-6.66h-1.3ZM203.7,446.4h1.3v-12.87h-1.3ZM204.95,446.4h1.3v-8.13h-1.3ZM206.2,446.4h1.3v-10.01h-1.3ZM207.45,446.4h1.3v-5.41h-1.3ZM208.7,446.4h1.3v-2.92h-1.3ZM209.95,446.4h1.3v-8.58h-1.3ZM211.2,446.4h1.3v-8.58h-1.3ZM214.95,446.4h1.3v-4.45h-1.3ZM216.2,446.4h1.3v-5.99h-1.3ZM217.45,446.4h1.3v-7.61h-1.3ZM218.7,446.4h1.3v-15.73h-1.3ZM219.95,446.4h1.3v-8.26h-1.3ZM221.2,446.4h1.3v-8.58h-1.3ZM222.45,446.4h1.3v-4.67h-1.3ZM223.7,446.4h1.3v-10.95h-1.3ZM224.95,446.4h1.3v-8.48h-1.3ZM226.2,446.4h1.3v-5.55h-1.3ZM227.45,446.4h1.3v-5.8h-1.3ZM228.7,446.4h1.3v-15.73h-1.3ZM229.95,446.4h1.3v-4.67h-1.3ZM231.2,446.4h1.3v-14.3h-1.3ZM232.45,446.4h1.3v-6.53h-1.3ZM233.7,446.4h1.3v-8.14h-1.3ZM234.95,446.4h1.3v-3.76h-1.3ZM236.2,446.4h1.3v-7.88h-1.3ZM237.45,446.4h1.3v-10.28h-1.3ZM238.7,446.4h1.3v-10.33h-1.3ZM239.95,446.4h1.3v-20.02h-1.3ZM241.2,446.4h1.3v-5.93h-1.3ZM242.45,446.4h1.3v-7.37h-1.3ZM243.7,446.4h1.3v-17.16h-1.3ZM244.95,446.4h1.3v-6h-1.3ZM247.45,446.4h1.3v-9.24h-1.3ZM248.7,446.4h1.3v-10.28h-1.3ZM249.95,446.4h1.3v-8.37h-1.3ZM251.2,446.4h1.3v-12.58h-1.3ZM252.45,446.4h1.3v-3.79h-1.3ZM253.7,446.4h1.3v-3.16h-1.3ZM254.95,446.4h1.3v-9.63h-1.3ZM256.2,446.4h1.3v-12.87h-1.3ZM257.45,446.4h1.3v-5.22h-1.3ZM258.7,446.4h1.3v-2.91h-1.3ZM259.95,446.4h1.3v-3.47h-1.3ZM261.2,446.4h1.3v-13.73h-1.3ZM262.45,446.4h1.3v-2.89h-1.3ZM263.7,446.4h1.3v-2.89h-1.3ZM264.95,446.4h1.3v-9.15h-1.3ZM266.2,446.4h1.3v-3.54h-1.3ZM267.45,446.4h1.3v-4.91h-1.3ZM268.7,446.4h1.3v-11.31h-1.3ZM269.95,446.4h1.3v-12.3h-1.3ZM271.2,446.4h1.3v-7h-1.3ZM272.45,446.4h1.3v-3.19h-1.3ZM273.7,446.4h1.3v-2.91h-1.3ZM274.95,446.4h1.3v-14.3h-1.3ZM276.2,446.4h1.3v-10.21h-1.3ZM277.45,446.4h1.3v-9.73h-1.3ZM278.7,446.4h1.3v-5.65h-1.3ZM279.95,446.4h1.3v-7.47h-1.3ZM281.2,446.4h1.3v-3.14h-1.3ZM282.45,446.4h1.3v-9.88h-1.3ZM283.7,446.4h1.3v-6.7h-1.3ZM284.95,446.4h1.3v-6.03h-1.3ZM286.2,446.4h1.3v-15.73h-1.3ZM287.45,446.4h1.3v-6.91h-1.3ZM288.7,446.4h1.3v-2.88h-1.3ZM289.95,446.4h1.3v-3.31h-1.3ZM291.2,446.4h1.3v-12.87h-1.3ZM292.45,446.4h1.3v-3.11h-1.3ZM293.7,446.4h1.3v-5.97h-1.3ZM294.95,446.4h1.3v-10.61h-1.3ZM296.2,446.4h1.3v-3.82h-1.3ZM297.45,446.4h1.3v-14.3h-1.3ZM298.7,446.4h1.3v-7.09h-1.3ZM299.95,446.4h1.3v-7.99h-1.3ZM301.2,446.4h1.3v-18.02h-1.3ZM302.45,446.4h1.3v-2.86h-1.3ZM303.7,446.4h1.3v-5.1h-1.3ZM304.95,446.4h1.3v-8.14h-1.3ZM306.2,446.4h1.3v-12.87h-1.3ZM307.45,446.4h1.3v-3.82h-1.3ZM308.7,446.4h1.3v-6.08h-1.3ZM309.95,446.4h1.3v-14.3h-1.3Z" stroke="none" stroke-width="1" fill="#1ba59c" />
<text x="202.2" y="400.6" font-size="10" fill="#1ba59c" stroke="#1ba59c" stroke-width="0.22" font-style="italic">18S: GA/AG</text>
<text x="194.6" y="458.9" font-size="10" fill="#231f20" stroke="#231f20" stroke-width="0.22" text-anchor="middle">Start</text>
<text x="311" y="458.9" font-size="10" fill="#231f20" stroke="#231f20" stroke-width="0.22" text-anchor="middle">Stop</text>
<line x1="37.2" y1="495.1" x2="37.2" y2="552.3" stroke="#34292a" stroke-width="1.3" />
<line x1="34" y1="495.1" x2="37.2" y2="495.1" stroke="#34292a" stroke-width="1.3" />
<text x="29" y="498.1" font-size="8.6" fill="#231f20" stroke="#231f20" stroke-width="0.06" text-anchor="end">2.0</text>
<line x1="34" y1="509.4" x2="37.2" y2="509.4" stroke="#34292a" stroke-width="1.3" />
<text x="29" y="512.4" font-size="8.6" fill="#231f20" stroke="#231f20" stroke-width="0.06" text-anchor="end">1.5</text>
<line x1="34" y1="523.7" x2="37.2" y2="523.7" stroke="#34292a" stroke-width="1.3" />
<text x="29" y="526.7" font-size="8.6" fill="#231f20" stroke="#231f20" stroke-width="0.06" text-anchor="end">1.0</text>
<line x1="34" y1="538" x2="37.2" y2="538" stroke="#34292a" stroke-width="1.3" />
<text x="29" y="541" font-size="8.6" fill="#231f20" stroke="#231f20" stroke-width="0.06" text-anchor="end">0.5</text>
<line x1="34" y1="552.3" x2="37.2" y2="552.3" stroke="#34292a" stroke-width="1.3" />
<text x="29" y="555.3" font-size="8.6" fill="#231f20" stroke="#231f20" stroke-width="0.06" text-anchor="end">0.0</text>
<line x1="41" y1="494.1" x2="41" y2="552.3" stroke="#bbb" stroke-width="0.6" stroke-dasharray="1,1"/>
<line x1="156.8" y1="494.1" x2="156.8" y2="552.3" stroke="#bbb" stroke-width="0.6" stroke-dasharray="1,1"/>
<path d="M41,552.3h1.31v-24.31h-1.31ZM42.26,552.3h1.31v-10.01h-1.31ZM43.52,552.3h1.31v-4.29h-1.31ZM47.29,552.3h1.31v-9.68h-1.31ZM48.55,552.3h1.31v-7.98h-1.31ZM49.81,552.3h1.31v-6.09h-1.31ZM51.07,552.3h1.31v-6.05h-1.31ZM52.33,552.3h1.31v-5.1h-1.31ZM53.59,552.3h1.31v-17.16h-1.31ZM54.85,552.3h1.31v-32.89h-1.31ZM56.1,552.3h1.31v-11.44h-1.31ZM57.36,552.3h1.31v-8.28h-1.31ZM58.62,552.3h1.31v-6.82h-1.31ZM59.88,552.3h1.31v-6.78h-1.31ZM61.14,552.3h1.31v-4.13h-1.31ZM62.4,552.3h1.31v-4.49h-1.31ZM63.66,552.3h1.31v-10.01h-1.31ZM64.92,552.3h1.31v-2.66h-1.31ZM66.17,552.3h1.31v-9.34h-1.31ZM67.43,552.3h1.31v-5.98h-1.31ZM68.69,552.3h1.31v-4.97h-1.31ZM69.95,552.3h1.31v-3.83h-1.31ZM71.21,552.3h1.31v-5.61h-1.31ZM72.47,552.3h1.31v-8.58h-1.31ZM73.73,552.3h1.31v-8.18h-1.31ZM74.98,552.3h1.31v-6.38h-1.31ZM76.24,552.3h1.31v-8.23h-1.31ZM77.5,552.3h1.31v-8.69h-1.31ZM78.76,552.3h1.31v-6.77h-1.31ZM80.02,552.3h1.31v-7.93h-1.31ZM81.28,552.3h1.31v-3.42h-1.31ZM82.54,552.3h1.31v-8.16h-1.31ZM83.8,552.3h1.31v-2.48h-1.31ZM85.05,552.3h1.31v-4.24h-1.31ZM86.31,552.3h1.31v-3.47h-1.31ZM87.57,552.3h1.31v-8.35h-1.31ZM88.83,552.3h1.31v-5.87h-1.31ZM90.09,552.3h1.31v-6.82h-1.31ZM91.35,552.3h1.31v-8.44h-1.31ZM92.61,552.3h1.31v-4.96h-1.31ZM93.87,552.3h1.31v-3.57h-1.31ZM95.12,552.3h1.31v-5.74h-1.31ZM96.38,552.3h1.31v-2.94h-1.31ZM97.64,552.3h1.31v-8.58h-1.31ZM101.42,552.3h1.31v-8.6h-1.31ZM102.68,552.3h1.31v-4.61h-1.31ZM103.93,552.3h1.31v-6.13h-1.31ZM105.19,552.3h1.31v-5.4h-1.31ZM106.45,552.3h1.31v-9.07h-1.31ZM107.71,552.3h1.31v-12.87h-1.31ZM108.97,552.3h1.31v-3.15h-1.31ZM110.23,552.3h1.31v-5.72h-1.31ZM112.75,552.3h1.31v-4.28h-1.31ZM117.78,552.3h1.31v-6.45h-1.31ZM119.04,552.3h1.31v-6.71h-1.31ZM120.3,552.3h1.31v-2.31h-1.31ZM121.56,552.3h1.31v-6.42h-1.31ZM122.82,552.3h1.31v-3.22h-1.31ZM124.07,552.3h1.31v-5.68h-1.31ZM125.33,552.3h1.31v-3.92h-1.31ZM126.59,552.3h1.31v-3.96h-1.31ZM127.85,552.3h1.31v-3.51h-1.31ZM129.11,552.3h1.31v-7.33h-1.31ZM130.37,552.3h1.31v-5.48h-1.31ZM131.63,552.3h1.31v-3.57h-1.31ZM132.88,552.3h1.31v-7.65h-1.31ZM134.14,552.3h1.31v-2.89h-1.31ZM135.4,552.3h1.31v-6.62h-1.31ZM136.66,552.3h1.31v-3.65h-1.31ZM137.92,552.3h1.31v-7.95h-1.31ZM139.18,552.3h1.31v-8.17h-1.31ZM140.44,552.3h1.31v-3.74h-1.31ZM141.7,552.3h1.31v-18.59h-1.31ZM142.95,552.3h1.31v-3.08h-1.31ZM144.21,552.3h1.31v-5.15h-1.31ZM145.47,552.3h1.31v-7.68h-1.31ZM146.73,552.3h1.31v-10.01h-1.31ZM147.99,552.3h1.31v-7.68h-1.31ZM149.25,552.3h1.31v-7.67h-1.31ZM150.51,552.3h1.31v-2.64h-1.31ZM151.77,552.3h1.31v-17.16h-1.31ZM153.02,552.3h1.31v-3.8h-1.31ZM154.28,552.3h1.31v-15.73h-1.31ZM155.54,552.3h1.31v-8.86h-1.31Z" stroke="none" stroke-width="1" fill="#8f8f8f" />
<text x="47" y="507.7" font-size="10" fill="#231f20" stroke="#231f20" stroke-width="0.22" font-style="italic">18S: WT</text>
<text x="39.4" y="564.8" font-size="10" fill="#231f20" stroke="#231f20" stroke-width="0.22" text-anchor="middle">Start</text>
<text x="156.6" y="564.8" font-size="10" fill="#231f20" stroke="#231f20" stroke-width="0.22" text-anchor="middle">Stop</text>
<line x1="192.7" y1="495.6" x2="192.7" y2="552.8" stroke="#34292a" stroke-width="1.3" />
<line x1="189.5" y1="495.6" x2="192.7" y2="495.6" stroke="#34292a" stroke-width="1.3" />
<text x="184.5" y="498.6" font-size="8.6" fill="#231f20" stroke="#231f20" stroke-width="0.06" text-anchor="end">2.0</text>
<line x1="189.5" y1="509.9" x2="192.7" y2="509.9" stroke="#34292a" stroke-width="1.3" />
<text x="184.5" y="512.9" font-size="8.6" fill="#231f20" stroke="#231f20" stroke-width="0.06" text-anchor="end">1.5</text>
<line x1="189.5" y1="524.2" x2="192.7" y2="524.2" stroke="#34292a" stroke-width="1.3" />
<text x="184.5" y="527.2" font-size="8.6" fill="#231f20" stroke="#231f20" stroke-width="0.06" text-anchor="end">1.0</text>
<line x1="189.5" y1="538.5" x2="192.7" y2="538.5" stroke="#34292a" stroke-width="1.3" />
<text x="184.5" y="541.5" font-size="8.6" fill="#231f20" stroke="#231f20" stroke-width="0.06" text-anchor="end">0.5</text>
<line x1="189.5" y1="552.8" x2="192.7" y2="552.8" stroke="#34292a" stroke-width="1.3" />
<text x="184.5" y="555.8" font-size="8.6" fill="#231f20" stroke="#231f20" stroke-width="0.06" text-anchor="end">0.0</text>
<line x1="196.9" y1="494.6" x2="196.9" y2="552.8" stroke="#bbb" stroke-width="0.6" stroke-dasharray="1,1"/>
<line x1="312.5" y1="494.6" x2="312.5" y2="552.8" stroke="#bbb" stroke-width="0.6" stroke-dasharray="1,1"/>
<path d="M196.9,552.8h1.31v-7.15h-1.31ZM198.16,552.8h1.31v-6.29h-1.31ZM199.41,552.8h1.31v-2.43h-1.31ZM200.67,552.8h1.31v-9.33h-1.31ZM201.93,552.8h1.31v-7.65h-1.31ZM203.18,552.8h1.31v-5.44h-1.31ZM204.44,552.8h1.31v-2.86h-1.31ZM205.7,552.8h1.31v-3.08h-1.31ZM206.95,552.8h1.31v-8.33h-1.31ZM208.21,552.8h1.31v-8.02h-1.31ZM209.47,552.8h1.31v-17.16h-1.31ZM210.72,552.8h1.31v-7.3h-1.31ZM211.98,552.8h1.31v-8.9h-1.31ZM213.23,552.8h1.31v-6.06h-1.31ZM214.49,552.8h1.31v-16.59h-1.31ZM215.75,552.8h1.31v-4.9h-1.31ZM217,552.8h1.31v-9.52h-1.31ZM218.26,552.8h1.31v-5.53h-1.31ZM219.52,552.8h1.31v-9.23h-1.31ZM220.77,552.8h1.31v-8.92h-1.31ZM222.03,552.8h1.31v-5.19h-1.31ZM223.29,552.8h1.31v-6h-1.31ZM224.54,552.8h1.31v-22.31h-1.31ZM225.8,552.8h1.31v-15.73h-1.31ZM227.06,552.8h1.31v-12.87h-1.31ZM228.31,552.8h1.31v-3.48h-1.31ZM229.57,552.8h1.31v-4.88h-1.31ZM230.83,552.8h1.31v-10.26h-1.31ZM234.6,552.8h1.31v-3.99h-1.31ZM235.85,552.8h1.31v-3.74h-1.31ZM237.11,552.8h1.31v-9.17h-1.31ZM238.37,552.8h1.31v-2.41h-1.31ZM239.62,552.8h1.31v-7.65h-1.31ZM242.13,552.8h1.31v-2.89h-1.31ZM243.39,552.8h1.31v-2.36h-1.31ZM248.42,552.8h1.31v-9.89h-1.31ZM249.67,552.8h1.31v-4.39h-1.31ZM250.93,552.8h1.31v-6.2h-1.31ZM252.19,552.8h1.31v-15.73h-1.31ZM253.44,552.8h1.31v-4.66h-1.31ZM254.7,552.8h1.31v-4.18h-1.31ZM257.21,552.8h1.31v-17.73h-1.31ZM258.47,552.8h1.31v-7.84h-1.31ZM259.73,552.8h1.31v-22.88h-1.31ZM260.98,552.8h1.31v-27.17h-1.31ZM262.24,552.8h1.31v-21.45h-1.31ZM263.5,552.8h1.31v-17.16h-1.31ZM264.75,552.8h1.31v-6.75h-1.31ZM266.01,552.8h1.31v-2.35h-1.31ZM267.27,552.8h1.31v-3.28h-1.31ZM268.52,552.8h1.31v-2.63h-1.31ZM269.78,552.8h1.31v-7.74h-1.31ZM271.03,552.8h1.31v-10.15h-1.31ZM272.29,552.8h1.31v-3.24h-1.31ZM273.55,552.8h1.31v-2.34h-1.31ZM274.8,552.8h1.31v-3.28h-1.31ZM276.06,552.8h1.31v-8.35h-1.31ZM277.32,552.8h1.31v-14.87h-1.31ZM278.57,552.8h1.31v-3.24h-1.31ZM279.83,552.8h1.31v-3.18h-1.31ZM281.09,552.8h1.31v-2.72h-1.31ZM282.34,552.8h1.31v-9.45h-1.31ZM283.6,552.8h1.31v-10.18h-1.31ZM284.86,552.8h1.31v-20.02h-1.31ZM286.11,552.8h1.31v-21.45h-1.31ZM287.37,552.8h1.31v-5.07h-1.31ZM288.63,552.8h1.31v-3.06h-1.31ZM289.88,552.8h1.31v-9.12h-1.31ZM291.14,552.8h1.31v-3.85h-1.31ZM292.4,552.8h1.31v-14.87h-1.31ZM293.65,552.8h1.31v-8.18h-1.31ZM294.91,552.8h1.31v-6.53h-1.31ZM296.17,552.8h1.31v-3.4h-1.31ZM297.42,552.8h1.31v-9.78h-1.31ZM298.68,552.8h1.31v-9.95h-1.31ZM299.93,552.8h1.31v-6.66h-1.31ZM301.19,552.8h1.31v-9.11h-1.31ZM302.45,552.8h1.31v-9.92h-1.31ZM303.7,552.8h1.31v-15.73h-1.31ZM304.96,552.8h1.31v-16.59h-1.31ZM306.22,552.8h1.31v-17.73h-1.31ZM307.47,552.8h1.31v-8.58h-1.31ZM309.99,552.8h1.31v-8.86h-1.31ZM311.24,552.8h1.31v-8.12h-1.31Z" stroke="none" stroke-width="1" fill="#1ba59c" />
<text x="202.9" y="507.4" font-size="10" fill="#1ba59c" stroke="#1ba59c" stroke-width="0.22" font-style="italic">18S: GA/AG</text>
<text x="195.3" y="565.3" font-size="10" fill="#231f20" stroke="#231f20" stroke-width="0.22" text-anchor="middle">Start</text>
<text x="312.3" y="565.3" font-size="10" fill="#231f20" stroke="#231f20" stroke-width="0.22" text-anchor="middle">Stop</text>
<text x="342.1" y="360.8" font-size="13.2" fill="#1a1617" stroke="#1a1617" stroke-width="0.22" font-weight="bold">G</text>
<text x="494.7" y="369.4" font-size="10" fill="#231f20" stroke="#231f20" stroke-width="0.2" text-anchor="middle"><tspan font-style="italic">rdn</tspan>ΔΔ + p<tspan font-style="italic">POL1p-35S-5S</tspan></text>
<line x1="371" y1="375.1" x2="623.2" y2="375.1" stroke="#34292a" stroke-width="1" />
<text x="395.7" y="387.3" font-size="10" fill="#231f20" stroke="#231f20" stroke-width="0.22" text-anchor="middle" font-style="italic">WT</text>
<line x1="371" y1="392.2" x2="420.1" y2="392.2" stroke="#34292a" stroke-width="1" />
<text x="450.2" y="387.3" font-size="10" fill="#231f20" stroke="#231f20" stroke-width="0.22" text-anchor="middle" font-style="italic">GA/AG</text>
<line x1="425.4" y1="392.2" x2="474.5" y2="392.2" stroke="#34292a" stroke-width="1" />
<text x="525.6" y="387.3" font-size="10" fill="#231f20" stroke="#231f20" stroke-width="0.22" text-anchor="middle" font-style="italic">WT</text>
<line x1="500" y1="392.2" x2="549.8" y2="392.2" stroke="#34292a" stroke-width="1" />
<text x="579.6" y="387.3" font-size="10" fill="#231f20" stroke="#231f20" stroke-width="0.22" text-anchor="middle" font-style="italic">GA/AG</text>
<line x1="554.9" y1="392.2" x2="603.9" y2="392.2" stroke="#34292a" stroke-width="1" />
<text x="624.4" y="387.5" font-size="10" fill="#231f20" stroke="#231f20" stroke-width="0.22" font-style="italic">18S</text>
<text x="341.3" y="400.7" font-size="8.3" fill="#231f20" stroke="#231f20" stroke-width="0.06">(kDa)</text>
<text x="378.1" y="406.2" font-size="10" fill="#231f20" stroke="#231f20" stroke-width="0.22" text-anchor="middle">5</text>
<text x="395.7" y="406.2" font-size="10" fill="#231f20" stroke="#231f20" stroke-width="0.22" text-anchor="middle">15</text>
<text x="413" y="406.2" font-size="10" fill="#231f20" stroke="#231f20" stroke-width="0.22" text-anchor="middle">30</text>
<text x="431.4" y="406.2" font-size="10" fill="#231f20" stroke="#231f20" stroke-width="0.22" text-anchor="middle">5</text>
<text x="449" y="406.2" font-size="10" fill="#231f20" stroke="#231f20" stroke-width="0.22" text-anchor="middle">15</text>
<text x="466.1" y="406.2" font-size="10" fill="#231f20" stroke="#231f20" stroke-width="0.22" text-anchor="middle">30</text>
<text x="485.3" y="406.2" font-size="10" fill="#231f20" stroke="#231f20" stroke-width="0.22" text-anchor="middle">0</text>
<text x="507" y="406.2" font-size="10" fill="#231f20" stroke="#231f20" stroke-width="0.22" text-anchor="middle">5</text>
<text x="524.7" y="406.2" font-size="10" fill="#231f20" stroke="#231f20" stroke-width="0.22" text-anchor="middle">15</text>
<text x="542.1" y="406.2" font-size="10" fill="#231f20" stroke="#231f20" stroke-width="0.22" text-anchor="middle">30</text>
<text x="560.6" y="406.2" font-size="10" fill="#231f20" stroke="#231f20" stroke-width="0.22" text-anchor="middle">5</text>
<text x="578.2" y="406.2" font-size="10" fill="#231f20" stroke="#231f20" stroke-width="0.22" text-anchor="middle">15</text>
<text x="595.9" y="406.2" font-size="10" fill="#231f20" stroke="#231f20" stroke-width="0.22" text-anchor="middle">30</text>
<text x="614.4" y="406.2" font-size="10" fill="#231f20" stroke="#231f20" stroke-width="0.22" text-anchor="middle">0</text>
<text x="623.8" y="406.2" font-size="10" fill="#231f20" stroke="#231f20" stroke-width="0.22">+Puro min</text>
<text x="360.6" y="415.3" font-size="8.3" fill="#231f20" stroke="#231f20" stroke-width="0.06" text-anchor="end">210</text>
<line x1="365" y1="412.3" x2="370.2" y2="412.3" stroke="#34292a" stroke-width="1" />
<text x="360.6" y="422.2" font-size="8.3" fill="#231f20" stroke="#231f20" stroke-width="0.06" text-anchor="end">140</text>
<line x1="365" y1="419.2" x2="370.2" y2="419.2" stroke="#34292a" stroke-width="1" />
<text x="360.6" y="433.2" font-size="8.3" fill="#231f20" stroke="#231f20" stroke-width="0.06" text-anchor="end">100</text>
<line x1="365" y1="430.2" x2="370.2" y2="430.2" stroke="#34292a" stroke-width="1" />
<text x="360.6" y="447.7" font-size="8.3" fill="#231f20" stroke="#231f20" stroke-width="0.06" text-anchor="end">70</text>
<line x1="365" y1="444.7" x2="370.2" y2="444.7" stroke="#34292a" stroke-width="1" />
<text x="360.6" y="463.4" font-size="8.3" fill="#231f20" stroke="#231f20" stroke-width="0.06" text-anchor="end">55</text>
<line x1="365" y1="460.4" x2="370.2" y2="460.4" stroke="#34292a" stroke-width="1" />
<text x="360.6" y="483.9" font-size="8.3" fill="#231f20" stroke="#231f20" stroke-width="0.06" text-anchor="end">40</text>
<line x1="365" y1="480.9" x2="370.2" y2="480.9" stroke="#34292a" stroke-width="1" />
<text x="360.6" y="499.2" font-size="8.3" fill="#231f20" stroke="#231f20" stroke-width="0.06" text-anchor="end">35</text>
<line x1="365" y1="496.2" x2="370.2" y2="496.2" stroke="#34292a" stroke-width="1" />
<text x="360.6" y="519.4" font-size="8.3" fill="#231f20" stroke="#231f20" stroke-width="0.06" text-anchor="end">30</text>
<line x1="365" y1="516.4" x2="370.2" y2="516.4" stroke="#34292a" stroke-width="1" />
<defs><filter id="bl" x="-5%" y="-5%" width="110%" height="110%"><feGaussianBlur stdDeviation="0.9 0.8"/></filter><filter id="bl2" x="-5%" y="-5%" width="110%" height="110%"><feGaussianBlur stdDeviation="0.6 0.9"/></filter><clipPath id="g1c"><rect x="371" y="411.9" width="123.7" height="131.2"/></clipPath><clipPath id="g2c"><rect x="499" y="412" width="124" height="130.8"/></clipPath></defs>
<rect x="371" y="411.9" width="123.7" height="131.2" fill="#f3f3f3"/>
<g clip-path="url(#g1c)"><g filter="url(#bl)"><rect x="370.8" y="438" width="14.8" height="105" fill="#000" opacity="0.05"/><rect x="388.7" y="438" width="14.8" height="105" fill="#000" opacity="0.08"/><rect x="406.8" y="438" width="14.8" height="105" fill="#000" opacity="0.2"/><rect x="424.8" y="438" width="14.8" height="105" fill="#000" opacity="0.03"/><rect x="442.5" y="438" width="14.8" height="105" fill="#000" opacity="0.07"/><rect x="460.2" y="438" width="14.8" height="105" fill="#000" opacity="0.13"/><rect x="370.8" y="418.6" width="14.8" height="2.4" rx="1.5" fill="#000" opacity="0.04"/><rect x="388.7" y="418.6" width="14.8" height="2.4" rx="1.5" fill="#000" opacity="0.04"/><rect x="406.8" y="418.6" width="14.8" height="2.4" rx="1.5" fill="#000" opacity="0.08"/><rect x="424.8" y="418.6" width="14.8" height="2.4" rx="1.5" fill="#000" opacity="0.03"/><rect x="442.5" y="418.6" width="14.8" height="2.4" rx="1.5" fill="#000" opacity="0.04"/><rect x="460.2" y="418.6" width="14.8" height="2.4" rx="1.5" fill="#000" opacity="0.07"/><rect x="370.8" y="428.4" width="14.8" height="2.4" rx="1.5" fill="#000" opacity="0.05"/><rect x="388.7" y="428.4" width="14.8" height="2.4" rx="1.5" fill="#000" opacity="0.05"/><rect x="406.8" y="428.4" width="14.8" height="2.4" rx="1.5" fill="#000" opacity="0.13"/><rect x="424.8" y="428.4" width="14.8" height="2.4" rx="1.5" fill="#000" opacity="0.03"/><rect x="442.5" y="428.4" width="14.8" height="2.4" rx="1.5" fill="#000" opacity="0.08"/><rect x="460.2" y="428.4" width="14.8" height="2.4" rx="1.5" fill="#000" opacity="0.10"/><rect x="370.8" y="431.55" width="14.8" height="2.9" rx="1.5" fill="#000" opacity="0.05"/><rect x="388.7" y="431.55" width="14.8" height="2.9" rx="1.5" fill="#000" opacity="0.05"/><rect x="406.8" y="431.55" width="14.8" height="2.9" rx="1.5" fill="#000" opacity="0.16"/><rect x="424.8" y="431.55" width="14.8" height="2.9" rx="1.5" fill="#000" opacity="0.03"/><rect x="442.5" y="431.55" width="14.8" height="2.9" rx="1.5" fill="#000" opacity="0.08"/><rect x="460.2" y="431.55" width="14.8" height="2.9" rx="1.5" fill="#000" opacity="0.13"/><rect x="370.8" y="435.15" width="14.8" height="2.7" rx="1.5" fill="#000" opacity="0.08"/><rect x="388.7" y="435.15" width="14.8" height="2.7" rx="1.5" fill="#000" opacity="0.08"/><rect x="406.8" y="435.15" width="14.8" height="2.7" rx="1.5" fill="#000" opacity="0.26"/><rect x="424.8" y="435.15" width="14.8" height="2.7" rx="1.5" fill="#000" opacity="0.04"/><rect x="442.5" y="435.15" width="14.8" height="2.7" rx="1.5" fill="#000" opacity="0.10"/><rect x="460.2" y="435.15" width="14.8" height="2.7" rx="1.5" fill="#000" opacity="0.20"/><rect x="370.8" y="440.85" width="14.8" height="2.9" rx="1.5" fill="#000" opacity="0.23"/><rect x="388.7" y="440.85" width="14.8" height="2.9" rx="1.5" fill="#000" opacity="0.23"/><rect x="406.8" y="440.85" width="14.8" height="2.9" rx="1.5" fill="#000" opacity="0.65"/><rect x="424.8" y="440.85" width="14.8" height="2.9" rx="1.5" fill="#000" opacity="0.09"/><rect x="442.5" y="440.85" width="14.8" height="2.9" rx="1.5" fill="#000" opacity="0.23"/><rect x="460.2" y="440.85" width="14.8" height="2.9" rx="1.5" fill="#000" opacity="0.42"/><rect x="370.8" y="449.55" width="14.8" height="3.5" rx="1.5" fill="#000" opacity="0.26"/><rect x="388.7" y="449.55" width="14.8" height="3.5" rx="1.5" fill="#000" opacity="0.42"/><rect x="406.8" y="449.55" width="14.8" height="3.5" rx="1.5" fill="#000" opacity="1.00"/><rect x="424.8" y="449.55" width="14.8" height="3.5" rx="1.5" fill="#000" opacity="0.13"/><rect x="442.5" y="449.55" width="14.8" height="3.5" rx="1.5" fill="#000" opacity="0.49"/><rect x="460.2" y="449.55" width="14.8" height="3.5" rx="1.5" fill="#000" opacity="1.00"/><rect x="370.8" y="453.05" width="14.8" height="4.9" rx="1.5" fill="#000" opacity="0.05"/><rect x="388.7" y="453.05" width="14.8" height="4.9" rx="1.5" fill="#000" opacity="0.07"/><rect x="406.8" y="453.05" width="14.8" height="4.9" rx="1.5" fill="#000" opacity="0.33"/><rect x="424.8" y="453.05" width="14.8" height="4.9" rx="1.5" fill="#000" opacity="0.03"/><rect x="442.5" y="453.05" width="14.8" height="4.9" rx="1.5" fill="#000" opacity="0.08"/><rect x="460.2" y="453.05" width="14.8" height="4.9" rx="1.5" fill="#000" opacity="0.23"/><rect x="370.8" y="462.3" width="14.8" height="6.4" rx="1.5" fill="#000" opacity="0.39"/><rect x="388.7" y="462.3" width="14.8" height="6.4" rx="1.5" fill="#000" opacity="0.55"/><rect x="406.8" y="462.3" width="14.8" height="6.4" rx="1.5" fill="#000" opacity="1.00"/><rect x="424.8" y="462.3" width="14.8" height="6.4" rx="1.5" fill="#000" opacity="0.20"/><rect x="442.5" y="462.3" width="14.8" height="6.4" rx="1.5" fill="#000" opacity="0.49"/><rect x="460.2" y="462.3" width="14.8" height="6.4" rx="1.5" fill="#000" opacity="0.72"/><rect x="370.8" y="472.55" width="14.8" height="4.9" rx="1.5" fill="#000" opacity="0.16"/><rect x="388.7" y="472.55" width="14.8" height="4.9" rx="1.5" fill="#000" opacity="0.23"/><rect x="406.8" y="472.55" width="14.8" height="4.9" rx="1.5" fill="#000" opacity="0.78"/><rect x="424.8" y="472.55" width="14.8" height="4.9" rx="1.5" fill="#000" opacity="0.08"/><rect x="442.5" y="472.55" width="14.8" height="4.9" rx="1.5" fill="#000" opacity="0.23"/><rect x="460.2" y="472.55" width="14.8" height="4.9" rx="1.5" fill="#000" opacity="0.59"/><rect x="370.8" y="478.25" width="14.8" height="3.9" rx="1.5" fill="#000" opacity="0.59"/><rect x="388.7" y="478.25" width="14.8" height="3.9" rx="1.5" fill="#000" opacity="1.00"/><rect x="406.8" y="478.25" width="14.8" height="3.9" rx="1.5" fill="#000" opacity="1.00"/><rect x="424.8" y="478.25" width="14.8" height="3.9" rx="1.5" fill="#000" opacity="0.36"/><rect x="442.5" y="478.25" width="14.8" height="3.9" rx="1.5" fill="#000" opacity="0.75"/><rect x="460.2" y="478.25" width="14.8" height="3.9" rx="1.5" fill="#000" opacity="1.00"/><rect x="370.8" y="482.9" width="14.8" height="3.4" rx="1.5" fill="#000" opacity="0.39"/><rect x="388.7" y="482.9" width="14.8" height="3.4" rx="1.5" fill="#000" opacity="0.85"/><rect x="406.8" y="482.9" width="14.8" height="3.4" rx="1.5" fill="#000" opacity="1.00"/><rect x="424.8" y="482.9" width="14.8" height="3.4" rx="1.5" fill="#000" opacity="0.29"/><rect x="442.5" y="482.9" width="14.8" height="3.4" rx="1.5" fill="#000" opacity="0.65"/><rect x="460.2" y="482.9" width="14.8" height="3.4" rx="1.5" fill="#000" opacity="1.00"/><rect x="370.8" y="489.55" width="14.8" height="3.9" rx="1.5" fill="#000" opacity="1.00"/><rect x="388.7" y="489.55" width="14.8" height="3.9" rx="1.5" fill="#000" opacity="1.00"/><rect x="406.8" y="489.55" width="14.8" height="3.9" rx="1.5" fill="#000" opacity="1.00"/><rect x="424.8" y="489.55" width="14.8" height="3.9" rx="1.5" fill="#000" opacity="0.59"/><rect x="442.5" y="489.55" width="14.8" height="3.9" rx="1.5" fill="#000" opacity="1.00"/><rect x="460.2" y="489.55" width="14.8" height="3.9" rx="1.5" fill="#000" opacity="1.00"/><rect x="477.4" y="489.55" width="14.8" height="3.9" rx="1.5" fill="#000" opacity="0.04"/><rect x="370.8" y="499.65" width="14.8" height="3.1" rx="1.5" fill="#000" opacity="0.36"/><rect x="388.7" y="499.65" width="14.8" height="3.1" rx="1.5" fill="#000" opacity="0.49"/><rect x="406.8" y="499.65" width="14.8" height="3.1" rx="1.5" fill="#000" opacity="1.00"/><rect x="424.8" y="499.65" width="14.8" height="3.1" rx="1.5" fill="#000" opacity="0.13"/><rect x="442.5" y="499.65" width="14.8" height="3.1" rx="1.5" fill="#000" opacity="0.42"/><rect x="460.2" y="499.65" width="14.8" height="3.1" rx="1.5" fill="#000" opacity="0.65"/><rect x="370.8" y="504.55" width="14.8" height="3.1" rx="1.5" fill="#000" opacity="0.36"/><rect x="388.7" y="504.55" width="14.8" height="3.1" rx="1.5" fill="#000" opacity="0.55"/><rect x="406.8" y="504.55" width="14.8" height="3.1" rx="1.5" fill="#000" opacity="1.00"/><rect x="424.8" y="504.55" width="14.8" height="3.1" rx="1.5" fill="#000" opacity="0.10"/><rect x="442.5" y="504.55" width="14.8" height="3.1" rx="1.5" fill="#000" opacity="0.45"/><rect x="460.2" y="504.55" width="14.8" height="3.1" rx="1.5" fill="#000" opacity="0.59"/><rect x="370.8" y="507.3" width="14.8" height="3.4" rx="1.5" fill="#000" opacity="0.07"/><rect x="388.7" y="507.3" width="14.8" height="3.4" rx="1.5" fill="#000" opacity="0.10"/><rect x="406.8" y="507.3" width="14.8" height="3.4" rx="1.5" fill="#000" opacity="0.39"/><rect x="424.8" y="507.3" width="14.8" height="3.4" rx="1.5" fill="#000" opacity="0.03"/><rect x="442.5" y="507.3" width="14.8" height="3.4" rx="1.5" fill="#000" opacity="0.08"/><rect x="460.2" y="507.3" width="14.8" height="3.4" rx="1.5" fill="#000" opacity="0.16"/><rect x="370.8" y="514.25" width="14.8" height="3.1" rx="1.5" fill="#000" opacity="0.36"/><rect x="388.7" y="514.25" width="14.8" height="3.1" rx="1.5" fill="#000" opacity="0.65"/><rect x="406.8" y="514.25" width="14.8" height="3.1" rx="1.5" fill="#000" opacity="1.00"/><rect x="424.8" y="514.25" width="14.8" height="3.1" rx="1.5" fill="#000" opacity="0.16"/><rect x="442.5" y="514.25" width="14.8" height="3.1" rx="1.5" fill="#000" opacity="0.39"/><rect x="460.2" y="514.25" width="14.8" height="3.1" rx="1.5" fill="#000" opacity="0.49"/><rect x="370.8" y="520.55" width="14.8" height="2.9" rx="1.5" fill="#000" opacity="0.26"/><rect x="388.7" y="520.55" width="14.8" height="2.9" rx="1.5" fill="#000" opacity="0.39"/><rect x="406.8" y="520.55" width="14.8" height="2.9" rx="1.5" fill="#000" opacity="0.78"/><rect x="424.8" y="520.55" width="14.8" height="2.9" rx="1.5" fill="#000" opacity="0.08"/><rect x="442.5" y="520.55" width="14.8" height="2.9" rx="1.5" fill="#000" opacity="0.29"/><rect x="460.2" y="520.55" width="14.8" height="2.9" rx="1.5" fill="#000" opacity="0.36"/><rect x="370.8" y="524.45" width="14.8" height="2.9" rx="1.5" fill="#000" opacity="0.26"/><rect x="388.7" y="524.45" width="14.8" height="2.9" rx="1.5" fill="#000" opacity="0.43"/><rect x="406.8" y="524.45" width="14.8" height="2.9" rx="1.5" fill="#000" opacity="0.78"/><rect x="424.8" y="524.45" width="14.8" height="2.9" rx="1.5" fill="#000" opacity="0.08"/><rect x="442.5" y="524.45" width="14.8" height="2.9" rx="1.5" fill="#000" opacity="0.29"/><rect x="460.2" y="524.45" width="14.8" height="2.9" rx="1.5" fill="#000" opacity="0.39"/><rect x="370.8" y="532.25" width="14.8" height="3.9" rx="1.5" fill="#000" opacity="0.33"/><rect x="388.7" y="532.25" width="14.8" height="3.9" rx="1.5" fill="#000" opacity="0.39"/><rect x="406.8" y="532.25" width="14.8" height="3.9" rx="1.5" fill="#000" opacity="0.65"/><rect x="424.8" y="532.25" width="14.8" height="3.9" rx="1.5" fill="#000" opacity="0.07"/><rect x="442.5" y="532.25" width="14.8" height="3.9" rx="1.5" fill="#000" opacity="0.20"/><rect x="460.2" y="532.25" width="14.8" height="3.9" rx="1.5" fill="#000" opacity="0.29"/><rect x="406.8" y="540.75" width="14.8" height="2.5" rx="1.5" fill="#000" opacity="0.39"/><rect x="460.2" y="540.75" width="14.8" height="2.5" rx="1.5" fill="#000" opacity="0.91"/></g></g>
<line x1="494.4" y1="412" x2="494.4" y2="543" stroke="#d8d8d8" stroke-width="0.8" />
<rect x="499" y="412" width="124" height="130.8" fill="#b4b4b4"/>
<g clip-path="url(#g2c)"><g filter="url(#bl2)"><rect x="499" y="411" width="124" height="7" fill="#fff" opacity="0.06"/><rect x="499" y="417.25" width="124" height="1.5" fill="#222" opacity="0.06"/><rect x="499" y="423.4" width="124" height="2" fill="#222" opacity="0.16"/><rect x="499" y="427.25" width="124" height="1.5" fill="#222" opacity="0.06"/><rect x="499" y="430.85" width="124" height="2.5" fill="#222" opacity="0.27"/><rect x="499" y="436.75" width="124" height="1.5" fill="#222" opacity="0.09"/><rect x="499" y="440.25" width="124" height="1.5" fill="#222" opacity="0.08"/><rect x="499" y="446.25" width="124" height="2.5" fill="#222" opacity="0.23"/><rect x="499" y="451.25" width="124" height="1.5" fill="#222" opacity="0.09"/><rect x="499" y="458.1" width="124" height="3" fill="#222" opacity="0.48"/><rect x="499" y="464.8" width="124" height="2" fill="#222" opacity="0.12"/><rect x="499" y="470.25" width="124" height="5.5" fill="#222" opacity="0.43"/><rect x="499" y="480.1" width="124" height="2.2" fill="#222" opacity="0.25"/><rect x="499" y="484.6" width="124" height="3.2" fill="#222" opacity="0.47"/><rect x="499" y="490.25" width="124" height="1.5" fill="#222" opacity="0.12"/><rect x="499" y="495.1" width="124" height="3" fill="#222" opacity="0.47"/><rect x="499" y="500.75" width="124" height="1.5" fill="#222" opacity="0.09"/><rect x="499" y="505.4" width="124" height="2.2" fill="#222" opacity="0.17"/><rect x="499" y="510.25" width="124" height="1.5" fill="#222" opacity="0.12"/><rect x="499" y="516.2" width="124" height="2.4" fill="#222" opacity="0.30"/><rect x="499" y="522.7" width="124" height="1.8" fill="#222" opacity="0.16"/><rect x="499" y="528.4" width="124" height="2.8" fill="#222" opacity="0.43"/><rect x="499" y="534.25" width="124" height="1.5" fill="#222" opacity="0.16"/><rect x="499" y="539.5" width="124" height="2" fill="#222" opacity="0.20"/><rect x="497.4" y="411" width="2" height="133" fill="#fff" opacity="0.14"/><rect x="515.25" y="411" width="2" height="133" fill="#fff" opacity="0.14"/><rect x="533.1" y="411" width="2" height="133" fill="#fff" opacity="0.14"/><rect x="550.95" y="411" width="2" height="133" fill="#fff" opacity="0.14"/><rect x="568.8" y="411" width="2" height="133" fill="#fff" opacity="0.14"/><rect x="586.65" y="411" width="2" height="133" fill="#fff" opacity="0.14"/><rect x="604.5" y="411" width="2" height="133" fill="#fff" opacity="0.14"/><rect x="622.35" y="411" width="2" height="133" fill="#fff" opacity="0.14"/></g></g>
<text x="371.4" y="550.6" font-size="8.6" fill="#231f20" stroke="#231f20" stroke-width="0.06">IB: Puromycin</text>
<text x="499.9" y="551.1" font-size="8.6" fill="#231f20" stroke="#231f20" stroke-width="0.06">Ponceau S</text>
<text x="379.2" y="564.4" font-size="8.3" fill="#231f20" stroke="#231f20" stroke-width="0.06" text-anchor="middle">1</text>
<text x="396.8" y="564.4" font-size="8.3" fill="#231f20" stroke="#231f20" stroke-width="0.06" text-anchor="middle">2</text>
<text x="414.4" y="564.4" font-size="8.3" fill="#231f20" stroke="#231f20" stroke-width="0.06" text-anchor="middle">3</text>
<text x="432" y="564.4" font-size="8.3" fill="#231f20" stroke="#231f20" stroke-width="0.06" text-anchor="middle">4</text>
<text x="449.5" y="564.4" font-size="8.3" fill="#231f20" stroke="#231f20" stroke-width="0.06" text-anchor="middle">5</text>
<text x="467.1" y="564.4" font-size="8.3" fill="#231f20" stroke="#231f20" stroke-width="0.06" text-anchor="middle">6</text>
<text x="484.7" y="564.4" font-size="8.3" fill="#231f20" stroke="#231f20" stroke-width="0.06" text-anchor="middle">7</text>
<text x="507.2" y="564.4" font-size="8.3" fill="#231f20" stroke="#231f20" stroke-width="0.06" text-anchor="middle">1</text>
<text x="525.6" y="564.4" font-size="8.3" fill="#231f20" stroke="#231f20" stroke-width="0.06" text-anchor="middle">2</text>
<text x="543.6" y="564.4" font-size="8.3" fill="#231f20" stroke="#231f20" stroke-width="0.06" text-anchor="middle">3</text>
<text x="561.6" y="564.4" font-size="8.3" fill="#231f20" stroke="#231f20" stroke-width="0.06" text-anchor="middle">4</text>
<text x="579.5" y="564.4" font-size="8.3" fill="#231f20" stroke="#231f20" stroke-width="0.06" text-anchor="middle">5</text>
<text x="597.5" y="564.4" font-size="8.3" fill="#231f20" stroke="#231f20" stroke-width="0.06" text-anchor="middle">6</text>
<text x="615.5" y="564.4" font-size="8.3" fill="#231f20" stroke="#231f20" stroke-width="0.06" text-anchor="middle">7</text>
<text x="0" y="593" font-size="13.2" fill="#1a1617" stroke="#1a1617" stroke-width="0.22" font-weight="bold">H</text>
<text x="77.4" y="601.8" font-size="10" fill="#231f20" stroke="#231f20" stroke-width="0.22">LTM addition</text>
<path d="M77.6,613.5 V608.2 H112" stroke="#3a3333" stroke-width="1" fill="none" />
<path d="M108.5,605.5 L112.5,608.2 L108.5,610.9" stroke="#3a3333" stroke-width="1" fill="none" />
<text transform="translate(9,675.5) rotate(-90)" font-size="10" fill="#231f20" stroke="#231f20" stroke-width="0.22" text-anchor="middle">Absorbance (%)</text>
<line x1="35.3" y1="619.35" x2="35.3" y2="734.6" stroke="#34292a" stroke-width="1.2" />
<line x1="30.4" y1="619.35" x2="35.3" y2="619.35" stroke="#34292a" stroke-width="1.2" />
<text x="25.5" y="622.55" font-size="9.0" fill="#231f20" stroke="#231f20" stroke-width="0.06" text-anchor="end">120</text>
<line x1="30.4" y1="638.56" x2="35.3" y2="638.56" stroke="#34292a" stroke-width="1.2" />
<text x="25.5" y="641.76" font-size="9.0" fill="#231f20" stroke="#231f20" stroke-width="0.06" text-anchor="end">100</text>
<line x1="30.4" y1="657.77" x2="35.3" y2="657.77" stroke="#34292a" stroke-width="1.2" />
<text x="25.5" y="660.97" font-size="9.0" fill="#231f20" stroke="#231f20" stroke-width="0.06" text-anchor="end">80</text>
<line x1="30.4" y1="676.98" x2="35.3" y2="676.98" stroke="#34292a" stroke-width="1.2" />
<text x="25.5" y="680.18" font-size="9.0" fill="#231f20" stroke="#231f20" stroke-width="0.06" text-anchor="end">60</text>
<line x1="30.4" y1="696.18" x2="35.3" y2="696.18" stroke="#34292a" stroke-width="1.2" />
<text x="25.5" y="699.38" font-size="9.0" fill="#231f20" stroke="#231f20" stroke-width="0.06" text-anchor="end">40</text>
<line x1="30.4" y1="715.39" x2="35.3" y2="715.39" stroke="#34292a" stroke-width="1.2" />
<text x="25.5" y="718.59" font-size="9.0" fill="#231f20" stroke="#231f20" stroke-width="0.06" text-anchor="end">20</text>
<line x1="30.4" y1="734.6" x2="35.3" y2="734.6" stroke="#34292a" stroke-width="1.2" />
<text x="25.5" y="737.8" font-size="9.0" fill="#231f20" stroke="#231f20" stroke-width="0.06" text-anchor="end">0</text>
<line x1="36.3" y1="638.56" x2="130.5" y2="638.56" stroke="#c8c8c8" stroke-width="0.8" stroke-dasharray="1,1.2"/>
<defs><clipPath id="hc35"><rect x="35.3" y="619.35" width="150" height="130"/></clipPath></defs>
<g clip-path="url(#hc35)">
<path d="M45.3,690.42 L45.6,631.84 L46.2,696.18 L46.9,694.26 L47.3,604.95 L53,602.52 L53.25,610.93 L53.5,619.27 L53.75,627.46 L54,635.46 L54.25,643.19 L54.5,650.61 L54.75,657.7 L55,664.41 L55.25,670.73 L55.5,676.63 L55.75,682.12 L56,687.18 L56.25,691.83 L56.5,696.06 L56.75,699.9 L57,703.35 L57.25,706.43 L57.5,709.17 L57.75,711.59 L58,713.7 L58.25,715.53 L58.5,717.1 L58.75,718.43 L59,719.53 L59.25,720.43 L59.5,721.13 L59.75,721.64 L60,721.96 L60.25,722.1 L60.5,722.02 L60.75,721.7 L61,721.09 L61.25,720.11 L61.5,718.61 L61.75,716.42 L62,713.31 L62.25,709.17 L62.5,704.46 L62.75,700.79 L63,700.42 L63.25,703.64 L63.5,708.37 L63.75,712.76 L64,716.17 L64.25,718.64 L64.5,720.4 L64.75,721.66 L65,722.57 L65.25,723.22 L65.5,723.69 L65.75,724.02 L66,724.25 L66.25,724.39 L66.5,724.46 L66.75,724.46 L67,724.39 L67.25,724.26 L67.5,724.06 L67.75,723.78 L68,723.4 L68.25,722.9 L68.5,722.23 L68.75,721.35 L69,720.16 L69.25,718.55 L69.5,716.34 L69.75,713.29 L70,709.16 L70.25,703.98 L70.5,698.71 L70.75,695.64 L71,696.73 L71.25,701.03 L71.5,706 L71.75,710.11 L72,713.06 L72.25,714.99 L72.5,716.15 L72.75,716.7 L73,716.74 L73.25,716.34 L73.5,715.46 L73.75,714.06 L74,712.01 L74.25,709.1 L74.5,705.01 L74.75,699.26 L75,691.18 L75.25,680.04 L75.5,665.69 L75.75,650.2 L76,639.76 L76.25,641.14 L76.5,653.38 L76.75,669.15 L77,683.08 L77.25,693.73 L77.5,701.49 L77.75,707.09 L78,711.17 L78.25,714.2 L78.5,716.49 L78.75,718.24 L79,719.62 L79.25,720.7 L79.5,721.57 L79.75,722.27 L80,722.84 L80.25,723.31 L80.5,723.7 L80.75,724.01 L81,724.26 L81.25,724.46 L81.5,724.62 L81.75,724.74 L82,724.82 L82.25,724.86 L82.5,724.86 L82.75,724.83 L83,724.76 L83.25,724.64 L83.5,724.46 L83.75,724.23 L84,723.92 L84.25,723.52 L84.5,722.99 L84.75,722.31 L85,721.43 L85.25,720.26 L85.5,718.69 L85.75,716.55 L86,713.61 L86.25,709.52 L86.5,703.89 L86.75,696.5 L87,688.15 L87.25,681.66 L87.5,680.97 L87.75,686.58 L88,694.87 L88.25,702.57 L88.5,708.56 L88.75,712.93 L89,716.07 L89.25,718.34 L89.5,720.01 L89.75,721.25 L90,722.18 L90.25,722.88 L90.5,723.41 L90.75,723.81 L91,724.11 L91.25,724.32 L91.5,724.45 L91.75,724.51 L92,724.5 L92.25,724.43 L92.5,724.29 L92.75,724.06 L93,723.74 L93.25,723.3 L93.5,722.71 L93.75,721.93 L94,720.89 L94.25,719.49 L94.5,717.58 L94.75,714.94 L95,711.28 L95.25,706.2 L95.5,699.44 L95.75,691.47 L96,684.57 L96.25,682.58 L96.5,686.95 L96.75,694.69 L97,702.32 L97.25,708.38 L97.5,712.83 L97.75,716.03 L98,718.32 L98.25,719.97 L98.5,721.18 L98.75,722.05 L99,722.69 L99.25,723.13 L99.5,723.42 L99.75,723.57 L100,723.59 L100.25,723.48 L100.5,723.22 L100.75,722.8 L101,722.16 L101.25,721.25 L101.5,719.95 L101.75,718.11 L102,715.52 L102.25,711.89 L102.5,707.04 L102.75,701.3 L103,696.33 L103.25,694.91 L103.5,698.08 L103.75,703.67 L104,709.18 L104.25,713.54 L104.5,716.73 L104.75,718.99 L105,720.57 L105.25,721.68 L105.5,722.42 L105.75,722.89 L106,723.12 L106.25,723.13 L106.5,722.91 L106.75,722.42 L107,721.59 L107.25,720.32 L107.5,718.44 L107.75,715.84 L108,712.6 L108.25,709.54 L108.5,708.23 L108.75,709.66 L109,712.84 L109.25,716.2 L109.5,718.94 L109.75,720.96 L110,722.39 L110.25,723.39 L110.5,724.08 L110.75,724.54 L111,724.81 L111.25,724.92 L111.5,724.87 L111.75,724.67 L112,724.27 L112.25,723.61 L112.5,722.62 L112.75,721.19 L113,719.23 L113.25,716.89 L113.5,714.85 L113.75,714.25 L114,715.52 L114.25,717.77 L114.5,719.94 L114.75,721.62 L115,722.75 L115.25,723.43 L115.5,723.73 L115.75,723.69 L116,723.3 L116.25,722.51 L116.5,721.29 L116.75,719.75 L117,718.4 L117.25,718.06 L117.5,719.03 L117.75,720.69 L118,722.28 L118.25,723.51 L118.5,724.33 L118.75,724.82 L119,725.03 L119.25,724.98 L119.5,724.65 L119.75,724.01 L120,723.03 L120.25,721.8 L120.5,720.72 L120.75,720.45 L121,721.23 L121.25,722.55 L121.5,723.82 L121.75,724.79 L122,725.44 L122.25,725.81 L122.5,725.94 L122.75,725.84 L123,725.49 L123.25,724.87 L123.5,724.03 L123.75,723.22 L124,722.92 L124.25,723.43 L124.5,724.46 L124.75,725.53 L125,726.42 L125.25,727.09 L125.5,727.58 L125.75,727.94 L126,728.22 L126.25,728.43 L126.5,728.6" stroke="#1ba59c" stroke-width="1.8" fill="none" stroke-linejoin="round"/>
<path d="M47,698.1 L47.3,676.98 L47.6,604.95 L53.3,601.56 L53.55,609.97 L53.8,618.31 L54.05,626.5 L54.3,634.49 L54.55,642.22 L54.8,649.64 L55.05,656.73 L55.3,663.44 L55.55,669.76 L55.8,675.66 L56.05,681.15 L56.3,686.21 L56.55,690.86 L56.8,695.09 L57.05,698.93 L57.3,702.38 L57.55,705.47 L57.8,708.21 L58.05,710.63 L58.3,712.75 L58.55,714.59 L58.8,716.17 L59.05,717.5 L59.3,718.62 L59.55,719.53 L59.8,720.24 L60.05,720.76 L60.3,721.1 L60.55,721.24 L60.8,721.16 L61.05,720.84 L61.3,720.2 L61.55,719.14 L61.8,717.54 L62.05,715.24 L62.3,712.2 L62.55,708.89 L62.8,706.66 L63.05,706.97 L63.3,709.63 L63.55,713.04 L63.8,716.04 L64.05,718.31 L64.3,719.94 L64.55,721.09 L64.8,721.9 L65.05,722.46 L65.3,722.86 L65.55,723.12 L65.8,723.28 L66.05,723.36 L66.3,723.37 L66.55,723.31 L66.8,723.19 L67.05,723.01 L67.3,722.75 L67.55,722.42 L67.8,721.98 L68.05,721.41 L68.3,720.68 L68.55,719.74 L68.8,718.49 L69.05,716.82 L69.3,714.56 L69.55,711.45 L69.8,707.16 L70.05,701.42 L70.3,694.42 L70.55,687.79 L70.8,684.77 L71.05,687.36 L71.3,693.56 L71.55,700.09 L71.8,705.34 L72.05,709.08 L72.3,711.57 L72.55,713.13 L72.8,713.96 L73.05,714.21 L73.3,713.94 L73.55,713.15 L73.8,711.78 L74.05,709.71 L74.3,706.71 L74.55,702.44 L74.8,696.4 L75.05,687.91 L75.3,676.27 L75.55,661.6 L75.8,646.69 L76.05,638.32 L76.3,642.25 L76.55,655.68 L76.8,671.2 L77.05,684.37 L77.3,694.28 L77.55,701.47 L77.8,706.67 L78.05,710.47 L78.3,713.3 L78.55,715.44 L78.8,717.09 L79.05,718.38 L79.3,719.4 L79.55,720.22 L79.8,720.88 L80.05,721.41 L80.3,721.85 L80.55,722.2 L80.8,722.49 L81.05,722.71 L81.3,722.89 L81.55,723.02 L81.8,723.11 L82.05,723.15 L82.3,723.16 L82.55,723.13 L82.8,723.05 L83.05,722.93 L83.3,722.76 L83.55,722.52 L83.8,722.22 L84.05,721.82 L84.3,721.31 L84.55,720.65 L84.8,719.8 L85.05,718.7 L85.3,717.24 L85.55,715.28 L85.8,712.63 L86.05,708.96 L86.3,703.86 L86.55,696.89 L86.8,687.93 L87.05,678.28 L87.3,671.75 L87.55,672.55 L87.8,680.09 L88.05,689.81 L88.3,698.39 L88.55,704.93 L88.8,709.68 L89.05,713.09 L89.3,715.56 L89.55,717.37 L89.8,718.71 L90.05,719.71 L90.3,720.47 L90.55,721.04 L90.8,721.46 L91.05,721.76 L91.3,721.96 L91.55,722.07 L91.8,722.09 L92.05,722.04 L92.3,721.9 L92.55,721.67 L92.8,721.33 L93.05,720.87 L93.3,720.26 L93.55,719.44 L93.8,718.37 L94.05,716.94 L94.3,715.02 L94.55,712.41 L94.8,708.8 L95.05,703.78 L95.3,696.87 L95.55,687.82 L95.8,677.57 L96.05,669.61 L96.3,668.73 L96.55,675.57 L96.8,685.69 L97.05,695.08 L97.3,702.37 L97.55,707.67 L97.8,711.46 L98.05,714.18 L98.3,716.14 L98.55,717.55 L98.8,718.58 L99.05,719.3 L99.3,719.79 L99.55,720.08 L99.8,720.19 L100.05,720.13 L100.3,719.89 L100.55,719.44 L100.8,718.75 L101.05,717.75 L101.3,716.33 L101.55,714.34 L101.8,711.54 L102.05,707.59 L102.3,702.12 L102.55,694.92 L102.8,686.75 L103.05,680.4 L103.3,679.71 L103.55,685.18 L103.8,693.26 L104.05,700.75 L104.3,706.53 L104.55,710.71 L104.8,713.66 L105.05,715.72 L105.3,717.13 L105.55,718.07 L105.8,718.62 L106.05,718.84 L106.3,718.73 L106.55,718.28 L106.8,717.43 L107.05,716.03 L107.3,713.93 L107.55,710.88 L107.8,706.73 L108.05,701.76 L108.3,697.46 L108.55,696.27 L108.8,699.11 L109.05,704.09 L109.3,708.97 L109.55,712.84 L109.8,715.65 L110.05,717.63 L110.3,719.01 L110.55,719.94 L110.8,720.54 L111.05,720.87 L111.3,720.96 L111.55,720.81 L111.8,720.4 L112.05,719.67 L112.3,718.53 L112.55,716.83 L112.8,714.39 L113.05,711.14 L113.3,707.42 L113.55,704.51 L113.8,704.16 L114.05,706.6 L114.3,710.2 L114.55,713.47 L114.8,715.91 L115.05,717.52 L115.3,718.44 L115.55,718.79 L115.8,718.59 L116.05,717.82 L116.3,716.4 L116.55,714.31 L116.8,711.81 L117.05,709.86 L117.3,709.74 L117.55,711.63 L117.8,714.33 L118.05,716.79 L118.3,718.62 L118.55,719.83 L118.8,720.54 L119.05,720.82 L119.3,720.69 L119.55,720.14 L119.8,719.1 L120.05,717.55 L120.3,715.69 L120.55,714.25 L120.8,714.17 L121.05,715.6 L121.3,717.64 L121.55,719.49 L121.8,720.87 L122.05,721.78 L122.3,722.3 L122.55,722.47 L122.8,722.32 L123.05,721.82 L123.3,720.96 L123.55,719.83 L123.8,718.85 L124.05,718.67 L124.3,719.55 L124.55,720.98 L124.8,722.38 L125.05,723.5 L125.3,724.34 L125.55,724.96 L125.8,725.42 L126.05,725.77 L126.3,726.04" stroke="#2e2526" stroke-width="1.7" fill="none" stroke-linejoin="round" opacity="0.8"/>
</g>
<text x="74.8" y="623.7" font-size="10" fill="#231f20" stroke="#231f20" stroke-width="0.22">0</text>
<text x="88.7" y="657.9" font-size="8.5" fill="#231f20" stroke="#231f20" stroke-width="0.06">1.89±0.13</text>
<text x="88.7" y="666.3" font-size="8.5" fill="#1ba59c" stroke="#1ba59c" stroke-width="0.06">1.78±0.19</text>
<text x="88.7" y="647.5" font-size="8.5" fill="#231f20" stroke="#231f20" stroke-width="0.06">Poly/80S</text>
<line x1="73.4" y1="734.8" x2="83.1" y2="734.8" stroke="#34292a" stroke-width="1" />
<line x1="86.6" y1="734.8" x2="126.5" y2="734.8" stroke="#34292a" stroke-width="1" />
<text x="69" y="746.5" font-size="9.8" fill="#231f20" stroke="#231f20" stroke-width="0.22">80S</text>
<text x="91.2" y="746.5" font-size="9.8" fill="#231f20" stroke="#231f20" stroke-width="0.22">Polysome</text>
<line x1="159.9" y1="619.35" x2="159.9" y2="734.6" stroke="#34292a" stroke-width="1.2" />
<line x1="155" y1="619.35" x2="159.9" y2="619.35" stroke="#34292a" stroke-width="1.2" />
<text x="148.7" y="622.55" font-size="9.0" fill="#231f20" stroke="#231f20" stroke-width="0.06" text-anchor="end">120</text>
<line x1="155" y1="638.56" x2="159.9" y2="638.56" stroke="#34292a" stroke-width="1.2" />
<text x="148.7" y="641.76" font-size="9.0" fill="#231f20" stroke="#231f20" stroke-width="0.06" text-anchor="end">100</text>
<line x1="155" y1="657.77" x2="159.9" y2="657.77" stroke="#34292a" stroke-width="1.2" />
<text x="148.7" y="660.97" font-size="9.0" fill="#231f20" stroke="#231f20" stroke-width="0.06" text-anchor="end">80</text>
<line x1="155" y1="676.98" x2="159.9" y2="676.98" stroke="#34292a" stroke-width="1.2" />
<text x="148.7" y="680.18" font-size="9.0" fill="#231f20" stroke="#231f20" stroke-width="0.06" text-anchor="end">60</text>
<line x1="155" y1="696.18" x2="159.9" y2="696.18" stroke="#34292a" stroke-width="1.2" />
<text x="148.7" y="699.38" font-size="9.0" fill="#231f20" stroke="#231f20" stroke-width="0.06" text-anchor="end">40</text>
<line x1="155" y1="715.39" x2="159.9" y2="715.39" stroke="#34292a" stroke-width="1.2" />
<text x="148.7" y="718.59" font-size="9.0" fill="#231f20" stroke="#231f20" stroke-width="0.06" text-anchor="end">20</text>
<line x1="155" y1="734.6" x2="159.9" y2="734.6" stroke="#34292a" stroke-width="1.2" />
<text x="148.7" y="737.8" font-size="9.0" fill="#231f20" stroke="#231f20" stroke-width="0.06" text-anchor="end">0</text>
<line x1="160.9" y1="638.56" x2="252" y2="638.56" stroke="#c8c8c8" stroke-width="0.8" stroke-dasharray="1,1.2"/>
<defs><clipPath id="hc159"><rect x="159.9" y="619.35" width="150" height="130"/></clipPath></defs>
<g clip-path="url(#hc159)">
<path d="M167.7,708.67 L167.9,604.95 L174.7,603.62 L174.95,616.18 L175.2,628.17 L175.45,639.5 L175.7,650.08 L175.95,659.88 L176.2,668.85 L176.45,677 L176.7,684.33 L176.95,690.87 L177.2,696.64 L177.45,701.69 L177.7,706.08 L177.95,709.85 L178.2,713.06 L178.45,715.78 L178.7,718.06 L178.95,719.94 L179.2,721.49 L179.45,722.75 L179.7,723.76 L179.95,724.55 L180.2,725.17 L180.45,725.64 L180.7,725.97 L180.95,726.2 L181.2,726.34 L181.45,726.4 L181.7,726.38 L181.95,726.29 L182.2,726.13 L182.45,725.9 L182.7,725.57 L182.95,725.13 L183.2,724.54 L183.45,723.76 L183.7,722.7 L183.95,721.24 L184.2,719.23 L184.45,716.49 L184.7,712.98 L184.95,709.2 L185.2,706.62 L185.45,706.86 L185.7,709.69 L185.95,713.36 L186.2,716.58 L186.45,719 L186.7,720.71 L186.95,721.89 L187.2,722.67 L187.45,723.16 L187.7,723.41 L187.95,723.46 L188.2,723.32 L188.45,722.95 L188.7,722.31 L188.95,721.36 L189.2,720.08 L189.45,718.64 L189.7,717.59 L189.95,717.51 L190.2,718.29 L190.45,719.29 L190.7,720.01 L190.95,720.27 L191.2,720.05 L191.45,719.32 L191.7,717.98 L191.95,715.92 L192.2,713.04 L192.45,709.56 L192.7,706.51 L192.95,705.64 L193.2,707.57 L193.45,710.99 L193.7,714.33 L193.95,716.95 L194.2,718.83 L194.45,720.13 L194.7,720.99 L194.95,721.54 L195.2,721.86 L195.45,721.99 L195.7,721.97 L195.95,721.8 L196.2,721.49 L196.45,721.03 L196.7,720.39 L196.95,719.56 L197.2,718.46 L197.45,717.03 L197.7,715.16 L197.95,712.68 L198.2,709.33 L198.45,704.77 L198.7,698.46 L198.95,689.69 L199.2,677.78 L199.45,662.83 L199.7,647.66 L199.95,639.11 L200.2,643 L200.45,656.52 L200.7,672.16 L200.95,685.42 L201.2,695.41 L201.45,702.64 L201.7,707.87 L201.95,711.69 L202.2,714.54 L202.45,716.69 L202.7,718.35 L202.95,719.65 L203.2,720.68 L203.45,721.52 L203.7,722.19 L203.95,722.75 L204.2,723.21 L204.45,723.59 L204.7,723.92 L204.95,724.19 L205.2,724.42 L205.45,724.61 L205.7,724.77 L205.95,724.9 L206.2,725.01 L206.45,725.1 L206.7,725.17 L206.95,725.21 L207.2,725.25 L207.45,725.26 L207.7,725.25 L207.95,725.23 L208.2,725.18 L208.45,725.11 L208.7,725.01 L208.95,724.88 L209.2,724.72 L209.45,724.5 L209.7,724.22 L209.95,723.86 L210.2,723.4 L210.45,722.8 L210.7,721.99 L210.95,720.91 L211.2,719.42 L211.45,717.37 L211.7,714.52 L211.95,710.69 L212.2,706.01 L212.45,701.6 L212.7,699.67 L212.95,701.59 L213.2,706 L213.45,710.67 L213.7,714.49 L213.95,717.33 L214.2,719.38 L214.45,720.85 L214.7,721.93 L214.95,722.72 L215.2,723.32 L215.45,723.77 L215.7,724.12 L215.95,724.38 L216.2,724.58 L216.45,724.73 L216.7,724.84 L216.95,724.91 L217.2,724.95 L217.45,724.96 L217.7,724.93 L217.95,724.88 L218.2,724.79 L218.45,724.66 L218.7,724.48 L218.95,724.25 L219.2,723.93 L219.45,723.51 L219.7,722.96 L219.95,722.21 L220.2,721.19 L220.45,719.78 L220.7,717.81 L220.95,715.12 L221.2,711.66 L221.45,707.94 L221.7,705.41 L221.95,705.72 L222.2,708.63 L222.45,712.37 L222.7,715.68 L222.95,718.2 L223.2,720.02 L223.45,721.33 L223.7,722.28 L223.95,722.96 L224.2,723.47 L224.45,723.85 L224.7,724.12 L224.95,724.32 L225.2,724.46 L225.45,724.55 L225.7,724.59 L225.95,724.59 L226.2,724.54 L226.45,724.45 L226.7,724.3 L226.95,724.08 L227.2,723.77 L227.45,723.34 L227.7,722.75 L227.95,721.92 L228.2,720.76 L228.45,719.15 L228.7,716.99 L228.95,714.45 L229.2,712.25 L229.45,711.61 L229.7,713 L229.95,715.46 L230.2,717.89 L230.45,719.82 L230.7,721.22 L230.95,722.23 L231.2,722.94 L231.45,723.44 L231.7,723.8 L231.95,724.05 L232.2,724.21 L232.45,724.3 L232.7,724.32 L232.95,724.28 L233.2,724.16 L233.45,723.96 L233.7,723.65 L233.95,723.19 L234.2,722.53 L234.45,721.58 L234.7,720.31 L234.95,718.8 L235.2,717.49 L235.45,717.12 L235.7,717.95 L235.95,719.44 L236.2,720.89 L236.45,722.04 L236.7,722.88 L236.95,723.47 L237.2,723.88 L237.45,724.16 L237.7,724.34 L237.95,724.45 L238.2,724.49 L238.45,724.47 L238.7,724.38 L238.95,724.22 L239.2,723.95 L239.45,723.55 L239.7,722.97 L239.95,722.17 L240.2,721.17 L240.45,720.23 L240.7,719.81 L240.95,720.21 L241.2,721.13 L241.45,722.1 L241.7,722.87 L241.95,723.4 L242.2,723.74 L242.45,723.92 L242.7,723.95 L242.95,723.84 L243.2,723.59 L243.45,723.2 L243.7,722.79 L243.95,722.58 L244.2,722.75 L244.45,723.24 L244.7,723.78 L244.95,724.24 L245.2,724.59 L245.45,724.84 L245.7,725.03 L245.95,725.17 L246.2,725.27 L246.45,725.35 L246.7,725.41 L246.95,725.46 L247.2,725.49 L247.45,725.52 L247.7,725.55 L247.95,725.57" stroke="#1ba59c" stroke-width="1.8" fill="none" stroke-linejoin="round"/>
<path d="M165.4,730.76 L166.6,730.76 L167.1,604.95 L172.4,604.69 L172.65,615.81 L172.9,626.57 L173.15,636.88 L173.4,646.66 L173.65,655.85 L173.9,664.42 L174.15,672.34 L174.4,679.6 L174.65,686.2 L174.9,692.14 L175.15,697.47 L175.4,702.19 L175.65,706.35 L175.9,709.99 L176.15,713.15 L176.4,715.87 L176.65,718.2 L176.9,720.17 L177.15,721.83 L177.4,723.22 L177.65,724.37 L177.9,725.32 L178.15,726.09 L178.4,726.71 L178.65,727.21 L178.9,727.6 L179.15,727.91 L179.4,728.14 L179.65,728.31 L179.9,728.44 L180.15,728.52 L180.4,728.57 L180.65,728.59 L180.9,728.59 L181.15,728.56 L181.4,728.52 L181.65,728.45 L181.9,728.37 L182.15,728.26 L182.4,728.13 L182.65,727.96 L182.9,727.76 L183.15,727.51 L183.4,727.18 L183.65,726.77 L183.9,726.22 L184.15,725.48 L184.4,724.48 L184.65,723.13 L184.9,721.41 L185.15,719.55 L185.4,718.2 L185.65,718.09 L185.9,719.1 L186.15,720.42 L186.4,721.41 L186.65,721.89 L186.9,721.81 L187.15,721.17 L187.4,719.92 L187.65,718.04 L187.9,715.8 L188.15,714.02 L188.4,713.85 L188.65,715.42 L188.9,717.72 L189.15,719.8 L189.4,721.34 L189.65,722.36 L189.9,722.97 L190.15,723.25 L190.4,723.24 L190.65,722.97 L190.9,722.4 L191.15,721.49 L191.4,720.14 L191.65,718.17 L191.9,715.37 L192.15,711.57 L192.4,706.9 L192.65,702.47 L192.9,700.51 L193.15,702.39 L193.4,706.73 L193.65,711.32 L193.9,715.04 L194.15,717.76 L194.4,719.66 L194.65,720.97 L194.9,721.84 L195.15,722.4 L195.4,722.71 L195.65,722.83 L195.9,722.78 L196.15,722.57 L196.4,722.19 L196.65,721.63 L196.9,720.87 L197.15,719.84 L197.4,718.49 L197.65,716.71 L197.9,714.34 L198.15,711.15 L198.4,706.8 L198.65,700.77 L198.9,692.4 L199.15,680.93 L199.4,666.19 L199.65,650.3 L199.9,639.57 L200.15,640.94 L200.4,653.41 L200.65,669.49 L200.9,683.69 L201.15,694.56 L201.4,702.46 L201.65,708.17 L201.9,712.33 L202.15,715.42 L202.4,717.76 L202.65,719.55 L202.9,720.96 L203.15,722.08 L203.4,722.98 L203.65,723.71 L203.9,724.31 L204.15,724.82 L204.4,725.24 L204.65,725.59 L204.9,725.89 L205.15,726.15 L205.4,726.37 L205.65,726.55 L205.9,726.71 L206.15,726.85 L206.4,726.96 L206.65,727.05 L206.9,727.13 L207.15,727.19 L207.4,727.23 L207.65,727.25 L207.9,727.26 L208.15,727.26 L208.4,727.23 L208.65,727.18 L208.9,727.11 L209.15,727.01 L209.4,726.87 L209.65,726.69 L209.9,726.45 L210.15,726.13 L210.4,725.72 L210.65,725.16 L210.9,724.41 L211.15,723.38 L211.4,721.95 L211.65,719.95 L211.9,717.24 L212.15,713.84 L212.4,710.38 L212.65,708.43 L212.9,709.32 L213.15,712.41 L213.4,715.98 L213.65,719.01 L213.9,721.28 L214.15,722.93 L214.4,724.12 L214.65,724.98 L214.9,725.62 L215.15,726.1 L215.4,726.46 L215.65,726.74 L215.9,726.96 L216.15,727.12 L216.4,727.24 L216.65,727.33 L216.9,727.39 L217.15,727.43 L217.4,727.44 L217.65,727.43 L217.9,727.39 L218.15,727.32 L218.4,727.23 L218.65,727.09 L218.9,726.91 L219.15,726.67 L219.4,726.36 L219.65,725.93 L219.9,725.36 L220.15,724.58 L220.4,723.5 L220.65,722 L220.9,719.94 L221.15,717.23 L221.4,714.16 L221.65,711.77 L221.9,711.52 L222.15,713.58 L222.4,716.62 L222.65,719.45 L222.9,721.65 L223.15,723.25 L223.4,724.4 L223.65,725.23 L223.9,725.84 L224.15,726.29 L224.4,726.62 L224.65,726.87 L224.9,727.06 L225.15,727.19 L225.4,727.28 L225.65,727.34 L225.9,727.36 L226.15,727.35 L226.4,727.3 L226.65,727.21 L226.9,727.07 L227.15,726.87 L227.4,726.58 L227.65,726.18 L227.9,725.62 L228.15,724.83 L228.4,723.73 L228.65,722.24 L228.9,720.41 L229.15,718.68 L229.4,717.93 L229.65,718.69 L229.9,720.42 L230.15,722.25 L230.4,723.75 L230.65,724.86 L230.9,725.65 L231.15,726.21 L231.4,726.61 L231.65,726.9 L231.9,727.1 L232.15,727.23 L232.4,727.31 L232.65,727.33 L232.9,727.31 L233.15,727.23 L233.4,727.1 L233.65,726.88 L233.9,726.55 L234.15,726.07 L234.4,725.39 L234.65,724.45 L234.9,723.31 L235.15,722.22 L235.4,721.75 L235.65,722.24 L235.9,723.35 L236.15,724.52 L236.4,725.47 L236.65,726.18 L236.9,726.68 L237.15,727.04 L237.4,727.29 L237.65,727.46 L237.9,727.57 L238.15,727.63 L238.4,727.65 L238.65,727.62 L238.9,727.54 L239.15,727.39 L239.4,727.16 L239.65,726.82 L239.9,726.33 L240.15,725.71 L240.4,725.07 L240.65,724.72 L240.9,724.91 L241.15,725.51 L241.4,726.21 L241.65,726.8 L241.9,727.24 L242.15,727.56 L242.4,727.8 L242.65,727.98 L242.9,728.11 L243.15,728.21 L243.4,728.28 L243.65,728.35 L243.9,728.4 L244.15,728.44 L244.4,728.47 L244.65,728.5 L244.9,728.52 L245.15,728.54 L245.4,728.56 L245.65,728.57 L245.9,728.59 L246.15,728.6 L246.4,728.61 L246.65,728.61 L246.9,728.62 L247.15,728.63 L247.4,728.63 L247.65,728.64 L247.9,728.64" stroke="#2e2526" stroke-width="1.7" fill="none" stroke-linejoin="round" opacity="0.8"/>
</g>
<text x="199" y="623.7" font-size="10" fill="#231f20" stroke="#231f20" stroke-width="0.22">4.5</text>
<text x="209.4" y="657.4" font-size="8.5" fill="#1ba59c" stroke="#1ba59c" stroke-width="0.06">0.84±0.04</text>
<text x="209.4" y="666.4" font-size="8.5" fill="#231f20" stroke="#231f20" stroke-width="0.06">0.62±0.06</text>
<line x1="283.8" y1="619.35" x2="283.8" y2="734.6" stroke="#34292a" stroke-width="1.2" />
<line x1="278.9" y1="619.35" x2="283.8" y2="619.35" stroke="#34292a" stroke-width="1.2" />
<text x="273.7" y="622.55" font-size="9.0" fill="#231f20" stroke="#231f20" stroke-width="0.06" text-anchor="end">120</text>
<line x1="278.9" y1="638.56" x2="283.8" y2="638.56" stroke="#34292a" stroke-width="1.2" />
<text x="273.7" y="641.76" font-size="9.0" fill="#231f20" stroke="#231f20" stroke-width="0.06" text-anchor="end">100</text>
<line x1="278.9" y1="657.77" x2="283.8" y2="657.77" stroke="#34292a" stroke-width="1.2" />
<text x="273.7" y="660.97" font-size="9.0" fill="#231f20" stroke="#231f20" stroke-width="0.06" text-anchor="end">80</text>
<line x1="278.9" y1="676.98" x2="283.8" y2="676.98" stroke="#34292a" stroke-width="1.2" />
<text x="273.7" y="680.18" font-size="9.0" fill="#231f20" stroke="#231f20" stroke-width="0.06" text-anchor="end">60</text>
<line x1="278.9" y1="696.18" x2="283.8" y2="696.18" stroke="#34292a" stroke-width="1.2" />
<text x="273.7" y="699.38" font-size="9.0" fill="#231f20" stroke="#231f20" stroke-width="0.06" text-anchor="end">40</text>
<line x1="278.9" y1="715.39" x2="283.8" y2="715.39" stroke="#34292a" stroke-width="1.2" />
<text x="273.7" y="718.59" font-size="9.0" fill="#231f20" stroke="#231f20" stroke-width="0.06" text-anchor="end">20</text>
<line x1="278.9" y1="734.6" x2="283.8" y2="734.6" stroke="#34292a" stroke-width="1.2" />
<text x="273.7" y="737.8" font-size="9.0" fill="#231f20" stroke="#231f20" stroke-width="0.06" text-anchor="end">0</text>
<line x1="284.8" y1="638.56" x2="375.4" y2="638.56" stroke="#c8c8c8" stroke-width="0.8" stroke-dasharray="1,1.2"/>
<defs><clipPath id="hc283"><rect x="283.8" y="619.35" width="150" height="130"/></clipPath></defs>
<g clip-path="url(#hc283)">
<path d="M292.1,708.67 L292.3,604.95 L297.8,603.74 L298.05,614.23 L298.3,624.45 L298.55,634.29 L298.8,643.69 L299.05,652.59 L299.3,660.94 L299.55,668.72 L299.8,675.91 L300.05,682.49 L300.3,688.49 L300.55,693.9 L300.8,698.75 L301.05,703.06 L301.3,706.87 L301.55,710.21 L301.8,713.12 L302.05,715.64 L302.3,717.8 L302.55,719.64 L302.8,721.2 L303.05,722.5 L303.3,723.59 L303.55,724.49 L303.8,725.22 L304.05,725.81 L304.3,726.28 L304.55,726.64 L304.8,726.92 L305.05,727.11 L305.3,727.24 L305.55,727.31 L305.8,727.32 L306.05,727.28 L306.3,727.17 L306.55,727.01 L306.8,726.76 L307.05,726.42 L307.3,725.95 L307.55,725.29 L307.8,724.39 L308.05,723.13 L308.3,721.4 L308.55,719.13 L308.8,716.55 L309.05,714.55 L309.3,714.32 L309.55,716.02 L309.8,718.54 L310.05,720.88 L310.3,722.69 L310.55,724 L310.8,724.94 L311.05,725.61 L311.3,726.09 L311.55,726.44 L311.8,726.68 L312.05,726.86 L312.3,726.98 L312.55,727.05 L312.8,727.08 L313.05,727.07 L313.3,727.03 L313.55,726.95 L313.8,726.82 L314.05,726.65 L314.3,726.42 L314.55,726.1 L314.8,725.68 L315.05,725.12 L315.3,724.34 L315.55,723.28 L315.8,721.81 L316.05,719.83 L316.3,717.43 L316.55,715.15 L316.8,714.1 L317.05,714.97 L317.3,717.06 L317.55,719.27 L317.8,721.04 L318.05,722.29 L318.3,723.12 L318.55,723.64 L318.8,723.92 L319.05,724.01 L319.3,723.95 L319.55,723.75 L319.8,723.42 L320.05,722.94 L320.3,722.29 L320.55,721.44 L320.8,720.33 L321.05,718.9 L321.3,717.02 L321.55,714.53 L321.8,711.19 L322.05,706.63 L322.3,700.32 L322.55,691.56 L322.8,679.65 L323.05,664.7 L323.3,649.54 L323.55,641 L323.8,644.9 L324.05,658.44 L324.3,674.08 L324.55,687.36 L324.8,697.36 L325.05,704.6 L325.3,709.85 L325.55,713.68 L325.8,716.54 L326.05,718.71 L326.3,720.38 L326.55,721.7 L326.8,722.75 L327.05,723.6 L327.3,724.3 L327.55,724.87 L327.8,725.35 L328.05,725.76 L328.3,726.1 L328.55,726.39 L328.8,726.64 L329.05,726.86 L329.3,727.04 L329.55,727.2 L329.8,727.34 L330.05,727.46 L330.3,727.55 L330.55,727.64 L330.8,727.71 L331.05,727.76 L331.3,727.8 L331.55,727.82 L331.8,727.83 L332.05,727.82 L332.3,727.8 L332.55,727.75 L332.8,727.69 L333.05,727.59 L333.3,727.47 L333.55,727.3 L333.8,727.07 L334.05,726.78 L334.3,726.39 L334.55,725.88 L334.8,725.19 L335.05,724.24 L335.3,722.93 L335.55,721.11 L335.8,718.59 L336.05,715.29 L336.3,711.55 L336.55,708.65 L336.8,708.35 L337.05,710.88 L337.3,714.62 L337.55,718.09 L337.8,720.79 L338.05,722.77 L338.3,724.2 L338.55,725.24 L338.8,726 L339.05,726.58 L339.3,727.01 L339.55,727.35 L339.8,727.61 L340.05,727.82 L340.3,727.98 L340.55,728.11 L340.8,728.2 L341.05,728.27 L341.3,728.31 L341.55,728.34 L341.8,728.34 L342.05,728.31 L342.3,728.26 L342.55,728.18 L342.8,728.07 L343.05,727.9 L343.3,727.68 L343.55,727.38 L343.8,726.97 L344.05,726.41 L344.3,725.64 L344.55,724.56 L344.8,723.05 L345.05,721.01 L345.3,718.52 L345.55,716.17 L345.8,715.15 L346.05,716.2 L346.3,718.57 L346.55,721.08 L346.8,723.14 L347.05,724.68 L347.3,725.78 L347.55,726.58 L347.8,727.16 L348.05,727.59 L348.3,727.91 L348.55,728.15 L348.8,728.34 L349.05,728.47 L349.3,728.57 L349.55,728.63 L349.8,728.67 L350.05,728.67 L350.3,728.64 L350.55,728.58 L350.8,728.48 L351.05,728.33 L351.3,728.11 L351.55,727.8 L351.8,727.37 L352.05,726.75 L352.3,725.88 L352.55,724.68 L352.8,723.13 L353.05,721.45 L353.3,720.33 L353.55,720.48 L353.8,721.82 L354.05,723.54 L354.3,725.06 L354.55,726.21 L354.8,727.06 L355.05,727.66 L355.3,728.1 L355.55,728.42 L355.8,728.65 L356.05,728.82 L356.3,728.95 L356.55,729.03 L356.8,729.08 L357.05,729.09 L357.3,729.07 L357.55,729.01 L357.8,728.9 L358.05,728.73 L358.3,728.46 L358.55,728.08 L358.8,727.53 L359.05,726.81 L359.3,725.98 L359.55,725.33 L359.8,725.28 L360.05,725.87 L360.3,726.72 L360.55,727.52 L360.8,728.13 L361.05,728.58 L361.3,728.9 L361.55,729.13 L361.8,729.28 L362.05,729.39 L362.3,729.45 L362.55,729.48 L362.8,729.47 L363.05,729.41 L363.3,729.31 L363.55,729.13 L363.8,728.87 L364.05,728.49 L364.3,728.02 L364.55,727.58 L364.8,727.4 L365.05,727.63 L365.3,728.12 L365.55,728.64 L365.8,729.07 L366.05,729.4 L366.3,729.63 L366.55,729.81 L366.8,729.94 L367.05,730.04 L367.3,730.13 L367.55,730.19 L367.8,730.24 L368.05,730.29 L368.3,730.33 L368.55,730.36 L368.8,730.39 L369.05,730.42 L369.3,730.44 L369.55,730.46 L369.8,730.48 L370.05,730.5 L370.3,730.52 L370.55,730.53 L370.8,730.55 L371.05,730.56 L371.3,730.58" stroke="#1ba59c" stroke-width="1.8" fill="none" stroke-linejoin="round"/>
<path d="M289.3,719.23 L289.6,696.18 L290.2,717.31 L291,715.39 L291.2,604.95 L295.5,605.73 L295.75,616.86 L296,627.63 L296.25,637.94 L296.5,647.72 L296.75,656.92 L297,665.5 L297.25,673.43 L297.5,680.69 L297.75,687.3 L298,693.25 L298.25,698.58 L298.5,703.31 L298.75,707.48 L299,711.13 L299.25,714.3 L299.5,717.03 L299.75,719.36 L300,721.35 L300.25,723.02 L300.5,724.42 L300.75,725.58 L301,726.54 L301.25,727.32 L301.5,727.96 L301.75,728.47 L302,728.88 L302.25,729.2 L302.5,729.46 L302.75,729.65 L303,729.8 L303.25,729.9 L303.5,729.98 L303.75,730.03 L304,730.06 L304.25,730.08 L304.5,730.07 L304.75,730.06 L305,730.03 L305.25,729.99 L305.5,729.94 L305.75,729.88 L306,729.8 L306.25,729.7 L306.5,729.57 L306.75,729.41 L307,729.21 L307.25,728.95 L307.5,728.6 L307.75,728.13 L308,727.48 L308.25,726.59 L308.5,725.41 L308.75,724.03 L309,722.83 L309.25,722.46 L309.5,723.18 L309.75,724.47 L310,725.73 L310.25,726.73 L310.5,727.46 L310.75,727.96 L311,728.31 L311.25,728.55 L311.5,728.71 L311.75,728.81 L312,728.86 L312.25,728.88 L312.5,728.86 L312.75,728.81 L313,728.73 L313.25,728.62 L313.5,728.47 L313.75,728.28 L314,728.03 L314.25,727.72 L314.5,727.31 L314.75,726.78 L315,726.07 L315.25,725.13 L315.5,723.83 L315.75,722.05 L316,719.64 L316.25,716.63 L316.5,713.57 L316.75,711.8 L317,712.45 L317.25,714.96 L317.5,717.88 L317.75,720.31 L318,722.07 L318.25,723.28 L318.5,724.05 L318.75,724.52 L319,724.75 L319.25,724.79 L319.5,724.66 L319.75,724.38 L320,723.94 L320.25,723.32 L320.5,722.5 L320.75,721.42 L321,720.01 L321.25,718.16 L321.5,715.71 L321.75,712.43 L322,707.97 L322.25,701.8 L322.5,693.24 L322.75,681.51 L323,666.44 L323.25,650.2 L323.5,639.24 L323.75,640.62 L324,653.36 L324.25,669.77 L324.5,684.28 L324.75,695.36 L325,703.43 L325.25,709.26 L325.5,713.51 L325.75,716.67 L326,719.05 L326.25,720.88 L326.5,722.32 L326.75,723.46 L327,724.38 L327.25,725.13 L327.5,725.75 L327.75,726.27 L328,726.7 L328.25,727.07 L328.5,727.38 L328.75,727.65 L329,727.88 L329.25,728.08 L329.5,728.25 L329.75,728.4 L330,728.53 L330.25,728.63 L330.5,728.73 L330.75,728.8 L331,728.87 L331.25,728.92 L331.5,728.95 L331.75,728.98 L332,728.99 L332.25,728.98 L332.5,728.96 L332.75,728.92 L333,728.86 L333.25,728.77 L333.5,728.65 L333.75,728.49 L334,728.28 L334.25,728 L334.5,727.63 L334.75,727.13 L335,726.44 L335.25,725.5 L335.5,724.18 L335.75,722.35 L336,719.92 L336.25,717.04 L336.5,714.56 L336.75,713.85 L337,715.44 L337.25,718.25 L337.5,721.03 L337.75,723.24 L338,724.86 L338.25,726.04 L338.5,726.89 L338.75,727.51 L339,727.98 L339.25,728.33 L339.5,728.6 L339.75,728.81 L340,728.97 L340.25,729.09 L340.5,729.19 L340.75,729.26 L341,729.31 L341.25,729.34 L341.5,729.35 L341.75,729.34 L342,729.32 L342.25,729.27 L342.5,729.19 L342.75,729.09 L343,728.95 L343.25,728.76 L343.5,728.51 L343.75,728.17 L344,727.71 L344.25,727.07 L344.5,726.19 L344.75,724.96 L345,723.28 L345.25,721.17 L345.5,719.03 L345.75,717.83 L346,718.38 L346.25,720.29 L346.5,722.5 L346.75,724.37 L347,725.78 L347.25,726.79 L347.5,727.52 L347.75,728.05 L348,728.44 L348.25,728.73 L348.5,728.95 L348.75,729.11 L349,729.22 L349.25,729.31 L349.5,729.36 L349.75,729.38 L350,729.38 L350.25,729.36 L350.5,729.3 L350.75,729.21 L351,729.07 L351.25,728.88 L351.5,728.61 L351.75,728.24 L352,727.71 L352.25,726.97 L352.5,725.95 L352.75,724.6 L353,723.07 L353.25,721.89 L353.5,721.77 L353.75,722.8 L354,724.32 L354.25,725.73 L354.5,726.83 L354.75,727.63 L355,728.2 L355.25,728.61 L355.5,728.9 L355.75,729.11 L356,729.26 L356.25,729.36 L356.5,729.42 L356.75,729.44 L357,729.43 L357.25,729.39 L357.5,729.3 L357.75,729.15 L358,728.94 L358.25,728.63 L358.5,728.18 L358.75,727.55 L359,726.71 L359.25,725.7 L359.5,724.83 L359.75,724.58 L360,725.14 L360.25,726.13 L360.5,727.11 L360.75,727.88 L361,728.44 L361.25,728.84 L361.5,729.11 L361.75,729.3 L362,729.42 L362.25,729.49 L362.5,729.51 L362.75,729.48 L363,729.41 L363.25,729.26 L363.5,729.03 L363.75,728.69 L364,728.21 L364.25,727.58 L364.5,726.95 L364.75,726.6 L365,726.79 L365.25,727.39 L365.5,728.09 L365.75,728.68 L366,729.13 L366.25,729.45 L366.5,729.69 L366.75,729.87 L367,730 L367.25,730.1 L367.5,730.18 L367.75,730.25 L368,730.3 L368.25,730.34 L368.5,730.38 L368.75,730.41 L369,730.43 L369.25,730.46 L369.5,730.47 L369.75,730.49 L370,730.51 L370.25,730.52 L370.5,730.53 L370.75,730.54 L371,730.55 L371.25,730.56" stroke="#2e2526" stroke-width="1.7" fill="none" stroke-linejoin="round" opacity="0.8"/>
</g>
<text x="317.4" y="623.7" font-size="10" fill="#231f20" stroke="#231f20" stroke-width="0.22">8.5</text>
<text x="333.5" y="657.4" font-size="8.5" fill="#1ba59c" stroke="#1ba59c" stroke-width="0.06">0.57±0.07</text>
<text x="333.5" y="666.4" font-size="8.5" fill="#231f20" stroke="#231f20" stroke-width="0.06">0.36±0.05</text>
<line x1="407" y1="619.35" x2="407" y2="734.6" stroke="#34292a" stroke-width="1.2" />
<line x1="402.1" y1="619.35" x2="407" y2="619.35" stroke="#34292a" stroke-width="1.2" />
<text x="398.2" y="622.55" font-size="9.0" fill="#231f20" stroke="#231f20" stroke-width="0.06" text-anchor="end">120</text>
<line x1="402.1" y1="638.56" x2="407" y2="638.56" stroke="#34292a" stroke-width="1.2" />
<text x="398.2" y="641.76" font-size="9.0" fill="#231f20" stroke="#231f20" stroke-width="0.06" text-anchor="end">100</text>
<line x1="402.1" y1="657.77" x2="407" y2="657.77" stroke="#34292a" stroke-width="1.2" />
<text x="398.2" y="660.97" font-size="9.0" fill="#231f20" stroke="#231f20" stroke-width="0.06" text-anchor="end">80</text>
<line x1="402.1" y1="676.98" x2="407" y2="676.98" stroke="#34292a" stroke-width="1.2" />
<text x="398.2" y="680.18" font-size="9.0" fill="#231f20" stroke="#231f20" stroke-width="0.06" text-anchor="end">60</text>
<line x1="402.1" y1="696.18" x2="407" y2="696.18" stroke="#34292a" stroke-width="1.2" />
<text x="398.2" y="699.38" font-size="9.0" fill="#231f20" stroke="#231f20" stroke-width="0.06" text-anchor="end">40</text>
<line x1="402.1" y1="715.39" x2="407" y2="715.39" stroke="#34292a" stroke-width="1.2" />
<text x="398.2" y="718.59" font-size="9.0" fill="#231f20" stroke="#231f20" stroke-width="0.06" text-anchor="end">20</text>
<line x1="402.1" y1="734.6" x2="407" y2="734.6" stroke="#34292a" stroke-width="1.2" />
<text x="398.2" y="737.8" font-size="9.0" fill="#231f20" stroke="#231f20" stroke-width="0.06" text-anchor="end">0</text>
<line x1="408" y1="638.56" x2="499.5" y2="638.56" stroke="#c8c8c8" stroke-width="0.8" stroke-dasharray="1,1.2"/>
<defs><clipPath id="hc407"><rect x="407.0" y="619.35" width="150" height="130"/></clipPath></defs>
<g clip-path="url(#hc407)">
<path d="M414.8,715.39 L415,604.95 L420.5,606.64 L420.75,615.51 L421,624.27 L421.25,632.84 L421.5,641.17 L421.75,649.18 L422,656.85 L422.25,664.12 L422.5,670.97 L422.75,677.39 L423,683.35 L423.25,688.86 L423.5,693.91 L423.75,698.52 L424,702.7 L424.25,706.46 L424.5,709.83 L424.75,712.82 L425,715.47 L425.25,717.79 L425.5,719.82 L425.75,721.59 L426,723.11 L426.25,724.41 L426.5,725.51 L426.75,726.45 L427,727.22 L427.25,727.87 L427.5,728.39 L427.75,728.81 L428,729.14 L428.25,729.39 L428.5,729.56 L428.75,729.67 L429,729.71 L429.25,729.68 L429.5,729.59 L429.75,729.43 L430,729.17 L430.25,728.8 L430.5,728.28 L430.75,727.55 L431,726.53 L431.25,725.1 L431.5,723.15 L431.75,720.7 L432,718.22 L432.25,716.81 L432.5,717.42 L432.75,719.61 L433,722.13 L433.25,724.27 L433.5,725.87 L433.75,727.02 L434,727.84 L434.25,728.42 L434.5,728.85 L434.75,729.16 L435,729.38 L435.25,729.54 L435.5,729.65 L435.75,729.72 L436,729.75 L436.25,729.76 L436.5,729.74 L436.75,729.69 L437,729.61 L437.25,729.5 L437.5,729.36 L437.75,729.17 L438,728.92 L438.25,728.6 L438.5,728.18 L438.75,727.62 L439,726.87 L439.25,725.85 L439.5,724.45 L439.75,722.58 L440,720.3 L440.25,718.14 L440.5,717.11 L440.75,717.85 L441,719.73 L441.25,721.71 L441.5,723.26 L441.75,724.32 L442,724.97 L442.25,725.31 L442.5,725.4 L442.75,725.28 L443,724.97 L443.25,724.48 L443.5,723.77 L443.75,722.82 L444,721.57 L444.25,719.92 L444.5,717.75 L444.75,714.84 L445,710.9 L445.25,705.49 L445.5,697.99 L445.75,687.6 L446,673.8 L446.25,657.51 L446.5,643.43 L446.75,639.4 L447,648.35 L447.25,664.21 L447.5,679.85 L447.75,692.32 L448,701.5 L448.25,708.14 L448.5,712.95 L448.75,716.5 L449,719.16 L449.25,721.19 L449.5,722.77 L449.75,724.02 L450,725.02 L450.25,725.84 L450.5,726.5 L450.75,727.06 L451,727.52 L451.25,727.92 L451.5,728.25 L451.75,728.53 L452,728.78 L452.25,728.99 L452.5,729.17 L452.75,729.32 L453,729.46 L453.25,729.57 L453.5,729.67 L453.75,729.75 L454,729.82 L454.25,729.87 L454.5,729.91 L454.75,729.93 L455,729.94 L455.25,729.93 L455.5,729.91 L455.75,729.86 L456,729.79 L456.25,729.69 L456.5,729.55 L456.75,729.36 L457,729.11 L457.25,728.77 L457.5,728.31 L457.75,727.67 L458,726.78 L458.25,725.55 L458.5,723.83 L458.75,721.59 L459,719.04 L459.25,717.07 L459.5,716.87 L459.75,718.6 L460,721.15 L460.25,723.52 L460.5,725.36 L460.75,726.71 L461,727.69 L461.25,728.4 L461.5,728.92 L461.75,729.31 L462,729.61 L462.25,729.84 L462.5,730.02 L462.75,730.16 L463,730.27 L463.25,730.36 L463.5,730.42 L463.75,730.47 L464,730.5 L464.25,730.51 L464.5,730.51 L464.75,730.49 L465,730.46 L465.25,730.41 L465.5,730.33 L465.75,730.22 L466,730.07 L466.25,729.87 L466.5,729.6 L466.75,729.22 L467,728.7 L467.25,727.98 L467.5,726.97 L467.75,725.61 L468,723.95 L468.25,722.38 L468.5,721.7 L468.75,722.4 L469,723.98 L469.25,725.65 L469.5,727.03 L469.75,728.05 L470,728.78 L470.25,729.31 L470.5,729.7 L470.75,729.99 L471,730.21 L471.25,730.37 L471.5,730.49 L471.75,730.59 L472,730.66 L472.25,730.71 L472.5,730.74 L472.75,730.76 L473,730.76 L473.25,730.75 L473.5,730.72 L473.75,730.66 L474,730.59 L474.25,730.47 L474.5,730.32 L474.75,730.1 L475,729.79 L475.25,729.36 L475.5,728.76 L475.75,727.95 L476,726.95 L476.25,726.01 L476.5,725.6 L476.75,726.02 L477,726.97 L477.25,727.97 L477.5,728.79 L477.75,729.4 L478,729.83 L478.25,730.14 L478.5,730.37 L478.75,730.53 L479,730.64 L479.25,730.72 L479.5,730.77 L479.75,730.8 L480,730.8 L480.25,730.78 L480.5,730.73 L480.75,730.65 L481,730.53 L481.25,730.35 L481.5,730.1 L481.75,729.73 L482,729.22 L482.25,728.58 L482.5,727.93 L482.75,727.56 L483,727.73 L483.25,728.32 L483.5,729 L483.75,729.57 L484,730 L484.25,730.3 L484.5,730.52 L484.75,730.66 L485,730.76 L485.25,730.82 L485.5,730.84 L485.75,730.84 L486,730.8 L486.25,730.73 L486.5,730.6 L486.75,730.41 L487,730.13 L487.25,729.74 L487.5,729.25 L487.75,728.8 L488,728.6 L488.25,728.82 L488.5,729.31 L488.75,729.82 L489,730.24 L489.25,730.55 L489.5,730.78 L489.75,730.95 L490,731.07 L490.25,731.17 L490.5,731.24 L490.75,731.3 L491,731.34 L491.25,731.38 L491.5,731.41 L491.75,731.43 L492,731.46 L492.25,731.47 L492.5,731.49 L492.75,731.5 L493,731.52 L493.25,731.53 L493.5,731.54 L493.75,731.55 L494,731.55 L494.25,731.56 L494.5,731.57 L494.75,731.57 L495,731.58 L495.25,731.58 L495.5,731.59" stroke="#1ba59c" stroke-width="1.8" fill="none" stroke-linejoin="round"/>
<path d="M413,724.04 L414.2,724.04 L414.5,722.68 L414.8,720.8 L415.1,717.1 L415.4,710.66 L415.7,700.85 L416,687.89 L416.3,673.4 L416.6,660.25 L416.9,651.81 L417.2,650.13 L417.5,650.76 L417.8,652.13 L418.1,654.19 L418.4,656.91 L418.7,660.2 L419,663.97 L419.3,668.14 L419.6,672.61 L419.9,677.27 L420.2,682.03 L420.5,686.79 L420.8,691.47 L421.1,696 L421.4,700.31 L421.7,704.35 L422,708.1 L422.3,711.52 L422.6,714.61 L422.9,717.36 L423.2,719.77 L423.5,721.88 L423.8,723.69 L424.1,725.22 L424.4,726.51 L424.7,727.59 L425,728.47 L425.3,729.19 L425.6,729.76 L425.9,730.22 L426.2,730.59 L426.5,730.87 L426.8,731.09 L427.1,731.25 L427.4,731.38 L427.7,731.47 L428,731.54 L428.3,731.59 L428.6,731.63 L428.9,731.66 L429.2,731.68 L429.5,731.69 L429.8,731.7 L430,731.47 L430.25,731.38 L430.5,731.26 L430.75,731.1 L431,730.88 L431.25,730.58 L431.5,730.18 L431.75,729.68 L432,729.17 L432.25,728.87 L432.5,728.98 L432.75,729.4 L433,729.89 L433.25,730.3 L433.5,730.6 L433.75,730.81 L434,730.96 L434.25,731.05 L434.5,731.11 L434.75,731.14 L435,731.16 L435.25,731.16 L435.5,731.14 L435.75,731.12 L436,731.08 L436.25,731.03 L436.5,730.97 L436.75,730.89 L437,730.8 L437.25,730.69 L437.5,730.56 L437.75,730.39 L438,730.19 L438.25,729.94 L438.5,729.62 L438.75,729.2 L439,728.65 L439.25,727.91 L439.5,726.9 L439.75,725.57 L440,723.96 L440.25,722.41 L440.5,721.65 L440.75,722.11 L441,723.35 L441.25,724.65 L441.5,725.65 L441.75,726.3 L442,726.65 L442.25,726.77 L442.5,726.69 L442.75,726.45 L443,726.05 L443.25,725.47 L443.5,724.71 L443.75,723.7 L444,722.4 L444.25,720.71 L444.5,718.48 L444.75,715.52 L445,711.53 L445.25,706.05 L445.5,698.45 L445.75,687.95 L446,673.99 L446.25,657.53 L446.5,643.3 L446.75,639.22 L447,648.26 L447.25,664.28 L447.5,680.08 L447.75,692.68 L448,701.96 L448.25,708.66 L448.5,713.52 L448.75,717.11 L449,719.8 L449.25,721.85 L449.5,723.45 L449.75,724.71 L450,725.73 L450.25,726.55 L450.5,727.23 L450.75,727.8 L451,728.27 L451.25,728.67 L451.5,729.02 L451.75,729.31 L452,729.56 L452.25,729.78 L452.5,729.97 L452.75,730.14 L453,730.29 L453.25,730.42 L453.5,730.53 L453.75,730.63 L454,730.71 L454.25,730.78 L454.5,730.84 L454.75,730.89 L455,730.93 L455.25,730.96 L455.5,730.97 L455.75,730.98 L456,730.96 L456.25,730.93 L456.5,730.88 L456.75,730.8 L457,730.68 L457.25,730.52 L457.5,730.29 L457.75,729.97 L458,729.51 L458.25,728.86 L458.5,727.96 L458.75,726.78 L459,725.43 L459.25,724.39 L459.5,724.3 L459.75,725.23 L460,726.6 L460.25,727.88 L460.5,728.87 L460.75,729.6 L461,730.13 L461.25,730.52 L461.5,730.8 L461.75,731.02 L462,731.19 L462.25,731.32 L462.5,731.43 L462.75,731.51 L463,731.58 L463.25,731.63 L463.5,731.67 L463.75,731.71 L464,731.74 L464.25,731.75 L464.5,731.77 L464.75,731.77 L465,731.77 L465.25,731.76 L465.5,731.73 L465.75,731.7 L466,731.65 L466.25,731.57 L466.5,731.47 L466.75,731.33 L467,731.13 L467.25,730.84 L467.5,730.45 L467.75,729.91 L468,729.25 L468.25,728.63 L468.5,728.36 L468.75,728.64 L469,729.28 L469.25,729.95 L469.5,730.51 L469.75,730.92 L470,731.22 L470.25,731.43 L470.5,731.59 L470.75,731.71 L471,731.8 L471.25,731.87 L471.5,731.92 L471.75,731.96 L472,731.99 L472.25,732.01 L472.5,732.03 L472.75,732.04 L473,732.04 L473.25,732.03 L473.5,732.02 L473.75,731.99 L474,731.95 L474.25,731.9 L474.5,731.82 L474.75,731.72 L475,731.57 L475.25,731.36 L475.5,731.06 L475.75,730.66 L476,730.16 L476.25,729.7 L476.5,729.5 L476.75,729.71 L477,730.19 L477.25,730.7 L477.5,731.12 L477.75,731.43 L478,731.65 L478.25,731.82 L478.5,731.94 L478.75,732.03 L479,732.11 L479.25,732.16 L479.5,732.21 L479.75,732.24 L480,732.28 L480.25,732.3 L480.5,732.32 L480.75,732.34 L481,732.36 L481.25,732.37 L481.5,732.39 L481.75,732.4 L482,732.41 L482.25,732.42 L482.5,732.43 L482.75,732.44 L483,732.45 L483.25,732.45 L483.5,732.46 L483.75,732.47 L484,732.47 L484.25,732.48 L484.5,732.48 L484.75,732.49 L485,732.49 L485.25,732.5 L485.5,732.5 L485.75,732.51 L486,732.51 L486.25,732.52 L486.5,732.52 L486.75,732.52 L487,732.53 L487.25,732.53 L487.5,732.54 L487.75,732.54 L488,732.54 L488.25,732.55 L488.5,732.55 L488.75,732.55 L489,732.56 L489.25,732.56 L489.5,732.56 L489.75,732.57 L490,732.57 L490.25,732.57 L490.5,732.58 L490.75,732.58 L491,732.58 L491.25,732.58 L491.5,732.59 L491.75,732.59 L492,732.59 L492.25,732.6 L492.5,732.6 L492.75,732.6 L493,732.6 L493.25,732.61 L493.5,732.61 L493.75,732.61 L494,732.61 L494.25,732.62 L494.5,732.62 L494.75,732.62 L495,732.62 L495.25,732.63 L495.5,732.63" stroke="#2e2526" stroke-width="1.7" fill="none" stroke-linejoin="round" opacity="0.8"/>
</g>
<text x="442.4" y="623.7" font-size="10" fill="#231f20" stroke="#231f20" stroke-width="0.22">12.5 (min)</text>
<text x="457.2" y="657.4" font-size="8.5" fill="#1ba59c" stroke="#1ba59c" stroke-width="0.06">0.34±0.08</text>
<text x="457.2" y="666.4" font-size="8.5" fill="#231f20" stroke="#231f20" stroke-width="0.06">0.18±0.04</text>
<line x1="566.1" y1="619" x2="566.1" y2="722" stroke="#34292a" stroke-width="1.2" />
<line x1="561.6" y1="619" x2="566.1" y2="619" stroke="#34292a" stroke-width="1.2" />
<text x="558.6" y="622" font-size="8.6" fill="#231f20" stroke="#231f20" stroke-width="0.06" text-anchor="end">2.0</text>
<line x1="561.6" y1="631.88" x2="566.1" y2="631.88" stroke="#34292a" stroke-width="1.2" />
<line x1="561.6" y1="644.75" x2="566.1" y2="644.75" stroke="#34292a" stroke-width="1.2" />
<text x="558.6" y="647.75" font-size="8.6" fill="#231f20" stroke="#231f20" stroke-width="0.06" text-anchor="end">1.5</text>
<line x1="561.6" y1="657.62" x2="566.1" y2="657.62" stroke="#34292a" stroke-width="1.2" />
<line x1="561.6" y1="670.5" x2="566.1" y2="670.5" stroke="#34292a" stroke-width="1.2" />
<text x="558.6" y="673.5" font-size="8.6" fill="#231f20" stroke="#231f20" stroke-width="0.06" text-anchor="end">1.0</text>
<line x1="561.6" y1="683.38" x2="566.1" y2="683.38" stroke="#34292a" stroke-width="1.2" />
<line x1="561.6" y1="696.25" x2="566.1" y2="696.25" stroke="#34292a" stroke-width="1.2" />
<text x="558.6" y="699.25" font-size="8.6" fill="#231f20" stroke="#231f20" stroke-width="0.06" text-anchor="end">0.5</text>
<line x1="561.6" y1="709.12" x2="566.1" y2="709.12" stroke="#34292a" stroke-width="1.2" />
<line x1="561.6" y1="722" x2="566.1" y2="722" stroke="#34292a" stroke-width="1.2" />
<text x="558.6" y="725" font-size="8.6" fill="#231f20" stroke="#231f20" stroke-width="0.06" text-anchor="end">0.0</text>
<line x1="572.3" y1="722" x2="665.5" y2="722" stroke="#34292a" stroke-width="1.2" />
<line x1="572.3" y1="722" x2="572.3" y2="725.6" stroke="#34292a" stroke-width="1.2" />
<text x="572.3" y="735.8" font-size="8.6" fill="#231f20" stroke="#231f20" stroke-width="0.06" text-anchor="middle">0</text>
<line x1="590.85" y1="722" x2="590.85" y2="725.6" stroke="#34292a" stroke-width="1.2" />
<text x="590.85" y="735.8" font-size="8.6" fill="#231f20" stroke="#231f20" stroke-width="0.06" text-anchor="middle">2.5</text>
<line x1="609.4" y1="722" x2="609.4" y2="725.6" stroke="#34292a" stroke-width="1.2" />
<text x="609.4" y="735.8" font-size="8.6" fill="#231f20" stroke="#231f20" stroke-width="0.06" text-anchor="middle">5</text>
<line x1="627.95" y1="722" x2="627.95" y2="725.6" stroke="#34292a" stroke-width="1.2" />
<text x="627.95" y="735.8" font-size="8.6" fill="#231f20" stroke="#231f20" stroke-width="0.06" text-anchor="middle">7.5</text>
<line x1="646.5" y1="722" x2="646.5" y2="725.6" stroke="#34292a" stroke-width="1.2" />
<text x="646.5" y="735.8" font-size="8.6" fill="#231f20" stroke="#231f20" stroke-width="0.06" text-anchor="middle">10</text>
<line x1="665.05" y1="722" x2="665.05" y2="725.6" stroke="#34292a" stroke-width="1.2" />
<text x="665.05" y="735.8" font-size="8.6" fill="#231f20" stroke="#231f20" stroke-width="0.06" text-anchor="middle">12.5</text>
<text transform="translate(540,670.5) rotate(-90)" font-size="10" fill="#231f20" stroke="#231f20" stroke-width="0.22" text-anchor="middle">Polysome/80S ratio</text>
<text x="618.8" y="745.7" font-size="10" fill="#231f20" stroke="#231f20" stroke-width="0.22" text-anchor="middle">Time post LTM addition (min)</text>
<path d="M572.3,625.18 L605.69,689.55 L635.37,702.95 L665.05,712.22" stroke="#3d3637" stroke-width="1.5" fill="none" />
<line x1="572.3" y1="631.88" x2="572.3" y2="618.49" stroke="#3d3637" stroke-width="1" />
<circle cx="572.3" cy="625.18" r="1.9" fill="#6d6767"/>
<line x1="605.69" y1="692.64" x2="605.69" y2="686.47" stroke="#3d3637" stroke-width="1" />
<circle cx="605.69" cy="689.55" r="1.9" fill="#6d6767"/>
<line x1="635.37" y1="705.52" x2="635.37" y2="700.37" stroke="#3d3637" stroke-width="1" />
<circle cx="635.37" cy="702.95" r="1.9" fill="#6d6767"/>
<line x1="665.05" y1="714.27" x2="665.05" y2="710.15" stroke="#3d3637" stroke-width="1" />
<circle cx="665.05" cy="712.22" r="1.9" fill="#6d6767"/>
<path d="M572.3,630.33 L605.69,678.74 L635.37,692.13 L665.05,704.49" stroke="#1ba59c" stroke-width="1.8" fill="none" />
<line x1="572.3" y1="640.12" x2="572.3" y2="620.54" stroke="#1ba59c" stroke-width="1" />
<circle cx="572.3" cy="630.33" r="1.9" fill="#5cc6bd"/>
<line x1="605.69" y1="680.8" x2="605.69" y2="676.68" stroke="#1ba59c" stroke-width="1" />
<circle cx="605.69" cy="678.74" r="1.9" fill="#5cc6bd"/>
<line x1="635.37" y1="695.74" x2="635.37" y2="688.52" stroke="#1ba59c" stroke-width="1" />
<circle cx="635.37" cy="692.13" r="1.9" fill="#5cc6bd"/>
<line x1="665.05" y1="708.61" x2="665.05" y2="700.37" stroke="#1ba59c" stroke-width="1" />
<circle cx="665.05" cy="704.49" r="1.9" fill="#5cc6bd"/>
<text x="568.1" y="612.5" font-size="8.8" fill="#231f20" stroke="#231f20" stroke-width="0.1"><tspan font-style="italic">p</tspan> = 0.482</text>
<text x="619.3" y="679.3" font-size="8.8" fill="#231f20" stroke="#231f20" stroke-width="0.1"><tspan font-style="italic">p</tspan> = 0.017</text>
<text x="648.2" y="693.6" font-size="8.8" fill="#231f20" stroke="#231f20" stroke-width="0.1"><tspan font-style="italic">p</tspan> = 0.057</text>
<text x="575.3" y="703.7" font-size="8.8" fill="#231f20" stroke="#231f20" stroke-width="0.1"><tspan font-style="italic">p</tspan> = 0.011</text>
<text x="597" y="626.2" font-size="9.9" fill="#231f20" stroke="#231f20" stroke-width="0.2" font-style="italic">rdnΔΔ+POL1p-</text>
<line x1="597.8" y1="636.8" x2="607.8" y2="636.8" stroke="#231f20" stroke-width="1.8" />
<text x="611.2" y="640" font-size="9.9" fill="#231f20" stroke="#231f20" stroke-width="0.22" font-style="italic">18S: WT</text>
<line x1="597.8" y1="652.1" x2="607.8" y2="652.1" stroke="#1ba59c" stroke-width="1.8" />
<text x="611.2" y="655" font-size="9.9" fill="#1ba59c" stroke="#1ba59c" stroke-width="0.22" font-style="italic">18S: GA/AG</text>
</svg></body></html>
